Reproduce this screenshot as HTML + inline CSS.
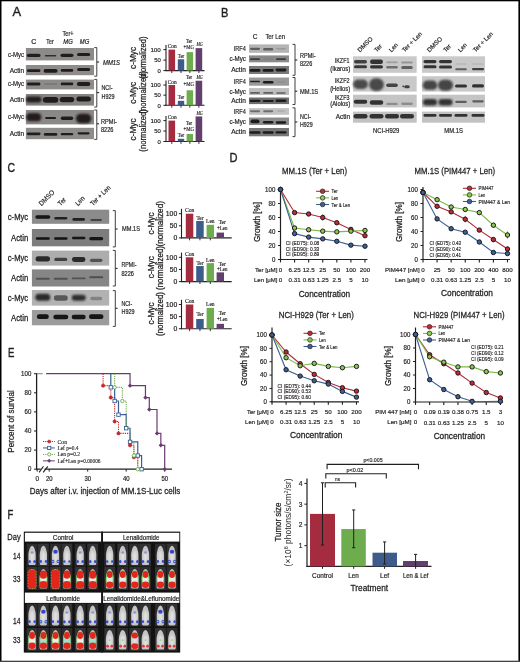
<!DOCTYPE html>
<html><head><meta charset="utf-8"><title>Figure</title>
<style>html,body{margin:0;padding:0;background:#fff;}body{width:520px;height:662px;overflow:hidden;font-family:"Liberation Sans",sans-serif;}svg{display:block;filter:blur(0.35px);}</style>
</head><body>
<svg width="520" height="662" viewBox="0 0 520 662"><defs>
<filter id="b1" x="-50%" y="-100%" width="200%" height="300%"><feGaussianBlur stdDeviation="0.6"/></filter>
<filter id="b2" x="-50%" y="-50%" width="200%" height="200%"><feGaussianBlur stdDeviation="1.0"/></filter>
<filter id="b05" x="-50%" y="-50%" width="200%" height="200%"><feGaussianBlur stdDeviation="0.5"/></filter>
<filter id="b06" x="-50%" y="-50%" width="200%" height="200%"><feGaussianBlur stdDeviation="0.6"/></filter>
<filter id="b08" x="-50%" y="-50%" width="200%" height="200%"><feGaussianBlur stdDeviation="1.0"/></filter>
</defs>
<rect x="0.00" y="0.00" width="520.00" height="1.30" fill="#000"/>
<rect x="0.00" y="0.00" width="1.50" height="662.00" fill="#000"/>
<rect x="518.40" y="0.00" width="1.60" height="662.00" fill="#000"/>
<rect x="0.00" y="660.70" width="520.00" height="1.30" fill="#444"/>
<text x="12.60" y="16.20" font-size="13" text-anchor="start" fill="#231f20" stroke="#231f20" stroke-width="0.390" font-family='"Liberation Sans", sans-serif' textLength="8.60" lengthAdjust="spacingAndGlyphs">A</text>
<text x="221.00" y="16.60" font-size="13" text-anchor="start" fill="#231f20" stroke="#231f20" stroke-width="0.390" font-family='"Liberation Sans", sans-serif' textLength="7.40" lengthAdjust="spacingAndGlyphs">B</text>
<text x="7.40" y="172.20" font-size="13" text-anchor="start" fill="#231f20" stroke="#231f20" stroke-width="0.390" font-family='"Liberation Sans", sans-serif' textLength="7.60" lengthAdjust="spacingAndGlyphs">C</text>
<text x="229.60" y="161.60" font-size="13" text-anchor="start" fill="#231f20" stroke="#231f20" stroke-width="0.390" font-family='"Liberation Sans", sans-serif' textLength="8.00" lengthAdjust="spacingAndGlyphs">D</text>
<text x="8.00" y="356.60" font-size="13" text-anchor="start" fill="#231f20" stroke="#231f20" stroke-width="0.390" font-family='"Liberation Sans", sans-serif' textLength="6.40" lengthAdjust="spacingAndGlyphs">E</text>
<text x="7.60" y="518.80" font-size="13" text-anchor="start" fill="#231f20" stroke="#231f20" stroke-width="0.390" font-family='"Liberation Sans", sans-serif' textLength="5.80" lengthAdjust="spacingAndGlyphs">F</text>
<text x="33.80" y="44.40" font-size="7" text-anchor="middle" fill="#231f20" stroke="#231f20" stroke-width="0.210" font-family='"Liberation Sans", sans-serif'>C</text>
<text x="50.00" y="44.40" font-size="7" text-anchor="middle" fill="#231f20" stroke="#231f20" stroke-width="0.210" font-family='"Liberation Sans", sans-serif' textLength="7.50" lengthAdjust="spacingAndGlyphs">Ter</text>
<text x="68.00" y="35.60" font-size="7" text-anchor="middle" fill="#231f20" stroke="#231f20" stroke-width="0.210" font-family='"Liberation Sans", sans-serif' textLength="11.00" lengthAdjust="spacingAndGlyphs">Ter+</text>
<text x="68.00" y="44.40" font-size="7" text-anchor="middle" fill="#231f20" stroke="#231f20" stroke-width="0.210" font-family='"Liberation Sans", sans-serif' textLength="9.50" lengthAdjust="spacingAndGlyphs" font-style="italic">MG</text>
<text x="84.50" y="44.40" font-size="7" text-anchor="middle" fill="#231f20" stroke="#231f20" stroke-width="0.210" font-family='"Liberation Sans", sans-serif' textLength="9.50" lengthAdjust="spacingAndGlyphs" font-style="italic">MG</text>
<rect x="25.90" y="48.00" width="68.10" height="12.40" fill="#8d8b8a"/>
<rect x="26.90" y="53.70" width="13.60" height="3.40" rx="1.70" fill="#211f1e" opacity="1" filter="url(#b1)"/>
<rect x="44.85" y="54.90" width="11.50" height="1.60" rx="0.80" fill="#211f1e" opacity="0.85" filter="url(#b1)"/>
<rect x="60.50" y="53.70" width="13.00" height="3.20" rx="1.60" fill="#211f1e" opacity="1" filter="url(#b1)"/>
<rect x="77.00" y="53.10" width="13.20" height="3.00" rx="1.50" fill="#211f1e" opacity="1" filter="url(#b1)"/>
<rect x="25.90" y="65.00" width="68.10" height="10.20" fill="#8e8c8b"/>
<rect x="26.95" y="69.30" width="13.50" height="2.80" rx="1.40" fill="#211f1e" opacity="1" filter="url(#b1)"/>
<rect x="43.60" y="69.10" width="14.00" height="3.60" rx="1.80" fill="#211f1e" opacity="1" filter="url(#b1)"/>
<rect x="60.75" y="69.10" width="12.50" height="2.60" rx="1.30" fill="#211f1e" opacity="1" filter="url(#b1)"/>
<rect x="77.10" y="68.00" width="13.00" height="3.00" rx="1.50" fill="#211f1e" opacity="1" filter="url(#b1)"/>
<rect x="25.90" y="79.60" width="68.10" height="9.80" fill="#8d8b8a"/>
<rect x="26.95" y="82.60" width="13.50" height="2.80" rx="1.40" fill="#211f1e" opacity="1" filter="url(#b1)"/>
<rect x="44.10" y="83.10" width="13.00" height="1.80" rx="0.90" fill="#666" opacity="0.45" filter="url(#b1)"/>
<rect x="60.75" y="82.60" width="12.50" height="2.60" rx="1.30" fill="#211f1e" opacity="1" filter="url(#b1)"/>
<rect x="76.85" y="82.00" width="13.50" height="4.00" rx="2.00" fill="#211f1e" opacity="1" filter="url(#b1)"/>
<rect x="25.90" y="94.00" width="68.10" height="11.60" fill="#878584"/>
<rect x="25.95" y="96.50" width="15.50" height="6.00" rx="3.00" fill="#211f1e" opacity="1" filter="url(#b2)"/>
<rect x="42.85" y="96.90" width="15.50" height="5.80" rx="2.90" fill="#211f1e" opacity="1" filter="url(#b1)"/>
<rect x="59.75" y="97.00" width="14.50" height="5.20" rx="2.60" fill="#211f1e" opacity="1" filter="url(#b1)"/>
<rect x="76.35" y="96.50" width="14.50" height="5.00" rx="2.50" fill="#211f1e" opacity="1" filter="url(#b1)"/>
<rect x="25.90" y="110.00" width="68.10" height="14.40" fill="#8b8988"/>
<rect x="26.10" y="113.05" width="15.20" height="8.30" rx="4.15" fill="#211f1e" opacity="1" filter="url(#b2)"/>
<rect x="45.10" y="116.90" width="11.00" height="2.20" rx="1.10" fill="#211f1e" opacity="1" filter="url(#b1)"/>
<rect x="60.75" y="116.50" width="12.50" height="3.40" rx="1.70" fill="#211f1e" opacity="1" filter="url(#b1)"/>
<rect x="75.90" y="113.70" width="15.40" height="9.60" rx="4.80" fill="#211f1e" opacity="1" filter="url(#b2)"/>
<rect x="25.90" y="127.80" width="68.10" height="11.40" fill="#8f8d8c"/>
<rect x="26.80" y="132.40" width="13.80" height="2.80" rx="1.40" fill="#211f1e" opacity="1" filter="url(#b1)"/>
<rect x="43.85" y="133.00" width="13.50" height="2.80" rx="1.40" fill="#211f1e" opacity="1" filter="url(#b1)"/>
<rect x="60.75" y="132.90" width="12.50" height="2.40" rx="1.20" fill="#211f1e" opacity="1" filter="url(#b1)"/>
<rect x="77.60" y="132.20" width="12.00" height="2.20" rx="1.10" fill="#211f1e" opacity="1" filter="url(#b1)"/>
<text x="24.00" y="57.00" font-size="7" text-anchor="end" fill="#231f20" stroke="#231f20" stroke-width="0.210" font-family='"Liberation Sans", sans-serif' textLength="16.00" lengthAdjust="spacingAndGlyphs">c-Myc</text>
<text x="24.00" y="72.60" font-size="7" text-anchor="end" fill="#231f20" stroke="#231f20" stroke-width="0.210" font-family='"Liberation Sans", sans-serif' textLength="14.30" lengthAdjust="spacingAndGlyphs">Actin</text>
<text x="24.00" y="86.40" font-size="7" text-anchor="end" fill="#231f20" stroke="#231f20" stroke-width="0.210" font-family='"Liberation Sans", sans-serif' textLength="16.00" lengthAdjust="spacingAndGlyphs">c-Myc</text>
<text x="24.00" y="102.20" font-size="7" text-anchor="end" fill="#231f20" stroke="#231f20" stroke-width="0.210" font-family='"Liberation Sans", sans-serif' textLength="14.30" lengthAdjust="spacingAndGlyphs">Actin</text>
<text x="24.00" y="119.40" font-size="7" text-anchor="end" fill="#231f20" stroke="#231f20" stroke-width="0.210" font-family='"Liberation Sans", sans-serif' textLength="16.00" lengthAdjust="spacingAndGlyphs">c-Myc</text>
<text x="24.00" y="135.60" font-size="7" text-anchor="end" fill="#231f20" stroke="#231f20" stroke-width="0.210" font-family='"Liberation Sans", sans-serif' textLength="14.30" lengthAdjust="spacingAndGlyphs">Actin</text>
<path d="M94.30,47.60 H96.80 V76.20 H94.30" stroke="#2a2a2a" stroke-width="0.9" fill="none"/>
<line x1="96.80" y1="62.00" x2="99.10" y2="62.00" stroke="#2a2a2a" stroke-width="1.1"/>
<path d="M94.30,79.40 H96.80 V107.00 H94.30" stroke="#2a2a2a" stroke-width="0.9" fill="none"/>
<line x1="96.80" y1="92.60" x2="99.10" y2="92.60" stroke="#2a2a2a" stroke-width="1.1"/>
<path d="M94.30,110.00 H96.80 V139.40 H94.30" stroke="#2a2a2a" stroke-width="0.9" fill="none"/>
<line x1="96.80" y1="123.80" x2="99.10" y2="123.80" stroke="#2a2a2a" stroke-width="1.1"/>
<text x="103.00" y="65.40" font-size="7" text-anchor="start" fill="#231f20" stroke="#231f20" stroke-width="0.210" font-family='"Liberation Sans", sans-serif' textLength="17.00" lengthAdjust="spacingAndGlyphs" font-style="italic">MM1S</text>
<text x="101.50" y="90.20" font-size="7" text-anchor="start" fill="#231f20" stroke="#231f20" stroke-width="0.210" font-family='"Liberation Sans", sans-serif' textLength="11.00" lengthAdjust="spacingAndGlyphs">NCI-</text>
<text x="101.50" y="99.40" font-size="7" text-anchor="start" fill="#231f20" stroke="#231f20" stroke-width="0.210" font-family='"Liberation Sans", sans-serif' textLength="13.00" lengthAdjust="spacingAndGlyphs">H929</text>
<text x="101.00" y="124.20" font-size="7" text-anchor="start" fill="#231f20" stroke="#231f20" stroke-width="0.210" font-family='"Liberation Sans", sans-serif' textLength="16.00" lengthAdjust="spacingAndGlyphs">RPMI-</text>
<text x="101.00" y="132.40" font-size="7" text-anchor="start" fill="#231f20" stroke="#231f20" stroke-width="0.210" font-family='"Liberation Sans", sans-serif' textLength="12.50" lengthAdjust="spacingAndGlyphs">8226</text>
<line x1="166.00" y1="45.00" x2="166.00" y2="71.10" stroke="#231f20" stroke-width="1.1"/>
<line x1="165.50" y1="70.60" x2="204.50" y2="70.60" stroke="#231f20" stroke-width="1.1"/>
<line x1="163.40" y1="70.60" x2="166.00" y2="70.60" stroke="#231f20" stroke-width="1"/>
<text x="160.80" y="72.80" font-size="6.2" text-anchor="end" fill="#231f20" stroke="#231f20" stroke-width="0.186" font-family='"Liberation Sans", sans-serif' textLength="3.30" lengthAdjust="spacingAndGlyphs">0</text>
<line x1="163.40" y1="60.10" x2="166.00" y2="60.10" stroke="#231f20" stroke-width="1"/>
<text x="160.80" y="62.30" font-size="6.2" text-anchor="end" fill="#231f20" stroke="#231f20" stroke-width="0.186" font-family='"Liberation Sans", sans-serif' textLength="6.60" lengthAdjust="spacingAndGlyphs">50</text>
<line x1="163.40" y1="49.60" x2="166.00" y2="49.60" stroke="#231f20" stroke-width="1"/>
<text x="160.80" y="51.80" font-size="6.2" text-anchor="end" fill="#231f20" stroke="#231f20" stroke-width="0.186" font-family='"Liberation Sans", sans-serif' textLength="10.40" lengthAdjust="spacingAndGlyphs">100</text>
<rect x="168.50" y="49.60" width="6.60" height="21.00" fill="#a52b3f"/>
<line x1="171.80" y1="70.60" x2="171.80" y2="73.00" stroke="#231f20" stroke-width="0.9"/>
<rect x="177.80" y="59.26" width="6.40" height="11.34" fill="#3e5c8a"/>
<line x1="181.00" y1="70.60" x2="181.00" y2="73.00" stroke="#231f20" stroke-width="0.9"/>
<rect x="186.60" y="52.12" width="6.50" height="18.48" fill="#6dad4e"/>
<line x1="189.85" y1="70.60" x2="189.85" y2="73.00" stroke="#231f20" stroke-width="0.9"/>
<rect x="195.60" y="48.13" width="6.60" height="22.47" fill="#633f6e"/>
<line x1="198.90" y1="70.60" x2="198.90" y2="73.00" stroke="#231f20" stroke-width="0.9"/>
<text x="172.20" y="48.20" font-size="5.2" text-anchor="middle" fill="#231f20" stroke="#231f20" stroke-width="0.156" font-family='"Liberation Serif", serif' textLength="9.00" lengthAdjust="spacingAndGlyphs">Con</text>
<text x="181.00" y="58.20" font-size="5.2" text-anchor="middle" fill="#231f20" stroke="#231f20" stroke-width="0.156" font-family='"Liberation Serif", serif' textLength="6.40" lengthAdjust="spacingAndGlyphs">Ter</text>
<text x="189.00" y="43.00" font-size="5.2" text-anchor="middle" fill="#231f20" stroke="#231f20" stroke-width="0.156" font-family='"Liberation Serif", serif' textLength="6.20" lengthAdjust="spacingAndGlyphs">Ter</text>
<text x="188.80" y="49.40" font-size="5.2" text-anchor="middle" fill="#231f20" stroke="#231f20" stroke-width="0.156" font-family='"Liberation Serif", serif' textLength="10.50" lengthAdjust="spacingAndGlyphs">+MG</text>
<text x="199.60" y="46.00" font-size="5.2" text-anchor="middle" fill="#231f20" stroke="#231f20" stroke-width="0.156" font-family='"Liberation Serif", serif' textLength="6.40" lengthAdjust="spacingAndGlyphs" font-style="italic">MG</text>
<line x1="166.00" y1="80.60" x2="166.00" y2="105.80" stroke="#231f20" stroke-width="1.1"/>
<line x1="165.50" y1="105.30" x2="204.50" y2="105.30" stroke="#231f20" stroke-width="1.1"/>
<line x1="163.40" y1="105.30" x2="166.00" y2="105.30" stroke="#231f20" stroke-width="1"/>
<text x="160.80" y="107.50" font-size="6.2" text-anchor="end" fill="#231f20" stroke="#231f20" stroke-width="0.186" font-family='"Liberation Sans", sans-serif' textLength="3.30" lengthAdjust="spacingAndGlyphs">0</text>
<line x1="163.40" y1="95.15" x2="166.00" y2="95.15" stroke="#231f20" stroke-width="1"/>
<text x="160.80" y="97.35" font-size="6.2" text-anchor="end" fill="#231f20" stroke="#231f20" stroke-width="0.186" font-family='"Liberation Sans", sans-serif' textLength="6.60" lengthAdjust="spacingAndGlyphs">50</text>
<line x1="163.40" y1="85.00" x2="166.00" y2="85.00" stroke="#231f20" stroke-width="1"/>
<text x="160.80" y="87.20" font-size="6.2" text-anchor="end" fill="#231f20" stroke="#231f20" stroke-width="0.186" font-family='"Liberation Sans", sans-serif' textLength="10.40" lengthAdjust="spacingAndGlyphs">100</text>
<rect x="168.50" y="85.00" width="6.60" height="20.30" fill="#a52b3f"/>
<line x1="171.80" y1="105.30" x2="171.80" y2="107.70" stroke="#231f20" stroke-width="0.9"/>
<rect x="177.80" y="100.83" width="6.40" height="4.47" fill="#3e5c8a"/>
<line x1="181.00" y1="105.30" x2="181.00" y2="107.70" stroke="#231f20" stroke-width="0.9"/>
<rect x="186.60" y="90.28" width="6.50" height="15.02" fill="#6dad4e"/>
<line x1="189.85" y1="105.30" x2="189.85" y2="107.70" stroke="#231f20" stroke-width="0.9"/>
<rect x="195.60" y="80.74" width="6.60" height="24.56" fill="#633f6e"/>
<line x1="198.90" y1="105.30" x2="198.90" y2="107.70" stroke="#231f20" stroke-width="0.9"/>
<text x="172.20" y="83.80" font-size="5.2" text-anchor="middle" fill="#231f20" stroke="#231f20" stroke-width="0.156" font-family='"Liberation Serif", serif' textLength="9.00" lengthAdjust="spacingAndGlyphs">Con</text>
<text x="181.00" y="98.80" font-size="5.2" text-anchor="middle" fill="#231f20" stroke="#231f20" stroke-width="0.156" font-family='"Liberation Serif", serif' textLength="6.40" lengthAdjust="spacingAndGlyphs">Ter</text>
<text x="189.00" y="79.20" font-size="5.2" text-anchor="middle" fill="#231f20" stroke="#231f20" stroke-width="0.156" font-family='"Liberation Serif", serif' textLength="6.20" lengthAdjust="spacingAndGlyphs">Ter</text>
<text x="188.80" y="86.00" font-size="5.2" text-anchor="middle" fill="#231f20" stroke="#231f20" stroke-width="0.156" font-family='"Liberation Serif", serif' textLength="10.50" lengthAdjust="spacingAndGlyphs">+MG</text>
<text x="199.60" y="78.80" font-size="5.2" text-anchor="middle" fill="#231f20" stroke="#231f20" stroke-width="0.156" font-family='"Liberation Serif", serif' textLength="6.40" lengthAdjust="spacingAndGlyphs" font-style="italic">MG</text>
<line x1="166.00" y1="116.00" x2="166.00" y2="142.00" stroke="#231f20" stroke-width="1.1"/>
<line x1="165.50" y1="141.50" x2="204.50" y2="141.50" stroke="#231f20" stroke-width="1.1"/>
<line x1="163.40" y1="141.50" x2="166.00" y2="141.50" stroke="#231f20" stroke-width="1"/>
<text x="160.80" y="143.70" font-size="6.2" text-anchor="end" fill="#231f20" stroke="#231f20" stroke-width="0.186" font-family='"Liberation Sans", sans-serif' textLength="3.30" lengthAdjust="spacingAndGlyphs">0</text>
<line x1="163.40" y1="131.05" x2="166.00" y2="131.05" stroke="#231f20" stroke-width="1"/>
<text x="160.80" y="133.25" font-size="6.2" text-anchor="end" fill="#231f20" stroke="#231f20" stroke-width="0.186" font-family='"Liberation Sans", sans-serif' textLength="6.60" lengthAdjust="spacingAndGlyphs">50</text>
<line x1="163.40" y1="120.60" x2="166.00" y2="120.60" stroke="#231f20" stroke-width="1"/>
<text x="160.80" y="122.80" font-size="6.2" text-anchor="end" fill="#231f20" stroke="#231f20" stroke-width="0.186" font-family='"Liberation Sans", sans-serif' textLength="10.40" lengthAdjust="spacingAndGlyphs">100</text>
<rect x="168.50" y="120.60" width="6.60" height="20.90" fill="#a52b3f"/>
<line x1="171.80" y1="141.50" x2="171.80" y2="143.90" stroke="#231f20" stroke-width="0.9"/>
<rect x="177.80" y="138.78" width="6.40" height="2.72" fill="#3e5c8a"/>
<line x1="181.00" y1="141.50" x2="181.00" y2="143.90" stroke="#231f20" stroke-width="0.9"/>
<rect x="186.60" y="133.98" width="6.50" height="7.52" fill="#6dad4e"/>
<line x1="189.85" y1="141.50" x2="189.85" y2="143.90" stroke="#231f20" stroke-width="0.9"/>
<rect x="195.60" y="116.42" width="6.60" height="25.08" fill="#633f6e"/>
<line x1="198.90" y1="141.50" x2="198.90" y2="143.90" stroke="#231f20" stroke-width="0.9"/>
<text x="172.20" y="119.20" font-size="5.2" text-anchor="middle" fill="#231f20" stroke="#231f20" stroke-width="0.156" font-family='"Liberation Serif", serif' textLength="9.00" lengthAdjust="spacingAndGlyphs">Con</text>
<text x="181.00" y="137.00" font-size="5.2" text-anchor="middle" fill="#231f20" stroke="#231f20" stroke-width="0.156" font-family='"Liberation Serif", serif' textLength="6.40" lengthAdjust="spacingAndGlyphs">Ter</text>
<text x="189.00" y="124.60" font-size="5.2" text-anchor="middle" fill="#231f20" stroke="#231f20" stroke-width="0.156" font-family='"Liberation Serif", serif' textLength="6.20" lengthAdjust="spacingAndGlyphs">Ter</text>
<text x="188.80" y="131.20" font-size="5.2" text-anchor="middle" fill="#231f20" stroke="#231f20" stroke-width="0.156" font-family='"Liberation Serif", serif' textLength="10.50" lengthAdjust="spacingAndGlyphs">+MG</text>
<text x="199.60" y="114.60" font-size="5.2" text-anchor="middle" fill="#231f20" stroke="#231f20" stroke-width="0.156" font-family='"Liberation Serif", serif' textLength="6.40" lengthAdjust="spacingAndGlyphs" font-style="italic">MG</text>
<text x="136.00" y="57.90" font-size="8.3" text-anchor="middle" fill="#231f20" stroke="#231f20" stroke-width="0.249" font-family='"Liberation Sans", sans-serif' textLength="22.00" lengthAdjust="spacingAndGlyphs" transform="rotate(-90 136.00 57.90)">c-Myc</text>
<text x="145.60" y="57.60" font-size="8.3" text-anchor="middle" fill="#231f20" stroke="#231f20" stroke-width="0.249" font-family='"Liberation Sans", sans-serif' textLength="42.50" lengthAdjust="spacingAndGlyphs" transform="rotate(-90 145.60 57.60)">(normalized)</text>
<text x="136.00" y="92.80" font-size="8.3" text-anchor="middle" fill="#231f20" stroke="#231f20" stroke-width="0.249" font-family='"Liberation Sans", sans-serif' textLength="22.00" lengthAdjust="spacingAndGlyphs" transform="rotate(-90 136.00 92.80)">c-Myc</text>
<text x="145.60" y="92.30" font-size="8.3" text-anchor="middle" fill="#231f20" stroke="#231f20" stroke-width="0.249" font-family='"Liberation Sans", sans-serif' textLength="42.50" lengthAdjust="spacingAndGlyphs" transform="rotate(-90 145.60 92.30)">(normalized)</text>
<text x="136.00" y="129.40" font-size="8.3" text-anchor="middle" fill="#231f20" stroke="#231f20" stroke-width="0.249" font-family='"Liberation Sans", sans-serif' textLength="22.00" lengthAdjust="spacingAndGlyphs" transform="rotate(-90 136.00 129.40)">c-Myc</text>
<text x="145.60" y="130.40" font-size="8.3" text-anchor="middle" fill="#231f20" stroke="#231f20" stroke-width="0.249" font-family='"Liberation Sans", sans-serif' textLength="42.50" lengthAdjust="spacingAndGlyphs" transform="rotate(-90 145.60 130.40)">(normalized)</text>
<text x="255.20" y="39.40" font-size="6.6" text-anchor="middle" fill="#231f20" stroke="#231f20" stroke-width="0.198" font-family='"Liberation Sans", sans-serif'>C</text>
<text x="275.20" y="39.40" font-size="6.6" text-anchor="middle" fill="#231f20" stroke="#231f20" stroke-width="0.198" font-family='"Liberation Sans", sans-serif' textLength="19.50" lengthAdjust="spacingAndGlyphs">Ter Len</text>
<rect x="249.00" y="44.40" width="40.00" height="8.40" fill="#b4b4b4"/>
<rect x="250.00" y="47.70" width="10.00" height="2.20" rx="1.10" fill="#555" opacity="0.9" filter="url(#b1)"/>
<rect x="263.20" y="48.00" width="10.00" height="2.40" rx="1.20" fill="#555" opacity="0.9" filter="url(#b1)"/>
<rect x="276.00" y="48.00" width="10.00" height="1.60" rx="0.80" fill="#888" opacity="0.6" filter="url(#b1)"/>
<text x="245.80" y="50.90" font-size="6.6" text-anchor="end" fill="#231f20" stroke="#231f20" stroke-width="0.198" font-family='"Liberation Sans", sans-serif' textLength="12.00" lengthAdjust="spacingAndGlyphs">IRF4</text>
<rect x="249.00" y="55.40" width="40.00" height="6.90" fill="#8a8a8a"/>
<rect x="250.00" y="58.25" width="10.00" height="1.80" rx="0.90" fill="#333" opacity="0.9" filter="url(#b1)"/>
<rect x="263.70" y="58.55" width="9.00" height="1.00" rx="0.50" fill="#666" opacity="0.4" filter="url(#b1)"/>
<rect x="276.00" y="58.25" width="10.00" height="1.80" rx="0.90" fill="#333" opacity="0.9" filter="url(#b1)"/>
<text x="245.80" y="61.15" font-size="6.6" text-anchor="end" fill="#231f20" stroke="#231f20" stroke-width="0.198" font-family='"Liberation Sans", sans-serif' textLength="16.40" lengthAdjust="spacingAndGlyphs">c-Myc</text>
<rect x="249.00" y="66.00" width="40.00" height="8.00" fill="#7a7a7a"/>
<rect x="249.50" y="69.00" width="11.00" height="2.80" rx="1.40" fill="#1c1c1c" opacity="1" filter="url(#b1)"/>
<rect x="262.70" y="69.10" width="11.00" height="2.60" rx="1.30" fill="#1c1c1c" opacity="1" filter="url(#b1)"/>
<rect x="275.50" y="68.60" width="11.00" height="2.80" rx="1.40" fill="#1c1c1c" opacity="1" filter="url(#b1)"/>
<text x="245.80" y="72.30" font-size="6.6" text-anchor="end" fill="#231f20" stroke="#231f20" stroke-width="0.198" font-family='"Liberation Sans", sans-serif' textLength="14.60" lengthAdjust="spacingAndGlyphs">Actin</text>
<rect x="249.00" y="77.50" width="40.00" height="8.20" fill="#999999"/>
<rect x="250.00" y="80.70" width="10.00" height="1.60" rx="0.80" fill="#1c1c1c" opacity="1" filter="url(#b1)"/>
<rect x="262.95" y="81.10" width="10.50" height="2.40" rx="1.20" fill="#1c1c1c" opacity="1" filter="url(#b1)"/>
<rect x="276.50" y="81.40" width="9.00" height="1.20" rx="0.60" fill="#777" opacity="0.5" filter="url(#b1)"/>
<text x="245.80" y="83.90" font-size="6.6" text-anchor="end" fill="#231f20" stroke="#231f20" stroke-width="0.198" font-family='"Liberation Sans", sans-serif' textLength="12.00" lengthAdjust="spacingAndGlyphs">IRF4</text>
<rect x="249.00" y="88.10" width="40.00" height="6.90" fill="#bdbdbd"/>
<rect x="250.00" y="92.05" width="10.00" height="1.80" rx="0.90" fill="#555" opacity="0.9" filter="url(#b1)"/>
<rect x="263.20" y="92.05" width="10.00" height="1.80" rx="0.90" fill="#555" opacity="0.9" filter="url(#b1)"/>
<rect x="276.25" y="92.15" width="9.50" height="1.60" rx="0.80" fill="#555" opacity="0.9" filter="url(#b1)"/>
<text x="245.80" y="93.85" font-size="6.6" text-anchor="end" fill="#231f20" stroke="#231f20" stroke-width="0.198" font-family='"Liberation Sans", sans-serif' textLength="16.40" lengthAdjust="spacingAndGlyphs">c-Myc</text>
<rect x="249.00" y="97.50" width="40.00" height="6.60" fill="#6e6e6e"/>
<rect x="249.50" y="99.70" width="11.00" height="2.20" rx="1.10" fill="#1c1c1c" opacity="1" filter="url(#b1)"/>
<rect x="262.70" y="99.90" width="11.00" height="2.20" rx="1.10" fill="#1c1c1c" opacity="1" filter="url(#b1)"/>
<rect x="275.50" y="99.60" width="11.00" height="2.40" rx="1.20" fill="#1c1c1c" opacity="1" filter="url(#b1)"/>
<text x="245.80" y="103.10" font-size="6.6" text-anchor="end" fill="#231f20" stroke="#231f20" stroke-width="0.198" font-family='"Liberation Sans", sans-serif' textLength="14.60" lengthAdjust="spacingAndGlyphs">Actin</text>
<rect x="249.00" y="108.10" width="40.00" height="6.70" fill="#c2c2c2"/>
<rect x="250.00" y="110.25" width="10.00" height="2.00" rx="1.00" fill="#666" opacity="0.9" filter="url(#b1)"/>
<rect x="263.20" y="110.25" width="10.00" height="2.00" rx="1.00" fill="#666" opacity="0.9" filter="url(#b1)"/>
<rect x="277.00" y="110.35" width="8.00" height="1.40" rx="0.70" fill="#999" opacity="0.6" filter="url(#b1)"/>
<text x="245.80" y="113.75" font-size="6.6" text-anchor="end" fill="#231f20" stroke="#231f20" stroke-width="0.198" font-family='"Liberation Sans", sans-serif' textLength="12.00" lengthAdjust="spacingAndGlyphs">IRF4</text>
<rect x="249.00" y="117.50" width="40.00" height="7.50" fill="#8c8c8c"/>
<rect x="250.50" y="119.55" width="9.00" height="3.80" rx="1.90" fill="#1c1c1c" opacity="1" filter="url(#b1)"/>
<rect x="262.95" y="120.95" width="10.50" height="2.60" rx="1.30" fill="#1c1c1c" opacity="1" filter="url(#b1)"/>
<rect x="275.75" y="121.15" width="10.50" height="2.60" rx="1.30" fill="#1c1c1c" opacity="1" filter="url(#b1)"/>
<text x="245.80" y="123.55" font-size="6.6" text-anchor="end" fill="#231f20" stroke="#231f20" stroke-width="0.198" font-family='"Liberation Sans", sans-serif' textLength="16.40" lengthAdjust="spacingAndGlyphs">c-Myc</text>
<rect x="249.00" y="128.00" width="40.00" height="8.30" fill="#777777"/>
<rect x="249.50" y="131.35" width="11.00" height="2.40" rx="1.20" fill="#1c1c1c" opacity="1" filter="url(#b1)"/>
<rect x="262.70" y="131.35" width="11.00" height="2.40" rx="1.20" fill="#1c1c1c" opacity="1" filter="url(#b1)"/>
<rect x="275.50" y="131.15" width="11.00" height="2.40" rx="1.20" fill="#1c1c1c" opacity="1" filter="url(#b1)"/>
<text x="245.80" y="134.45" font-size="6.6" text-anchor="end" fill="#231f20" stroke="#231f20" stroke-width="0.198" font-family='"Liberation Sans", sans-serif' textLength="14.60" lengthAdjust="spacingAndGlyphs">Actin</text>
<path d="M292.50,44.40 H295.00 V75.30 H292.50" stroke="#2a2a2a" stroke-width="0.9" fill="none"/>
<line x1="295.00" y1="60.00" x2="297.30" y2="60.00" stroke="#2a2a2a" stroke-width="1.1"/>
<path d="M292.50,77.50 H295.00 V104.50 H292.50" stroke="#2a2a2a" stroke-width="0.9" fill="none"/>
<line x1="295.00" y1="91.20" x2="297.30" y2="91.20" stroke="#2a2a2a" stroke-width="1.1"/>
<path d="M292.50,107.80 H295.00 V136.60 H292.50" stroke="#2a2a2a" stroke-width="0.9" fill="none"/>
<line x1="295.00" y1="122.00" x2="297.30" y2="122.00" stroke="#2a2a2a" stroke-width="1.1"/>
<text x="300.00" y="57.60" font-size="6.6" text-anchor="start" fill="#231f20" stroke="#231f20" stroke-width="0.198" font-family='"Liberation Sans", sans-serif' textLength="15.60" lengthAdjust="spacingAndGlyphs">RPMI-</text>
<text x="300.00" y="65.80" font-size="6.6" text-anchor="start" fill="#231f20" stroke="#231f20" stroke-width="0.198" font-family='"Liberation Sans", sans-serif' textLength="12.20" lengthAdjust="spacingAndGlyphs">8226</text>
<text x="300.00" y="93.80" font-size="6.6" text-anchor="start" fill="#231f20" stroke="#231f20" stroke-width="0.198" font-family='"Liberation Sans", sans-serif' textLength="18.20" lengthAdjust="spacingAndGlyphs">MM.1S</text>
<text x="300.00" y="118.60" font-size="6.6" text-anchor="start" fill="#231f20" stroke="#231f20" stroke-width="0.198" font-family='"Liberation Sans", sans-serif' textLength="11.00" lengthAdjust="spacingAndGlyphs">NCI-</text>
<text x="300.00" y="127.00" font-size="6.6" text-anchor="start" fill="#231f20" stroke="#231f20" stroke-width="0.198" font-family='"Liberation Sans", sans-serif' textLength="12.60" lengthAdjust="spacingAndGlyphs">H929</text>
<rect x="353.00" y="56.30" width="63.70" height="16.50" fill="#c9c9c9"/>
<rect x="353.00" y="76.20" width="63.70" height="15.40" fill="#c9c9c9"/>
<rect x="353.00" y="94.70" width="63.70" height="12.70" fill="#c4c4c4"/>
<rect x="353.00" y="111.60" width="63.70" height="11.10" fill="#c2c2c2"/>
<rect x="354.00" y="60.00" width="13.00" height="3.40" rx="1.70" fill="#404040" opacity="1" filter="url(#b1)"/>
<rect x="354.00" y="65.30" width="13.00" height="3.00" rx="1.50" fill="#383838" opacity="1" filter="url(#b1)"/>
<rect x="370.00" y="59.40" width="13.00" height="4.60" rx="2.30" fill="#333" opacity="1" filter="url(#b1)"/>
<rect x="370.00" y="65.20" width="13.00" height="3.20" rx="1.60" fill="#333" opacity="1" filter="url(#b1)"/>
<rect x="386.25" y="61.20" width="11.50" height="2.00" rx="1.00" fill="#999" opacity="0.8" filter="url(#b1)"/>
<rect x="386.25" y="65.95" width="11.50" height="2.50" rx="1.25" fill="#666" opacity="0.9" filter="url(#b1)"/>
<rect x="401.25" y="61.60" width="11.50" height="2.00" rx="1.00" fill="#888" opacity="0.8" filter="url(#b1)"/>
<rect x="401.25" y="66.10" width="11.50" height="3.00" rx="1.50" fill="#555" opacity="0.9" filter="url(#b1)"/>
<rect x="353.10" y="79.60" width="14.80" height="9.40" rx="4.70" fill="#4a4a4a" opacity="1" filter="url(#b2)"/>
<rect x="369.10" y="78.30" width="14.80" height="12.60" rx="6.30" fill="#4a4a4a" opacity="1" filter="url(#b2)"/>
<rect x="386.25" y="83.60" width="11.50" height="3.40" rx="1.70" fill="#444" opacity="1" filter="url(#b1)"/>
<rect x="404.25" y="85.20" width="5.50" height="3.00" rx="1.50" fill="#333" opacity="0.9" filter="url(#b1)"/>
<rect x="402.20" y="85.40" width="2.00" height="1.80" rx="0.90" fill="#333" opacity="0.9" filter="url(#b1)"/>
<rect x="353.75" y="99.80" width="13.50" height="4.00" rx="2.00" fill="#333" opacity="1" filter="url(#b1)"/>
<rect x="369.75" y="100.35" width="13.50" height="4.50" rx="2.25" fill="#333" opacity="1" filter="url(#b1)"/>
<rect x="386.25" y="102.70" width="11.50" height="2.40" rx="1.20" fill="#888" opacity="0.9" filter="url(#b1)"/>
<rect x="401.25" y="102.50" width="11.50" height="2.40" rx="1.20" fill="#888" opacity="0.9" filter="url(#b1)"/>
<rect x="353.50" y="114.00" width="14.00" height="4.40" rx="2.20" fill="#333333" opacity="1" filter="url(#b1)"/>
<rect x="369.50" y="114.00" width="14.00" height="4.40" rx="2.20" fill="#333333" opacity="1" filter="url(#b1)"/>
<rect x="385.00" y="114.00" width="14.00" height="4.40" rx="2.20" fill="#333333" opacity="1" filter="url(#b1)"/>
<rect x="400.00" y="114.00" width="14.00" height="4.40" rx="2.20" fill="#333333" opacity="1" filter="url(#b1)"/>
<text x="360.10" y="52.40" font-size="6.2" text-anchor="start" fill="#231f20" stroke="#231f20" stroke-width="0.186" font-family='"Liberation Sans", sans-serif' textLength="18.50" lengthAdjust="spacingAndGlyphs" transform="rotate(-45 360.10 52.40)">DMSO</text>
<text x="376.70" y="52.40" font-size="6.2" text-anchor="start" fill="#231f20" stroke="#231f20" stroke-width="0.186" font-family='"Liberation Sans", sans-serif' textLength="8.20" lengthAdjust="spacingAndGlyphs" transform="rotate(-45 376.70 52.40)">Ter</text>
<text x="391.40" y="52.40" font-size="6.2" text-anchor="start" fill="#231f20" stroke="#231f20" stroke-width="0.186" font-family='"Liberation Sans", sans-serif' textLength="10.00" lengthAdjust="spacingAndGlyphs" transform="rotate(-45 391.40 52.40)">Len</text>
<text x="404.40" y="52.40" font-size="6.2" text-anchor="start" fill="#231f20" stroke="#231f20" stroke-width="0.186" font-family='"Liberation Sans", sans-serif' textLength="25.50" lengthAdjust="spacingAndGlyphs" transform="rotate(-45 404.40 52.40)">Ter + Len</text>
<rect x="422.00" y="56.30" width="63.00" height="16.50" fill="#c9c9c9"/>
<rect x="422.00" y="76.20" width="63.00" height="15.40" fill="#c9c9c9"/>
<rect x="422.00" y="94.70" width="63.00" height="12.70" fill="#c4c4c4"/>
<rect x="422.00" y="111.60" width="63.00" height="11.10" fill="#c2c2c2"/>
<rect x="423.50" y="60.00" width="13.00" height="3.20" rx="1.60" fill="#333333" opacity="1" filter="url(#b1)"/>
<rect x="423.50" y="65.30" width="13.00" height="3.00" rx="1.50" fill="#333333" opacity="1" filter="url(#b1)"/>
<rect x="439.00" y="60.00" width="13.00" height="3.20" rx="1.60" fill="#333333" opacity="1" filter="url(#b1)"/>
<rect x="439.00" y="65.40" width="13.00" height="3.20" rx="1.60" fill="#333333" opacity="1" filter="url(#b1)"/>
<rect x="455.25" y="63.50" width="11.50" height="1.00" rx="0.50" fill="#888" opacity="0.4" filter="url(#b1)"/>
<rect x="455.25" y="68.20" width="11.50" height="2.00" rx="1.00" fill="#444" opacity="0.8" filter="url(#b1)"/>
<rect x="472.25" y="63.50" width="11.50" height="1.00" rx="0.50" fill="#888" opacity="0.4" filter="url(#b1)"/>
<rect x="472.00" y="68.10" width="12.00" height="2.20" rx="1.10" fill="#333" opacity="0.9" filter="url(#b1)"/>
<rect x="422.75" y="80.60" width="14.50" height="9.20" rx="4.60" fill="#444" opacity="1" filter="url(#b2)"/>
<rect x="438.00" y="79.70" width="15.00" height="11.00" rx="5.50" fill="#444" opacity="1" filter="url(#b2)"/>
<rect x="455.00" y="84.50" width="12.00" height="3.00" rx="1.50" fill="#333" opacity="1" filter="url(#b1)"/>
<rect x="472.00" y="84.30" width="12.00" height="3.20" rx="1.60" fill="#333" opacity="1" filter="url(#b1)"/>
<rect x="423.00" y="99.00" width="14.00" height="6.40" rx="3.20" fill="#333333" opacity="1" filter="url(#b2)"/>
<rect x="438.50" y="98.90" width="14.00" height="6.60" rx="3.30" fill="#333333" opacity="1" filter="url(#b2)"/>
<rect x="455.25" y="100.80" width="11.50" height="2.20" rx="1.10" fill="#444" opacity="0.8" filter="url(#b1)"/>
<rect x="472.25" y="100.20" width="11.50" height="2.20" rx="1.10" fill="#444" opacity="0.8" filter="url(#b1)"/>
<rect x="423.50" y="114.10" width="13.00" height="2.60" rx="1.30" fill="#333333" opacity="1" filter="url(#b1)"/>
<rect x="439.00" y="114.10" width="13.00" height="2.60" rx="1.30" fill="#333333" opacity="1" filter="url(#b1)"/>
<rect x="454.50" y="114.10" width="13.00" height="2.60" rx="1.30" fill="#333333" opacity="1" filter="url(#b1)"/>
<rect x="471.50" y="114.10" width="13.00" height="2.60" rx="1.30" fill="#333333" opacity="1" filter="url(#b1)"/>
<text x="429.60" y="52.40" font-size="6.2" text-anchor="start" fill="#231f20" stroke="#231f20" stroke-width="0.186" font-family='"Liberation Sans", sans-serif' textLength="18.50" lengthAdjust="spacingAndGlyphs" transform="rotate(-45 429.60 52.40)">DMSO</text>
<text x="445.70" y="52.40" font-size="6.2" text-anchor="start" fill="#231f20" stroke="#231f20" stroke-width="0.186" font-family='"Liberation Sans", sans-serif' textLength="8.20" lengthAdjust="spacingAndGlyphs" transform="rotate(-45 445.70 52.40)">Ter</text>
<text x="460.40" y="52.40" font-size="6.2" text-anchor="start" fill="#231f20" stroke="#231f20" stroke-width="0.186" font-family='"Liberation Sans", sans-serif' textLength="10.00" lengthAdjust="spacingAndGlyphs" transform="rotate(-45 460.40 52.40)">Len</text>
<text x="475.40" y="52.40" font-size="6.2" text-anchor="start" fill="#231f20" stroke="#231f20" stroke-width="0.186" font-family='"Liberation Sans", sans-serif' textLength="25.50" lengthAdjust="spacingAndGlyphs" transform="rotate(-45 475.40 52.40)">Ter + Len</text>
<text x="349.40" y="63.20" font-size="6.6" text-anchor="end" fill="#231f20" stroke="#231f20" stroke-width="0.198" font-family='"Liberation Sans", sans-serif' textLength="14.60" lengthAdjust="spacingAndGlyphs">IKZF1</text>
<text x="350.20" y="70.60" font-size="6.6" text-anchor="end" fill="#231f20" stroke="#231f20" stroke-width="0.198" font-family='"Liberation Sans", sans-serif' textLength="20.00" lengthAdjust="spacingAndGlyphs">(Ikaros)</text>
<text x="349.40" y="83.20" font-size="6.6" text-anchor="end" fill="#231f20" stroke="#231f20" stroke-width="0.198" font-family='"Liberation Sans", sans-serif' textLength="14.60" lengthAdjust="spacingAndGlyphs">IKZF2</text>
<text x="350.20" y="90.60" font-size="6.6" text-anchor="end" fill="#231f20" stroke="#231f20" stroke-width="0.198" font-family='"Liberation Sans", sans-serif' textLength="20.00" lengthAdjust="spacingAndGlyphs">(Helios)</text>
<text x="349.40" y="99.60" font-size="6.6" text-anchor="end" fill="#231f20" stroke="#231f20" stroke-width="0.198" font-family='"Liberation Sans", sans-serif' textLength="14.60" lengthAdjust="spacingAndGlyphs">IKZF3</text>
<text x="350.20" y="106.40" font-size="6.6" text-anchor="end" fill="#231f20" stroke="#231f20" stroke-width="0.198" font-family='"Liberation Sans", sans-serif' textLength="20.00" lengthAdjust="spacingAndGlyphs">(Aiolos)</text>
<text x="350.00" y="119.20" font-size="6.6" text-anchor="end" fill="#231f20" stroke="#231f20" stroke-width="0.198" font-family='"Liberation Sans", sans-serif' textLength="14.30" lengthAdjust="spacingAndGlyphs">Actin</text>
<text x="386.20" y="132.60" font-size="6.6" text-anchor="middle" fill="#231f20" stroke="#231f20" stroke-width="0.198" font-family='"Liberation Sans", sans-serif' textLength="26.40" lengthAdjust="spacingAndGlyphs">NCI-H929</text>
<text x="453.60" y="132.60" font-size="6.6" text-anchor="middle" fill="#231f20" stroke="#231f20" stroke-width="0.198" font-family='"Liberation Sans", sans-serif' textLength="18.60" lengthAdjust="spacingAndGlyphs">MM.1S</text>
<text x="41.60" y="206.20" font-size="6.8" text-anchor="start" fill="#231f20" stroke="#231f20" stroke-width="0.204" font-family='"Liberation Sans", sans-serif' textLength="19.00" lengthAdjust="spacingAndGlyphs" transform="rotate(-45 41.60 206.20)">DMSO</text>
<text x="60.50" y="206.20" font-size="6.8" text-anchor="start" fill="#231f20" stroke="#231f20" stroke-width="0.204" font-family='"Liberation Sans", sans-serif' textLength="8.50" lengthAdjust="spacingAndGlyphs" transform="rotate(-45 60.50 206.20)">Ter</text>
<text x="77.90" y="206.20" font-size="6.8" text-anchor="start" fill="#231f20" stroke="#231f20" stroke-width="0.204" font-family='"Liberation Sans", sans-serif' textLength="10.50" lengthAdjust="spacingAndGlyphs" transform="rotate(-45 77.90 206.20)">Len</text>
<text x="93.00" y="206.20" font-size="6.8" text-anchor="start" fill="#231f20" stroke="#231f20" stroke-width="0.204" font-family='"Liberation Sans", sans-serif' textLength="25.50" lengthAdjust="spacingAndGlyphs" transform="rotate(-45 93.00 206.20)">Ter + Len</text>
<rect x="31.90" y="209.70" width="77.30" height="14.10" fill="#8b8b8b"/>
<rect x="35.30" y="215.30" width="15.00" height="3.40" rx="1.70" fill="#161616" opacity="1" filter="url(#b1)"/>
<rect x="54.30" y="217.00" width="13.00" height="2.60" rx="1.30" fill="#161616" opacity="0.9" filter="url(#b1)"/>
<rect x="72.45" y="218.10" width="12.50" height="2.60" rx="1.30" fill="#161616" opacity="0.9" filter="url(#b1)"/>
<rect x="90.45" y="218.90" width="11.50" height="2.00" rx="1.00" fill="#333" opacity="0.8" filter="url(#b1)"/>
<text x="28.20" y="219.75" font-size="8.6" text-anchor="end" fill="#231f20" stroke="#231f20" stroke-width="0.258" font-family='"Liberation Sans", sans-serif' textLength="20.40" lengthAdjust="spacingAndGlyphs">c-Myc</text>
<rect x="31.90" y="229.00" width="77.30" height="17.30" fill="#7d7d7d"/>
<rect x="35.80" y="237.25" width="14.00" height="2.40" rx="1.20" fill="#161616" opacity="1" filter="url(#b1)"/>
<rect x="54.05" y="237.25" width="13.50" height="2.40" rx="1.20" fill="#161616" opacity="1" filter="url(#b1)"/>
<rect x="71.95" y="236.65" width="13.50" height="2.60" rx="1.30" fill="#161616" opacity="1" filter="url(#b1)"/>
<rect x="89.20" y="236.95" width="14.00" height="3.40" rx="1.70" fill="#161616" opacity="1" filter="url(#b1)"/>
<text x="28.20" y="240.65" font-size="8.6" text-anchor="end" fill="#231f20" stroke="#231f20" stroke-width="0.258" font-family='"Liberation Sans", sans-serif' textLength="17.20" lengthAdjust="spacingAndGlyphs">Actin</text>
<rect x="31.90" y="250.60" width="77.30" height="15.00" fill="#adadad"/>
<rect x="35.55" y="256.20" width="14.50" height="5.20" rx="2.60" fill="#2c2c2c" opacity="1" filter="url(#b1)"/>
<rect x="54.30" y="257.80" width="13.00" height="3.20" rx="1.60" fill="#3a3a3a" opacity="0.95" filter="url(#b1)"/>
<rect x="71.95" y="257.10" width="13.50" height="4.80" rx="2.40" fill="#2c2c2c" opacity="1" filter="url(#b1)"/>
<rect x="89.95" y="258.70" width="12.50" height="3.20" rx="1.60" fill="#4a4a4a" opacity="0.9" filter="url(#b1)"/>
<text x="28.20" y="261.10" font-size="8.6" text-anchor="end" fill="#231f20" stroke="#231f20" stroke-width="0.258" font-family='"Liberation Sans", sans-serif' textLength="20.40" lengthAdjust="spacingAndGlyphs">c-Myc</text>
<rect x="31.90" y="269.40" width="77.30" height="17.10" fill="#868686"/>
<rect x="35.80" y="277.85" width="14.00" height="1.80" rx="0.90" fill="#4a4a4a" opacity="0.85" filter="url(#b1)"/>
<rect x="53.80" y="277.85" width="14.00" height="1.80" rx="0.90" fill="#4a4a4a" opacity="0.85" filter="url(#b1)"/>
<rect x="71.70" y="277.55" width="14.00" height="1.80" rx="0.90" fill="#4a4a4a" opacity="0.85" filter="url(#b1)"/>
<rect x="89.20" y="276.35" width="14.00" height="2.00" rx="1.00" fill="#444" opacity="0.85" filter="url(#b1)"/>
<text x="28.20" y="280.95" font-size="8.6" text-anchor="end" fill="#231f20" stroke="#231f20" stroke-width="0.258" font-family='"Liberation Sans", sans-serif' textLength="17.20" lengthAdjust="spacingAndGlyphs">Actin</text>
<rect x="31.90" y="290.00" width="77.30" height="15.60" fill="#b2b2b2"/>
<rect x="35.30" y="293.70" width="15.00" height="7.00" rx="3.50" fill="#2c2c2c" opacity="1" filter="url(#b2)"/>
<rect x="53.80" y="295.30" width="14.00" height="5.40" rx="2.70" fill="#505050" opacity="0.9" filter="url(#b1)"/>
<rect x="71.70" y="294.80" width="14.00" height="6.00" rx="3.00" fill="#2e2e2e" opacity="1" filter="url(#b2)"/>
<rect x="90.20" y="296.75" width="12.00" height="3.50" rx="1.75" fill="#777" opacity="0.8" filter="url(#b1)"/>
<text x="28.20" y="300.80" font-size="8.6" text-anchor="end" fill="#231f20" stroke="#231f20" stroke-width="0.258" font-family='"Liberation Sans", sans-serif' textLength="20.40" lengthAdjust="spacingAndGlyphs">c-Myc</text>
<rect x="31.90" y="310.00" width="77.30" height="15.30" fill="#9c9c9c"/>
<rect x="36.80" y="314.35" width="12.00" height="4.60" rx="2.30" fill="#161616" opacity="1" filter="url(#b1)"/>
<rect x="53.30" y="314.75" width="15.00" height="4.60" rx="2.30" fill="#161616" opacity="1" filter="url(#b1)"/>
<rect x="71.70" y="314.85" width="14.00" height="4.40" rx="2.20" fill="#161616" opacity="1" filter="url(#b1)"/>
<rect x="88.95" y="314.35" width="14.50" height="4.60" rx="2.30" fill="#161616" opacity="1" filter="url(#b1)"/>
<text x="28.20" y="320.65" font-size="8.6" text-anchor="end" fill="#231f20" stroke="#231f20" stroke-width="0.258" font-family='"Liberation Sans", sans-serif' textLength="17.20" lengthAdjust="spacingAndGlyphs">Actin</text>
<path d="M112.80,210.60 H115.30 V246.90 H112.80" stroke="#2a2a2a" stroke-width="0.9" fill="none"/>
<line x1="115.30" y1="229.00" x2="117.60" y2="229.00" stroke="#2a2a2a" stroke-width="1.1"/>
<path d="M112.80,250.40 H115.30 V286.00 H112.80" stroke="#2a2a2a" stroke-width="0.9" fill="none"/>
<line x1="115.30" y1="268.40" x2="117.60" y2="268.40" stroke="#2a2a2a" stroke-width="1.1"/>
<path d="M112.80,290.60 H115.30 V326.40 H112.80" stroke="#2a2a2a" stroke-width="0.9" fill="none"/>
<line x1="115.30" y1="308.30" x2="117.60" y2="308.30" stroke="#2a2a2a" stroke-width="1.1"/>
<text x="122.00" y="230.60" font-size="7.0" text-anchor="start" fill="#231f20" stroke="#231f20" stroke-width="0.210" font-family='"Liberation Sans", sans-serif' textLength="18.00" lengthAdjust="spacingAndGlyphs">MM.1S</text>
<text x="121.50" y="267.40" font-size="7.0" text-anchor="start" fill="#231f20" stroke="#231f20" stroke-width="0.210" font-family='"Liberation Sans", sans-serif' textLength="15.00" lengthAdjust="spacingAndGlyphs">RPMI-</text>
<text x="121.50" y="275.60" font-size="7.0" text-anchor="start" fill="#231f20" stroke="#231f20" stroke-width="0.210" font-family='"Liberation Sans", sans-serif' textLength="12.40" lengthAdjust="spacingAndGlyphs">8226</text>
<text x="121.50" y="306.00" font-size="7.0" text-anchor="start" fill="#231f20" stroke="#231f20" stroke-width="0.210" font-family='"Liberation Sans", sans-serif' textLength="10.60" lengthAdjust="spacingAndGlyphs">NCI-</text>
<text x="121.50" y="314.00" font-size="7.0" text-anchor="start" fill="#231f20" stroke="#231f20" stroke-width="0.210" font-family='"Liberation Sans", sans-serif' textLength="13.00" lengthAdjust="spacingAndGlyphs">H929</text>
<line x1="181.50" y1="208.80" x2="181.50" y2="238.40" stroke="#231f20" stroke-width="1.1"/>
<line x1="181.00" y1="237.90" x2="231.70" y2="237.90" stroke="#231f20" stroke-width="1.1"/>
<line x1="178.90" y1="237.90" x2="181.50" y2="237.90" stroke="#231f20" stroke-width="1"/>
<text x="177.20" y="240.30" font-size="6.8" text-anchor="end" fill="#231f20" stroke="#231f20" stroke-width="0.204" font-family='"Liberation Sans", sans-serif' textLength="3.80" lengthAdjust="spacingAndGlyphs">0</text>
<line x1="178.90" y1="225.80" x2="181.50" y2="225.80" stroke="#231f20" stroke-width="1"/>
<text x="177.20" y="228.20" font-size="6.8" text-anchor="end" fill="#231f20" stroke="#231f20" stroke-width="0.204" font-family='"Liberation Sans", sans-serif' textLength="7.40" lengthAdjust="spacingAndGlyphs">50</text>
<line x1="178.90" y1="213.70" x2="181.50" y2="213.70" stroke="#231f20" stroke-width="1"/>
<text x="177.20" y="216.10" font-size="6.8" text-anchor="end" fill="#231f20" stroke="#231f20" stroke-width="0.204" font-family='"Liberation Sans", sans-serif' textLength="11.40" lengthAdjust="spacingAndGlyphs">100</text>
<rect x="185.80" y="213.70" width="7.50" height="24.20" fill="#a52b3f"/>
<line x1="189.55" y1="237.90" x2="189.55" y2="240.30" stroke="#231f20" stroke-width="0.9"/>
<rect x="196.20" y="220.96" width="7.50" height="16.94" fill="#3e5c8a"/>
<line x1="199.95" y1="237.90" x2="199.95" y2="240.30" stroke="#231f20" stroke-width="0.9"/>
<rect x="206.60" y="224.83" width="7.40" height="13.07" fill="#6dad4e"/>
<line x1="210.30" y1="237.90" x2="210.30" y2="240.30" stroke="#231f20" stroke-width="0.9"/>
<rect x="216.60" y="232.58" width="7.40" height="5.32" fill="#633f6e"/>
<text x="189.60" y="212.20" font-size="6.0" text-anchor="middle" fill="#231f20" stroke="#231f20" stroke-width="0.180" font-family='"Liberation Serif", serif' textLength="9.40" lengthAdjust="spacingAndGlyphs">Con</text>
<text x="200.00" y="219.60" font-size="6.0" text-anchor="middle" fill="#231f20" stroke="#231f20" stroke-width="0.180" font-family='"Liberation Serif", serif' textLength="7.00" lengthAdjust="spacingAndGlyphs">Ter</text>
<text x="210.30" y="222.60" font-size="6.0" text-anchor="middle" fill="#231f20" stroke="#231f20" stroke-width="0.180" font-family='"Liberation Serif", serif' textLength="8.40" lengthAdjust="spacingAndGlyphs">Len</text>
<text x="222.20" y="224.20" font-size="6.0" text-anchor="middle" fill="#231f20" stroke="#231f20" stroke-width="0.180" font-family='"Liberation Serif", serif' textLength="7.00" lengthAdjust="spacingAndGlyphs">Ter</text>
<text x="222.20" y="230.20" font-size="6.0" text-anchor="middle" fill="#231f20" stroke="#231f20" stroke-width="0.180" font-family='"Liberation Serif", serif' textLength="10.20" lengthAdjust="spacingAndGlyphs">+Len</text>
<line x1="181.50" y1="252.60" x2="181.50" y2="282.10" stroke="#231f20" stroke-width="1.1"/>
<line x1="181.00" y1="281.60" x2="231.70" y2="281.60" stroke="#231f20" stroke-width="1.1"/>
<line x1="178.90" y1="281.60" x2="181.50" y2="281.60" stroke="#231f20" stroke-width="1"/>
<text x="177.20" y="284.00" font-size="6.8" text-anchor="end" fill="#231f20" stroke="#231f20" stroke-width="0.204" font-family='"Liberation Sans", sans-serif' textLength="3.80" lengthAdjust="spacingAndGlyphs">0</text>
<line x1="178.90" y1="269.45" x2="181.50" y2="269.45" stroke="#231f20" stroke-width="1"/>
<text x="177.20" y="271.85" font-size="6.8" text-anchor="end" fill="#231f20" stroke="#231f20" stroke-width="0.204" font-family='"Liberation Sans", sans-serif' textLength="7.40" lengthAdjust="spacingAndGlyphs">50</text>
<line x1="178.90" y1="257.30" x2="181.50" y2="257.30" stroke="#231f20" stroke-width="1"/>
<text x="177.20" y="259.70" font-size="6.8" text-anchor="end" fill="#231f20" stroke="#231f20" stroke-width="0.204" font-family='"Liberation Sans", sans-serif' textLength="11.40" lengthAdjust="spacingAndGlyphs">100</text>
<rect x="185.80" y="257.30" width="7.50" height="24.30" fill="#a52b3f"/>
<line x1="189.55" y1="281.60" x2="189.55" y2="284.00" stroke="#231f20" stroke-width="0.9"/>
<rect x="196.20" y="266.05" width="7.50" height="15.55" fill="#3e5c8a"/>
<line x1="199.95" y1="281.60" x2="199.95" y2="284.00" stroke="#231f20" stroke-width="0.9"/>
<rect x="206.60" y="263.13" width="7.40" height="18.47" fill="#6dad4e"/>
<line x1="210.30" y1="281.60" x2="210.30" y2="284.00" stroke="#231f20" stroke-width="0.9"/>
<rect x="216.60" y="272.37" width="7.40" height="9.23" fill="#633f6e"/>
<text x="189.60" y="255.80" font-size="6.0" text-anchor="middle" fill="#231f20" stroke="#231f20" stroke-width="0.180" font-family='"Liberation Serif", serif' textLength="9.40" lengthAdjust="spacingAndGlyphs">Con</text>
<text x="200.00" y="264.80" font-size="6.0" text-anchor="middle" fill="#231f20" stroke="#231f20" stroke-width="0.180" font-family='"Liberation Serif", serif' textLength="7.00" lengthAdjust="spacingAndGlyphs">Ter</text>
<text x="210.30" y="261.80" font-size="6.0" text-anchor="middle" fill="#231f20" stroke="#231f20" stroke-width="0.180" font-family='"Liberation Serif", serif' textLength="8.40" lengthAdjust="spacingAndGlyphs">Len</text>
<text x="222.20" y="265.60" font-size="6.0" text-anchor="middle" fill="#231f20" stroke="#231f20" stroke-width="0.180" font-family='"Liberation Serif", serif' textLength="7.00" lengthAdjust="spacingAndGlyphs">Ter</text>
<text x="222.20" y="271.40" font-size="6.0" text-anchor="middle" fill="#231f20" stroke="#231f20" stroke-width="0.180" font-family='"Liberation Serif", serif' textLength="10.20" lengthAdjust="spacingAndGlyphs">+Len</text>
<line x1="181.50" y1="299.80" x2="181.50" y2="329.20" stroke="#231f20" stroke-width="1.1"/>
<line x1="181.00" y1="328.70" x2="231.70" y2="328.70" stroke="#231f20" stroke-width="1.1"/>
<line x1="178.90" y1="328.70" x2="181.50" y2="328.70" stroke="#231f20" stroke-width="1"/>
<text x="177.20" y="331.10" font-size="6.8" text-anchor="end" fill="#231f20" stroke="#231f20" stroke-width="0.204" font-family='"Liberation Sans", sans-serif' textLength="3.80" lengthAdjust="spacingAndGlyphs">0</text>
<line x1="178.90" y1="316.60" x2="181.50" y2="316.60" stroke="#231f20" stroke-width="1"/>
<text x="177.20" y="319.00" font-size="6.8" text-anchor="end" fill="#231f20" stroke="#231f20" stroke-width="0.204" font-family='"Liberation Sans", sans-serif' textLength="7.40" lengthAdjust="spacingAndGlyphs">50</text>
<line x1="178.90" y1="304.50" x2="181.50" y2="304.50" stroke="#231f20" stroke-width="1"/>
<text x="177.20" y="306.90" font-size="6.8" text-anchor="end" fill="#231f20" stroke="#231f20" stroke-width="0.204" font-family='"Liberation Sans", sans-serif' textLength="11.40" lengthAdjust="spacingAndGlyphs">100</text>
<rect x="185.80" y="304.50" width="7.50" height="24.20" fill="#a52b3f"/>
<line x1="189.55" y1="328.70" x2="189.55" y2="331.10" stroke="#231f20" stroke-width="0.9"/>
<rect x="196.20" y="319.02" width="7.50" height="9.68" fill="#3e5c8a"/>
<line x1="199.95" y1="328.70" x2="199.95" y2="331.10" stroke="#231f20" stroke-width="0.9"/>
<rect x="206.60" y="307.89" width="7.40" height="20.81" fill="#6dad4e"/>
<line x1="210.30" y1="328.70" x2="210.30" y2="331.10" stroke="#231f20" stroke-width="0.9"/>
<rect x="216.60" y="323.86" width="7.40" height="4.84" fill="#633f6e"/>
<text x="189.60" y="302.60" font-size="6.0" text-anchor="middle" fill="#231f20" stroke="#231f20" stroke-width="0.180" font-family='"Liberation Serif", serif' textLength="9.40" lengthAdjust="spacingAndGlyphs">Con</text>
<text x="200.00" y="316.20" font-size="6.0" text-anchor="middle" fill="#231f20" stroke="#231f20" stroke-width="0.180" font-family='"Liberation Serif", serif' textLength="7.00" lengthAdjust="spacingAndGlyphs">Ter</text>
<text x="210.30" y="306.40" font-size="6.0" text-anchor="middle" fill="#231f20" stroke="#231f20" stroke-width="0.180" font-family='"Liberation Serif", serif' textLength="8.40" lengthAdjust="spacingAndGlyphs">Len</text>
<text x="222.20" y="314.80" font-size="6.0" text-anchor="middle" fill="#231f20" stroke="#231f20" stroke-width="0.180" font-family='"Liberation Serif", serif' textLength="7.00" lengthAdjust="spacingAndGlyphs">Ter</text>
<text x="222.20" y="320.80" font-size="6.0" text-anchor="middle" fill="#231f20" stroke="#231f20" stroke-width="0.180" font-family='"Liberation Serif", serif' textLength="10.20" lengthAdjust="spacingAndGlyphs">+Len</text>
<text x="153.80" y="223.40" font-size="9.4" text-anchor="middle" fill="#231f20" stroke="#231f20" stroke-width="0.282" font-family='"Liberation Sans", sans-serif' textLength="22.00" lengthAdjust="spacingAndGlyphs" transform="rotate(-90 153.80 223.40)">c-Myc</text>
<text x="163.20" y="223.80" font-size="9.4" text-anchor="middle" fill="#231f20" stroke="#231f20" stroke-width="0.282" font-family='"Liberation Sans", sans-serif' textLength="45.50" lengthAdjust="spacingAndGlyphs" transform="rotate(-90 163.20 223.80)">(normalized)</text>
<text x="153.80" y="267.20" font-size="9.4" text-anchor="middle" fill="#231f20" stroke="#231f20" stroke-width="0.282" font-family='"Liberation Sans", sans-serif' textLength="22.00" lengthAdjust="spacingAndGlyphs" transform="rotate(-90 153.80 267.20)">c-Myc</text>
<text x="163.20" y="268.00" font-size="9.4" text-anchor="middle" fill="#231f20" stroke="#231f20" stroke-width="0.282" font-family='"Liberation Sans", sans-serif' textLength="44.00" lengthAdjust="spacingAndGlyphs" transform="rotate(-90 163.20 268.00)">(normalized)</text>
<text x="153.80" y="313.40" font-size="9.4" text-anchor="middle" fill="#231f20" stroke="#231f20" stroke-width="0.282" font-family='"Liberation Sans", sans-serif' textLength="22.00" lengthAdjust="spacingAndGlyphs" transform="rotate(-90 153.80 313.40)">c-Myc</text>
<text x="163.20" y="314.00" font-size="9.4" text-anchor="middle" fill="#231f20" stroke="#231f20" stroke-width="0.282" font-family='"Liberation Sans", sans-serif' textLength="44.00" lengthAdjust="spacingAndGlyphs" transform="rotate(-90 163.20 314.00)">(normalized)</text>
<line x1="280.50" y1="187.00" x2="280.50" y2="260.10" stroke="#231f20" stroke-width="1.2"/>
<line x1="279.90" y1="259.50" x2="367.48" y2="259.50" stroke="#231f20" stroke-width="1.2"/>
<line x1="278.00" y1="259.50" x2="280.50" y2="259.50" stroke="#231f20" stroke-width="1"/>
<text x="275.30" y="261.70" font-size="6.4" text-anchor="end" fill="#231f20" stroke="#231f20" stroke-width="0.192" font-family='"Liberation Sans", sans-serif' textLength="3.40" lengthAdjust="spacingAndGlyphs">0</text>
<line x1="278.00" y1="245.50" x2="280.50" y2="245.50" stroke="#231f20" stroke-width="1"/>
<text x="275.30" y="247.70" font-size="6.4" text-anchor="end" fill="#231f20" stroke="#231f20" stroke-width="0.192" font-family='"Liberation Sans", sans-serif' textLength="6.80" lengthAdjust="spacingAndGlyphs">20</text>
<line x1="278.00" y1="231.50" x2="280.50" y2="231.50" stroke="#231f20" stroke-width="1"/>
<text x="275.30" y="233.70" font-size="6.4" text-anchor="end" fill="#231f20" stroke="#231f20" stroke-width="0.192" font-family='"Liberation Sans", sans-serif' textLength="6.80" lengthAdjust="spacingAndGlyphs">40</text>
<line x1="278.00" y1="217.50" x2="280.50" y2="217.50" stroke="#231f20" stroke-width="1"/>
<text x="275.30" y="219.70" font-size="6.4" text-anchor="end" fill="#231f20" stroke="#231f20" stroke-width="0.192" font-family='"Liberation Sans", sans-serif' textLength="6.80" lengthAdjust="spacingAndGlyphs">60</text>
<line x1="278.00" y1="203.50" x2="280.50" y2="203.50" stroke="#231f20" stroke-width="1"/>
<text x="275.30" y="205.70" font-size="6.4" text-anchor="end" fill="#231f20" stroke="#231f20" stroke-width="0.192" font-family='"Liberation Sans", sans-serif' textLength="6.80" lengthAdjust="spacingAndGlyphs">80</text>
<line x1="278.00" y1="189.50" x2="280.50" y2="189.50" stroke="#231f20" stroke-width="1"/>
<text x="275.30" y="191.70" font-size="6.4" text-anchor="end" fill="#231f20" stroke="#231f20" stroke-width="0.192" font-family='"Liberation Sans", sans-serif' textLength="10.20" lengthAdjust="spacingAndGlyphs">100</text>
<line x1="280.50" y1="259.50" x2="280.50" y2="262.40" stroke="#231f20" stroke-width="1.1"/>
<line x1="294.58" y1="259.50" x2="294.58" y2="262.40" stroke="#231f20" stroke-width="1.1"/>
<line x1="308.66" y1="259.50" x2="308.66" y2="262.40" stroke="#231f20" stroke-width="1.1"/>
<line x1="322.74" y1="259.50" x2="322.74" y2="262.40" stroke="#231f20" stroke-width="1.1"/>
<line x1="336.82" y1="259.50" x2="336.82" y2="262.40" stroke="#231f20" stroke-width="1.1"/>
<line x1="350.90" y1="259.50" x2="350.90" y2="262.40" stroke="#231f20" stroke-width="1.1"/>
<line x1="364.98" y1="259.50" x2="364.98" y2="262.40" stroke="#231f20" stroke-width="1.1"/>
<text x="314.50" y="173.80" font-size="9.2" text-anchor="middle" fill="#231f20" stroke="#231f20" stroke-width="0.276" font-family='"Liberation Sans", sans-serif' textLength="65.00" lengthAdjust="spacingAndGlyphs">MM.1S (Ter + Len)</text>
<polyline points="280.50,189.50 294.58,212.60 308.66,214.00 322.74,217.50 336.82,222.75 350.90,229.40 364.98,235.70" fill="none" stroke="#b22a3c" stroke-width="1.1"/>
<polyline points="280.50,189.50 294.58,228.00 308.66,229.75 322.74,231.15 336.82,231.85 350.90,231.15 364.98,230.45" fill="none" stroke="#7cba4c" stroke-width="1.1"/>
<polyline points="280.50,189.50 294.58,233.60 308.66,237.10 322.74,238.85 336.82,241.30 350.90,245.15 364.98,246.20" fill="none" stroke="#3c5f92" stroke-width="1.1"/>
<circle cx="280.50" cy="189.50" r="2.2" fill="#c42a36" stroke="#151515" stroke-width="0.95"/>
<circle cx="294.58" cy="212.60" r="2.2" fill="#c42a36" stroke="#151515" stroke-width="0.95"/>
<circle cx="308.66" cy="214.00" r="2.2" fill="#c42a36" stroke="#151515" stroke-width="0.95"/>
<line x1="322.74" y1="214.50" x2="322.74" y2="220.50" stroke="#231f20" stroke-width="0.8"/>
<circle cx="322.74" cy="217.50" r="2.2" fill="#c42a36" stroke="#151515" stroke-width="0.95"/>
<circle cx="336.82" cy="222.75" r="2.2" fill="#c42a36" stroke="#151515" stroke-width="0.95"/>
<line x1="350.90" y1="227.40" x2="350.90" y2="231.40" stroke="#231f20" stroke-width="0.8"/>
<circle cx="350.90" cy="229.40" r="2.2" fill="#c42a36" stroke="#151515" stroke-width="0.95"/>
<circle cx="364.98" cy="235.70" r="2.2" fill="#c42a36" stroke="#151515" stroke-width="0.95"/>
<circle cx="280.50" cy="189.50" r="2.2" fill="#8cc84e" stroke="#151515" stroke-width="0.95"/>
<circle cx="294.58" cy="228.00" r="2.2" fill="#8cc84e" stroke="#151515" stroke-width="0.95"/>
<circle cx="308.66" cy="229.75" r="2.2" fill="#8cc84e" stroke="#151515" stroke-width="0.95"/>
<circle cx="322.74" cy="231.15" r="2.2" fill="#8cc84e" stroke="#151515" stroke-width="0.95"/>
<circle cx="336.82" cy="231.85" r="2.2" fill="#8cc84e" stroke="#151515" stroke-width="0.95"/>
<circle cx="350.90" cy="231.15" r="2.2" fill="#8cc84e" stroke="#151515" stroke-width="0.95"/>
<circle cx="364.98" cy="230.45" r="2.2" fill="#8cc84e" stroke="#151515" stroke-width="0.95"/>
<circle cx="280.50" cy="189.50" r="2.2" fill="#3f6096" stroke="#151515" stroke-width="0.95"/>
<circle cx="294.58" cy="233.60" r="2.2" fill="#3f6096" stroke="#151515" stroke-width="0.95"/>
<circle cx="308.66" cy="237.10" r="2.2" fill="#3f6096" stroke="#151515" stroke-width="0.95"/>
<circle cx="322.74" cy="238.85" r="2.2" fill="#3f6096" stroke="#151515" stroke-width="0.95"/>
<circle cx="336.82" cy="241.30" r="2.2" fill="#3f6096" stroke="#151515" stroke-width="0.95"/>
<circle cx="350.90" cy="245.15" r="2.2" fill="#3f6096" stroke="#151515" stroke-width="0.95"/>
<circle cx="364.98" cy="246.20" r="2.2" fill="#3f6096" stroke="#151515" stroke-width="0.95"/>
<text x="277.50" y="271.50" font-size="6.2" text-anchor="end" fill="#231f20" stroke="#231f20" stroke-width="0.186" font-family='"Liberation Sans", sans-serif' textLength="22.50" lengthAdjust="spacingAndGlyphs">Ter [μM]</text>
<text x="280.50" y="271.50" font-size="6.2" text-anchor="middle" fill="#231f20" stroke="#231f20" stroke-width="0.186" font-family='"Liberation Sans", sans-serif'>0</text>
<text x="294.58" y="271.50" font-size="6.2" text-anchor="middle" fill="#231f20" stroke="#231f20" stroke-width="0.186" font-family='"Liberation Sans", sans-serif'>6.25</text>
<text x="308.66" y="271.50" font-size="6.2" text-anchor="middle" fill="#231f20" stroke="#231f20" stroke-width="0.186" font-family='"Liberation Sans", sans-serif'>12.5</text>
<text x="322.74" y="271.50" font-size="6.2" text-anchor="middle" fill="#231f20" stroke="#231f20" stroke-width="0.186" font-family='"Liberation Sans", sans-serif'>25</text>
<text x="336.82" y="271.50" font-size="6.2" text-anchor="middle" fill="#231f20" stroke="#231f20" stroke-width="0.186" font-family='"Liberation Sans", sans-serif'>50</text>
<text x="350.90" y="271.50" font-size="6.2" text-anchor="middle" fill="#231f20" stroke="#231f20" stroke-width="0.186" font-family='"Liberation Sans", sans-serif'>100</text>
<text x="364.98" y="271.50" font-size="6.2" text-anchor="middle" fill="#231f20" stroke="#231f20" stroke-width="0.186" font-family='"Liberation Sans", sans-serif'>200</text>
<text x="277.50" y="282.20" font-size="6.2" text-anchor="end" fill="#231f20" stroke="#231f20" stroke-width="0.186" font-family='"Liberation Sans", sans-serif' textLength="23.50" lengthAdjust="spacingAndGlyphs">Len [μM]</text>
<text x="280.50" y="282.20" font-size="6.2" text-anchor="middle" fill="#231f20" stroke="#231f20" stroke-width="0.186" font-family='"Liberation Sans", sans-serif'>0</text>
<text x="294.58" y="282.20" font-size="6.2" text-anchor="middle" fill="#231f20" stroke="#231f20" stroke-width="0.186" font-family='"Liberation Sans", sans-serif'>0.31</text>
<text x="308.66" y="282.20" font-size="6.2" text-anchor="middle" fill="#231f20" stroke="#231f20" stroke-width="0.186" font-family='"Liberation Sans", sans-serif'>0.63</text>
<text x="322.74" y="282.20" font-size="6.2" text-anchor="middle" fill="#231f20" stroke="#231f20" stroke-width="0.186" font-family='"Liberation Sans", sans-serif'>1.25</text>
<text x="336.82" y="282.20" font-size="6.2" text-anchor="middle" fill="#231f20" stroke="#231f20" stroke-width="0.186" font-family='"Liberation Sans", sans-serif'>2.5</text>
<text x="350.90" y="282.20" font-size="6.2" text-anchor="middle" fill="#231f20" stroke="#231f20" stroke-width="0.186" font-family='"Liberation Sans", sans-serif'>5</text>
<text x="364.98" y="282.20" font-size="6.2" text-anchor="middle" fill="#231f20" stroke="#231f20" stroke-width="0.186" font-family='"Liberation Sans", sans-serif'>10</text>
<text x="324.40" y="297.20" font-size="9.4" text-anchor="middle" fill="#231f20" stroke="#231f20" stroke-width="0.282" font-family='"Liberation Sans", sans-serif' textLength="51.50" lengthAdjust="spacingAndGlyphs">Concentration</text>
<line x1="316.10" y1="191.30" x2="329.10" y2="191.30" stroke="#b22a3c" stroke-width="1.1"/>
<circle cx="322.60" cy="191.30" r="2.3" fill="#c42a36" stroke="#222" stroke-width="0.7"/>
<text x="331.60" y="193.30" font-size="5.6" text-anchor="start" fill="#231f20" stroke="#231f20" stroke-width="0.168" font-family='"Liberation Sans", sans-serif' textLength="6.00" lengthAdjust="spacingAndGlyphs">Ter</text>
<line x1="316.10" y1="197.90" x2="329.10" y2="197.90" stroke="#7cba4c" stroke-width="1.1"/>
<circle cx="322.60" cy="197.90" r="2.3" fill="#8cc84e" stroke="#222" stroke-width="0.7"/>
<text x="331.60" y="199.90" font-size="5.6" text-anchor="start" fill="#231f20" stroke="#231f20" stroke-width="0.168" font-family='"Liberation Sans", sans-serif' textLength="6.60" lengthAdjust="spacingAndGlyphs">Len</text>
<line x1="316.10" y1="204.50" x2="329.10" y2="204.50" stroke="#3c5f92" stroke-width="1.1"/>
<circle cx="322.60" cy="204.50" r="2.3" fill="#3f6096" stroke="#222" stroke-width="0.7"/>
<text x="331.60" y="206.50" font-size="5.6" text-anchor="start" fill="#231f20" stroke="#231f20" stroke-width="0.168" font-family='"Liberation Sans", sans-serif' textLength="18.50" lengthAdjust="spacingAndGlyphs">Ter &amp; Len</text>
<text x="285.80" y="245.00" font-size="5.6" text-anchor="start" fill="#231f20" stroke="#231f20" stroke-width="0.168" font-family='"Liberation Sans", sans-serif' textLength="33.50" lengthAdjust="spacingAndGlyphs">CI (ED75): 0.08</text>
<text x="285.80" y="250.70" font-size="5.6" text-anchor="start" fill="#231f20" stroke="#231f20" stroke-width="0.168" font-family='"Liberation Sans", sans-serif' textLength="33.50" lengthAdjust="spacingAndGlyphs">CI (ED90): 0.33</text>
<text x="285.80" y="256.40" font-size="5.6" text-anchor="start" fill="#231f20" stroke="#231f20" stroke-width="0.168" font-family='"Liberation Sans", sans-serif' textLength="33.50" lengthAdjust="spacingAndGlyphs">CI (ED95): 0.89</text>
<text x="259.80" y="222.00" font-size="9.2" text-anchor="middle" fill="#231f20" stroke="#231f20" stroke-width="0.276" font-family='"Liberation Sans", sans-serif' textLength="40.00" lengthAdjust="spacingAndGlyphs" transform="rotate(-90 259.80 222.00)">Growth [%]</text>
<line x1="423.00" y1="187.00" x2="423.00" y2="260.10" stroke="#231f20" stroke-width="1.2"/>
<line x1="422.40" y1="259.50" x2="509.98" y2="259.50" stroke="#231f20" stroke-width="1.2"/>
<line x1="420.50" y1="259.50" x2="423.00" y2="259.50" stroke="#231f20" stroke-width="1"/>
<text x="417.80" y="261.70" font-size="6.4" text-anchor="end" fill="#231f20" stroke="#231f20" stroke-width="0.192" font-family='"Liberation Sans", sans-serif' textLength="3.40" lengthAdjust="spacingAndGlyphs">0</text>
<line x1="420.50" y1="245.50" x2="423.00" y2="245.50" stroke="#231f20" stroke-width="1"/>
<text x="417.80" y="247.70" font-size="6.4" text-anchor="end" fill="#231f20" stroke="#231f20" stroke-width="0.192" font-family='"Liberation Sans", sans-serif' textLength="6.80" lengthAdjust="spacingAndGlyphs">20</text>
<line x1="420.50" y1="231.50" x2="423.00" y2="231.50" stroke="#231f20" stroke-width="1"/>
<text x="417.80" y="233.70" font-size="6.4" text-anchor="end" fill="#231f20" stroke="#231f20" stroke-width="0.192" font-family='"Liberation Sans", sans-serif' textLength="6.80" lengthAdjust="spacingAndGlyphs">40</text>
<line x1="420.50" y1="217.50" x2="423.00" y2="217.50" stroke="#231f20" stroke-width="1"/>
<text x="417.80" y="219.70" font-size="6.4" text-anchor="end" fill="#231f20" stroke="#231f20" stroke-width="0.192" font-family='"Liberation Sans", sans-serif' textLength="6.80" lengthAdjust="spacingAndGlyphs">60</text>
<line x1="420.50" y1="203.50" x2="423.00" y2="203.50" stroke="#231f20" stroke-width="1"/>
<text x="417.80" y="205.70" font-size="6.4" text-anchor="end" fill="#231f20" stroke="#231f20" stroke-width="0.192" font-family='"Liberation Sans", sans-serif' textLength="6.80" lengthAdjust="spacingAndGlyphs">80</text>
<line x1="420.50" y1="189.50" x2="423.00" y2="189.50" stroke="#231f20" stroke-width="1"/>
<text x="417.80" y="191.70" font-size="6.4" text-anchor="end" fill="#231f20" stroke="#231f20" stroke-width="0.192" font-family='"Liberation Sans", sans-serif' textLength="10.20" lengthAdjust="spacingAndGlyphs">100</text>
<line x1="423.00" y1="259.50" x2="423.00" y2="262.40" stroke="#231f20" stroke-width="1.1"/>
<line x1="437.08" y1="259.50" x2="437.08" y2="262.40" stroke="#231f20" stroke-width="1.1"/>
<line x1="451.16" y1="259.50" x2="451.16" y2="262.40" stroke="#231f20" stroke-width="1.1"/>
<line x1="465.24" y1="259.50" x2="465.24" y2="262.40" stroke="#231f20" stroke-width="1.1"/>
<line x1="479.32" y1="259.50" x2="479.32" y2="262.40" stroke="#231f20" stroke-width="1.1"/>
<line x1="493.40" y1="259.50" x2="493.40" y2="262.40" stroke="#231f20" stroke-width="1.1"/>
<line x1="507.48" y1="259.50" x2="507.48" y2="262.40" stroke="#231f20" stroke-width="1.1"/>
<text x="454.80" y="173.80" font-size="9.2" text-anchor="middle" fill="#231f20" stroke="#231f20" stroke-width="0.276" font-family='"Liberation Sans", sans-serif' textLength="80.50" lengthAdjust="spacingAndGlyphs">MM.1S (PIM447 + Len)</text>
<polyline points="423.00,192.51 437.08,206.30 451.16,211.90 465.24,219.25 479.32,230.10 493.40,239.55 507.48,249.00" fill="none" stroke="#b22a3c" stroke-width="1.1"/>
<polyline points="423.00,192.51 437.08,199.65 451.16,207.00 465.24,209.45 479.32,212.60 493.40,225.20 507.48,235.00" fill="none" stroke="#7cba4c" stroke-width="1.1"/>
<polyline points="423.00,192.51 437.08,218.90 451.16,228.70 465.24,232.20 479.32,242.00 493.40,252.50 507.48,253.55" fill="none" stroke="#3c5f92" stroke-width="1.1"/>
<circle cx="423.00" cy="192.51" r="2.2" fill="#c42a36" stroke="#151515" stroke-width="0.95"/>
<circle cx="437.08" cy="206.30" r="2.2" fill="#c42a36" stroke="#151515" stroke-width="0.95"/>
<circle cx="451.16" cy="211.90" r="2.2" fill="#c42a36" stroke="#151515" stroke-width="0.95"/>
<line x1="465.24" y1="216.25" x2="465.24" y2="222.25" stroke="#231f20" stroke-width="0.8"/>
<circle cx="465.24" cy="219.25" r="2.2" fill="#c42a36" stroke="#151515" stroke-width="0.95"/>
<circle cx="479.32" cy="230.10" r="2.2" fill="#c42a36" stroke="#151515" stroke-width="0.95"/>
<line x1="493.40" y1="236.95" x2="493.40" y2="242.15" stroke="#231f20" stroke-width="0.8"/>
<circle cx="493.40" cy="239.55" r="2.2" fill="#c42a36" stroke="#151515" stroke-width="0.95"/>
<line x1="507.48" y1="246.40" x2="507.48" y2="251.60" stroke="#231f20" stroke-width="0.8"/>
<circle cx="507.48" cy="249.00" r="2.2" fill="#c42a36" stroke="#151515" stroke-width="0.95"/>
<circle cx="423.00" cy="192.51" r="2.2" fill="#8cc84e" stroke="#151515" stroke-width="0.95"/>
<circle cx="437.08" cy="199.65" r="2.2" fill="#8cc84e" stroke="#151515" stroke-width="0.95"/>
<circle cx="451.16" cy="207.00" r="2.2" fill="#8cc84e" stroke="#151515" stroke-width="0.95"/>
<circle cx="465.24" cy="209.45" r="2.2" fill="#8cc84e" stroke="#151515" stroke-width="0.95"/>
<line x1="479.32" y1="210.20" x2="479.32" y2="215.00" stroke="#231f20" stroke-width="0.8"/>
<circle cx="479.32" cy="212.60" r="2.2" fill="#8cc84e" stroke="#151515" stroke-width="0.95"/>
<line x1="493.40" y1="222.80" x2="493.40" y2="227.60" stroke="#231f20" stroke-width="0.8"/>
<circle cx="493.40" cy="225.20" r="2.2" fill="#8cc84e" stroke="#151515" stroke-width="0.95"/>
<line x1="507.48" y1="231.60" x2="507.48" y2="238.40" stroke="#231f20" stroke-width="0.8"/>
<circle cx="507.48" cy="235.00" r="2.2" fill="#8cc84e" stroke="#151515" stroke-width="0.95"/>
<circle cx="423.00" cy="192.51" r="2.2" fill="#3f6096" stroke="#151515" stroke-width="0.95"/>
<circle cx="437.08" cy="218.90" r="2.2" fill="#3f6096" stroke="#151515" stroke-width="0.95"/>
<circle cx="451.16" cy="228.70" r="2.2" fill="#3f6096" stroke="#151515" stroke-width="0.95"/>
<circle cx="465.24" cy="232.20" r="2.2" fill="#3f6096" stroke="#151515" stroke-width="0.95"/>
<circle cx="479.32" cy="242.00" r="2.2" fill="#3f6096" stroke="#151515" stroke-width="0.95"/>
<circle cx="493.40" cy="252.50" r="2.2" fill="#3f6096" stroke="#151515" stroke-width="0.95"/>
<circle cx="507.48" cy="253.55" r="2.2" fill="#3f6096" stroke="#151515" stroke-width="0.95"/>
<text x="419.60" y="271.50" font-size="6.2" text-anchor="end" fill="#231f20" stroke="#231f20" stroke-width="0.186" font-family='"Liberation Sans", sans-serif' textLength="34.60" lengthAdjust="spacingAndGlyphs">PIM447 [nM]</text>
<text x="423.00" y="271.50" font-size="6.2" text-anchor="middle" fill="#231f20" stroke="#231f20" stroke-width="0.186" font-family='"Liberation Sans", sans-serif'>0</text>
<text x="437.08" y="271.50" font-size="6.2" text-anchor="middle" fill="#231f20" stroke="#231f20" stroke-width="0.186" font-family='"Liberation Sans", sans-serif'>25</text>
<text x="451.16" y="271.50" font-size="6.2" text-anchor="middle" fill="#231f20" stroke="#231f20" stroke-width="0.186" font-family='"Liberation Sans", sans-serif'>50</text>
<text x="465.24" y="271.50" font-size="6.2" text-anchor="middle" fill="#231f20" stroke="#231f20" stroke-width="0.186" font-family='"Liberation Sans", sans-serif'>100</text>
<text x="479.32" y="271.50" font-size="6.2" text-anchor="middle" fill="#231f20" stroke="#231f20" stroke-width="0.186" font-family='"Liberation Sans", sans-serif'>200</text>
<text x="493.40" y="271.50" font-size="6.2" text-anchor="middle" fill="#231f20" stroke="#231f20" stroke-width="0.186" font-family='"Liberation Sans", sans-serif'>400</text>
<text x="507.48" y="271.50" font-size="6.2" text-anchor="middle" fill="#231f20" stroke="#231f20" stroke-width="0.186" font-family='"Liberation Sans", sans-serif'>800</text>
<text x="419.60" y="281.80" font-size="6.2" text-anchor="end" fill="#231f20" stroke="#231f20" stroke-width="0.186" font-family='"Liberation Sans", sans-serif' textLength="24.60" lengthAdjust="spacingAndGlyphs">Len [μM]</text>
<text x="423.00" y="281.80" font-size="6.2" text-anchor="middle" fill="#231f20" stroke="#231f20" stroke-width="0.186" font-family='"Liberation Sans", sans-serif'>0</text>
<text x="437.08" y="281.80" font-size="6.2" text-anchor="middle" fill="#231f20" stroke="#231f20" stroke-width="0.186" font-family='"Liberation Sans", sans-serif'>0.31</text>
<text x="451.16" y="281.80" font-size="6.2" text-anchor="middle" fill="#231f20" stroke="#231f20" stroke-width="0.186" font-family='"Liberation Sans", sans-serif'>0.63</text>
<text x="465.24" y="281.80" font-size="6.2" text-anchor="middle" fill="#231f20" stroke="#231f20" stroke-width="0.186" font-family='"Liberation Sans", sans-serif'>1.25</text>
<text x="479.32" y="281.80" font-size="6.2" text-anchor="middle" fill="#231f20" stroke="#231f20" stroke-width="0.186" font-family='"Liberation Sans", sans-serif'>2.5</text>
<text x="493.40" y="281.80" font-size="6.2" text-anchor="middle" fill="#231f20" stroke="#231f20" stroke-width="0.186" font-family='"Liberation Sans", sans-serif'>5</text>
<text x="507.48" y="281.80" font-size="6.2" text-anchor="middle" fill="#231f20" stroke="#231f20" stroke-width="0.186" font-family='"Liberation Sans", sans-serif'>10</text>
<text x="467.00" y="295.60" font-size="9.4" text-anchor="middle" fill="#231f20" stroke="#231f20" stroke-width="0.282" font-family='"Liberation Sans", sans-serif' textLength="52.00" lengthAdjust="spacingAndGlyphs">Concentration</text>
<line x1="463.00" y1="188.30" x2="476.00" y2="188.30" stroke="#b22a3c" stroke-width="1.1"/>
<circle cx="469.50" cy="188.30" r="2.3" fill="#c42a36" stroke="#222" stroke-width="0.7"/>
<text x="478.50" y="190.30" font-size="5.6" text-anchor="start" fill="#231f20" stroke="#231f20" stroke-width="0.168" font-family='"Liberation Sans", sans-serif' textLength="15.00" lengthAdjust="spacingAndGlyphs">PIM447</text>
<line x1="463.00" y1="194.90" x2="476.00" y2="194.90" stroke="#7cba4c" stroke-width="1.1"/>
<circle cx="469.50" cy="194.90" r="2.3" fill="#8cc84e" stroke="#222" stroke-width="0.7"/>
<text x="478.50" y="196.90" font-size="5.6" text-anchor="start" fill="#231f20" stroke="#231f20" stroke-width="0.168" font-family='"Liberation Sans", sans-serif' textLength="6.60" lengthAdjust="spacingAndGlyphs">Len</text>
<line x1="463.00" y1="201.50" x2="476.00" y2="201.50" stroke="#3c5f92" stroke-width="1.1"/>
<circle cx="469.50" cy="201.50" r="2.3" fill="#3f6096" stroke="#222" stroke-width="0.7"/>
<text x="478.50" y="203.50" font-size="5.6" text-anchor="start" fill="#231f20" stroke="#231f20" stroke-width="0.168" font-family='"Liberation Sans", sans-serif' textLength="31.50" lengthAdjust="spacingAndGlyphs">PIM447 &amp; Len</text>
<text x="429.60" y="245.00" font-size="5.6" text-anchor="start" fill="#231f20" stroke="#231f20" stroke-width="0.168" font-family='"Liberation Sans", sans-serif' textLength="31.50" lengthAdjust="spacingAndGlyphs">CI (ED75): 0.43</text>
<text x="429.60" y="251.00" font-size="5.6" text-anchor="start" fill="#231f20" stroke="#231f20" stroke-width="0.168" font-family='"Liberation Sans", sans-serif' textLength="31.50" lengthAdjust="spacingAndGlyphs">CI (ED90): 0.42</text>
<text x="429.60" y="257.00" font-size="5.6" text-anchor="start" fill="#231f20" stroke="#231f20" stroke-width="0.168" font-family='"Liberation Sans", sans-serif' textLength="31.50" lengthAdjust="spacingAndGlyphs">CI (ED95): 0.41</text>
<text x="402.00" y="222.00" font-size="9.2" text-anchor="middle" fill="#231f20" stroke="#231f20" stroke-width="0.276" font-family='"Liberation Sans", sans-serif' textLength="40.00" lengthAdjust="spacingAndGlyphs" transform="rotate(-90 402.00 222.00)">Growth [%]</text>
<line x1="272.00" y1="327.50" x2="272.00" y2="402.40" stroke="#231f20" stroke-width="1.2"/>
<line x1="271.40" y1="401.80" x2="358.98" y2="401.80" stroke="#231f20" stroke-width="1.2"/>
<line x1="269.50" y1="401.80" x2="272.00" y2="401.80" stroke="#231f20" stroke-width="1"/>
<text x="266.80" y="404.00" font-size="6.4" text-anchor="end" fill="#231f20" stroke="#231f20" stroke-width="0.192" font-family='"Liberation Sans", sans-serif' textLength="3.40" lengthAdjust="spacingAndGlyphs">0</text>
<line x1="269.50" y1="388.44" x2="272.00" y2="388.44" stroke="#231f20" stroke-width="1"/>
<text x="266.80" y="390.64" font-size="6.4" text-anchor="end" fill="#231f20" stroke="#231f20" stroke-width="0.192" font-family='"Liberation Sans", sans-serif' textLength="6.80" lengthAdjust="spacingAndGlyphs">20</text>
<line x1="269.50" y1="375.08" x2="272.00" y2="375.08" stroke="#231f20" stroke-width="1"/>
<text x="266.80" y="377.28" font-size="6.4" text-anchor="end" fill="#231f20" stroke="#231f20" stroke-width="0.192" font-family='"Liberation Sans", sans-serif' textLength="6.80" lengthAdjust="spacingAndGlyphs">40</text>
<line x1="269.50" y1="361.72" x2="272.00" y2="361.72" stroke="#231f20" stroke-width="1"/>
<text x="266.80" y="363.92" font-size="6.4" text-anchor="end" fill="#231f20" stroke="#231f20" stroke-width="0.192" font-family='"Liberation Sans", sans-serif' textLength="6.80" lengthAdjust="spacingAndGlyphs">60</text>
<line x1="269.50" y1="348.36" x2="272.00" y2="348.36" stroke="#231f20" stroke-width="1"/>
<text x="266.80" y="350.56" font-size="6.4" text-anchor="end" fill="#231f20" stroke="#231f20" stroke-width="0.192" font-family='"Liberation Sans", sans-serif' textLength="6.80" lengthAdjust="spacingAndGlyphs">80</text>
<line x1="269.50" y1="335.00" x2="272.00" y2="335.00" stroke="#231f20" stroke-width="1"/>
<text x="266.80" y="337.20" font-size="6.4" text-anchor="end" fill="#231f20" stroke="#231f20" stroke-width="0.192" font-family='"Liberation Sans", sans-serif' textLength="10.20" lengthAdjust="spacingAndGlyphs">100</text>
<line x1="272.00" y1="401.80" x2="272.00" y2="404.70" stroke="#231f20" stroke-width="1.1"/>
<line x1="286.08" y1="401.80" x2="286.08" y2="404.70" stroke="#231f20" stroke-width="1.1"/>
<line x1="300.16" y1="401.80" x2="300.16" y2="404.70" stroke="#231f20" stroke-width="1.1"/>
<line x1="314.24" y1="401.80" x2="314.24" y2="404.70" stroke="#231f20" stroke-width="1.1"/>
<line x1="328.32" y1="401.80" x2="328.32" y2="404.70" stroke="#231f20" stroke-width="1.1"/>
<line x1="342.40" y1="401.80" x2="342.40" y2="404.70" stroke="#231f20" stroke-width="1.1"/>
<line x1="356.48" y1="401.80" x2="356.48" y2="404.70" stroke="#231f20" stroke-width="1.1"/>
<text x="316.30" y="318.00" font-size="9.2" text-anchor="middle" fill="#231f20" stroke="#231f20" stroke-width="0.276" font-family='"Liberation Sans", sans-serif' textLength="75.00" lengthAdjust="spacingAndGlyphs">NCI-H929 (Ter + Len)</text>
<polyline points="272.00,335.00 286.08,352.03 300.16,363.72 314.24,374.41 328.32,382.43 342.40,387.77 356.48,391.11" fill="none" stroke="#b22a3c" stroke-width="1.1"/>
<polyline points="272.00,335.00 286.08,357.71 300.16,365.73 314.24,363.39 328.32,366.40 342.40,367.73 356.48,366.40" fill="none" stroke="#7cba4c" stroke-width="1.1"/>
<polyline points="272.00,335.00 286.08,369.74 300.16,376.08 314.24,380.76 328.32,384.10 342.40,391.38 356.48,397.12" fill="none" stroke="#3c5f92" stroke-width="1.1"/>
<circle cx="272.00" cy="335.00" r="2.2" fill="#c42a36" stroke="#151515" stroke-width="0.95"/>
<circle cx="286.08" cy="352.03" r="2.2" fill="#c42a36" stroke="#151515" stroke-width="0.95"/>
<circle cx="300.16" cy="363.72" r="2.2" fill="#c42a36" stroke="#151515" stroke-width="0.95"/>
<circle cx="314.24" cy="374.41" r="2.2" fill="#c42a36" stroke="#151515" stroke-width="0.95"/>
<circle cx="328.32" cy="382.43" r="2.2" fill="#c42a36" stroke="#151515" stroke-width="0.95"/>
<circle cx="342.40" cy="387.77" r="2.2" fill="#c42a36" stroke="#151515" stroke-width="0.95"/>
<circle cx="356.48" cy="391.11" r="2.2" fill="#c42a36" stroke="#151515" stroke-width="0.95"/>
<circle cx="272.00" cy="335.00" r="2.2" fill="#8cc84e" stroke="#151515" stroke-width="0.95"/>
<circle cx="286.08" cy="357.71" r="2.2" fill="#8cc84e" stroke="#151515" stroke-width="0.95"/>
<circle cx="300.16" cy="365.73" r="2.2" fill="#8cc84e" stroke="#151515" stroke-width="0.95"/>
<circle cx="314.24" cy="363.39" r="2.2" fill="#8cc84e" stroke="#151515" stroke-width="0.95"/>
<circle cx="328.32" cy="366.40" r="2.2" fill="#8cc84e" stroke="#151515" stroke-width="0.95"/>
<circle cx="342.40" cy="367.73" r="2.2" fill="#8cc84e" stroke="#151515" stroke-width="0.95"/>
<circle cx="356.48" cy="366.40" r="2.2" fill="#8cc84e" stroke="#151515" stroke-width="0.95"/>
<circle cx="272.00" cy="335.00" r="2.2" fill="#3f6096" stroke="#151515" stroke-width="0.95"/>
<circle cx="286.08" cy="369.74" r="2.2" fill="#3f6096" stroke="#151515" stroke-width="0.95"/>
<circle cx="300.16" cy="376.08" r="2.2" fill="#3f6096" stroke="#151515" stroke-width="0.95"/>
<circle cx="314.24" cy="380.76" r="2.2" fill="#3f6096" stroke="#151515" stroke-width="0.95"/>
<circle cx="328.32" cy="384.10" r="2.2" fill="#3f6096" stroke="#151515" stroke-width="0.95"/>
<circle cx="342.40" cy="391.38" r="2.2" fill="#3f6096" stroke="#151515" stroke-width="0.95"/>
<circle cx="356.48" cy="397.12" r="2.2" fill="#3f6096" stroke="#151515" stroke-width="0.95"/>
<text x="268.60" y="413.60" font-size="6.2" text-anchor="end" fill="#231f20" stroke="#231f20" stroke-width="0.186" font-family='"Liberation Sans", sans-serif' textLength="21.50" lengthAdjust="spacingAndGlyphs">Ter [μM]</text>
<text x="272.00" y="413.60" font-size="6.2" text-anchor="middle" fill="#231f20" stroke="#231f20" stroke-width="0.186" font-family='"Liberation Sans", sans-serif'>0</text>
<text x="286.08" y="413.60" font-size="6.2" text-anchor="middle" fill="#231f20" stroke="#231f20" stroke-width="0.186" font-family='"Liberation Sans", sans-serif'>6.25</text>
<text x="300.16" y="413.60" font-size="6.2" text-anchor="middle" fill="#231f20" stroke="#231f20" stroke-width="0.186" font-family='"Liberation Sans", sans-serif'>12.5</text>
<text x="314.24" y="413.60" font-size="6.2" text-anchor="middle" fill="#231f20" stroke="#231f20" stroke-width="0.186" font-family='"Liberation Sans", sans-serif'>25</text>
<text x="328.32" y="413.60" font-size="6.2" text-anchor="middle" fill="#231f20" stroke="#231f20" stroke-width="0.186" font-family='"Liberation Sans", sans-serif'>50</text>
<text x="342.40" y="413.60" font-size="6.2" text-anchor="middle" fill="#231f20" stroke="#231f20" stroke-width="0.186" font-family='"Liberation Sans", sans-serif'>100</text>
<text x="356.48" y="413.60" font-size="6.2" text-anchor="middle" fill="#231f20" stroke="#231f20" stroke-width="0.186" font-family='"Liberation Sans", sans-serif'>200</text>
<text x="268.60" y="424.20" font-size="6.2" text-anchor="end" fill="#231f20" stroke="#231f20" stroke-width="0.186" font-family='"Liberation Sans", sans-serif' textLength="23.50" lengthAdjust="spacingAndGlyphs">Len [μM]</text>
<text x="272.00" y="424.20" font-size="6.2" text-anchor="middle" fill="#231f20" stroke="#231f20" stroke-width="0.186" font-family='"Liberation Sans", sans-serif'>0</text>
<text x="286.08" y="424.20" font-size="6.2" text-anchor="middle" fill="#231f20" stroke="#231f20" stroke-width="0.186" font-family='"Liberation Sans", sans-serif'>0.31</text>
<text x="300.16" y="424.20" font-size="6.2" text-anchor="middle" fill="#231f20" stroke="#231f20" stroke-width="0.186" font-family='"Liberation Sans", sans-serif'>0.63</text>
<text x="314.24" y="424.20" font-size="6.2" text-anchor="middle" fill="#231f20" stroke="#231f20" stroke-width="0.186" font-family='"Liberation Sans", sans-serif'>1.25</text>
<text x="328.32" y="424.20" font-size="6.2" text-anchor="middle" fill="#231f20" stroke="#231f20" stroke-width="0.186" font-family='"Liberation Sans", sans-serif'>2.5</text>
<text x="342.40" y="424.20" font-size="6.2" text-anchor="middle" fill="#231f20" stroke="#231f20" stroke-width="0.186" font-family='"Liberation Sans", sans-serif'>5</text>
<text x="356.48" y="424.20" font-size="6.2" text-anchor="middle" fill="#231f20" stroke="#231f20" stroke-width="0.186" font-family='"Liberation Sans", sans-serif'>10</text>
<text x="316.20" y="438.40" font-size="9.4" text-anchor="middle" fill="#231f20" stroke="#231f20" stroke-width="0.282" font-family='"Liberation Sans", sans-serif' textLength="52.50" lengthAdjust="spacingAndGlyphs">Concentration</text>
<line x1="303.50" y1="333.30" x2="316.50" y2="333.30" stroke="#b22a3c" stroke-width="1.1"/>
<circle cx="310.00" cy="333.30" r="2.3" fill="#c42a36" stroke="#222" stroke-width="0.7"/>
<text x="319.00" y="335.30" font-size="5.6" text-anchor="start" fill="#231f20" stroke="#231f20" stroke-width="0.168" font-family='"Liberation Sans", sans-serif' textLength="6.00" lengthAdjust="spacingAndGlyphs">Ter</text>
<line x1="303.50" y1="339.90" x2="316.50" y2="339.90" stroke="#7cba4c" stroke-width="1.1"/>
<circle cx="310.00" cy="339.90" r="2.3" fill="#8cc84e" stroke="#222" stroke-width="0.7"/>
<text x="319.00" y="341.90" font-size="5.6" text-anchor="start" fill="#231f20" stroke="#231f20" stroke-width="0.168" font-family='"Liberation Sans", sans-serif' textLength="6.60" lengthAdjust="spacingAndGlyphs">Len</text>
<line x1="303.50" y1="346.50" x2="316.50" y2="346.50" stroke="#3c5f92" stroke-width="1.1"/>
<circle cx="310.00" cy="346.50" r="2.3" fill="#3f6096" stroke="#222" stroke-width="0.7"/>
<text x="319.00" y="348.50" font-size="5.6" text-anchor="start" fill="#231f20" stroke="#231f20" stroke-width="0.168" font-family='"Liberation Sans", sans-serif' textLength="18.50" lengthAdjust="spacingAndGlyphs">Ter &amp; Len</text>
<text x="277.60" y="387.60" font-size="5.6" text-anchor="start" fill="#231f20" stroke="#231f20" stroke-width="0.168" font-family='"Liberation Sans", sans-serif' textLength="33.20" lengthAdjust="spacingAndGlyphs">CI (ED75): 0.44</text>
<text x="277.60" y="393.40" font-size="5.6" text-anchor="start" fill="#231f20" stroke="#231f20" stroke-width="0.168" font-family='"Liberation Sans", sans-serif' textLength="33.20" lengthAdjust="spacingAndGlyphs">CI (ED90): 0.53</text>
<text x="277.60" y="399.20" font-size="5.6" text-anchor="start" fill="#231f20" stroke="#231f20" stroke-width="0.168" font-family='"Liberation Sans", sans-serif' textLength="33.20" lengthAdjust="spacingAndGlyphs">CI (ED95): 0.60</text>
<text x="247.40" y="366.00" font-size="9.2" text-anchor="middle" fill="#231f20" stroke="#231f20" stroke-width="0.276" font-family='"Liberation Sans", sans-serif' textLength="40.00" lengthAdjust="spacingAndGlyphs" transform="rotate(-90 247.40 366.00)">Growth [%]</text>
<line x1="415.50" y1="327.50" x2="415.50" y2="402.60" stroke="#231f20" stroke-width="1.2"/>
<line x1="414.90" y1="402.00" x2="502.90" y2="402.00" stroke="#231f20" stroke-width="1.2"/>
<line x1="413.00" y1="402.00" x2="415.50" y2="402.00" stroke="#231f20" stroke-width="1"/>
<text x="410.30" y="404.20" font-size="6.4" text-anchor="end" fill="#231f20" stroke="#231f20" stroke-width="0.192" font-family='"Liberation Sans", sans-serif' textLength="3.40" lengthAdjust="spacingAndGlyphs">0</text>
<line x1="413.00" y1="388.50" x2="415.50" y2="388.50" stroke="#231f20" stroke-width="1"/>
<text x="410.30" y="390.70" font-size="6.4" text-anchor="end" fill="#231f20" stroke="#231f20" stroke-width="0.192" font-family='"Liberation Sans", sans-serif' textLength="6.80" lengthAdjust="spacingAndGlyphs">20</text>
<line x1="413.00" y1="375.00" x2="415.50" y2="375.00" stroke="#231f20" stroke-width="1"/>
<text x="410.30" y="377.20" font-size="6.4" text-anchor="end" fill="#231f20" stroke="#231f20" stroke-width="0.192" font-family='"Liberation Sans", sans-serif' textLength="6.80" lengthAdjust="spacingAndGlyphs">40</text>
<line x1="413.00" y1="361.50" x2="415.50" y2="361.50" stroke="#231f20" stroke-width="1"/>
<text x="410.30" y="363.70" font-size="6.4" text-anchor="end" fill="#231f20" stroke="#231f20" stroke-width="0.192" font-family='"Liberation Sans", sans-serif' textLength="6.80" lengthAdjust="spacingAndGlyphs">60</text>
<line x1="413.00" y1="348.00" x2="415.50" y2="348.00" stroke="#231f20" stroke-width="1"/>
<text x="410.30" y="350.20" font-size="6.4" text-anchor="end" fill="#231f20" stroke="#231f20" stroke-width="0.192" font-family='"Liberation Sans", sans-serif' textLength="6.80" lengthAdjust="spacingAndGlyphs">80</text>
<line x1="413.00" y1="334.50" x2="415.50" y2="334.50" stroke="#231f20" stroke-width="1"/>
<text x="410.30" y="336.70" font-size="6.4" text-anchor="end" fill="#231f20" stroke="#231f20" stroke-width="0.192" font-family='"Liberation Sans", sans-serif' textLength="10.20" lengthAdjust="spacingAndGlyphs">100</text>
<line x1="415.50" y1="402.00" x2="415.50" y2="404.90" stroke="#231f20" stroke-width="1.1"/>
<line x1="429.65" y1="402.00" x2="429.65" y2="404.90" stroke="#231f20" stroke-width="1.1"/>
<line x1="443.80" y1="402.00" x2="443.80" y2="404.90" stroke="#231f20" stroke-width="1.1"/>
<line x1="457.95" y1="402.00" x2="457.95" y2="404.90" stroke="#231f20" stroke-width="1.1"/>
<line x1="472.10" y1="402.00" x2="472.10" y2="404.90" stroke="#231f20" stroke-width="1.1"/>
<line x1="486.25" y1="402.00" x2="486.25" y2="404.90" stroke="#231f20" stroke-width="1.1"/>
<line x1="500.40" y1="402.00" x2="500.40" y2="404.90" stroke="#231f20" stroke-width="1.1"/>
<text x="459.00" y="318.00" font-size="9.2" text-anchor="middle" fill="#231f20" stroke="#231f20" stroke-width="0.276" font-family='"Liberation Sans", sans-serif' textLength="91.00" lengthAdjust="spacingAndGlyphs">NCI-H929 (PIM447 + Len)</text>
<polyline points="415.50,334.50 429.65,354.75 443.80,363.73 457.95,372.98 472.10,383.10 486.25,392.55 500.40,397.95" fill="none" stroke="#b22a3c" stroke-width="1.1"/>
<polyline points="415.50,334.50 429.65,356.77 443.80,362.18 457.95,366.90 472.10,366.90 486.25,371.62 500.40,372.98" fill="none" stroke="#7cba4c" stroke-width="1.1"/>
<polyline points="415.50,334.50 429.65,379.73 443.80,389.51 457.95,396.74 472.10,401.32 486.25,401.46 500.40,401.32" fill="none" stroke="#3c5f92" stroke-width="1.1"/>
<circle cx="415.50" cy="334.50" r="2.2" fill="#c42a36" stroke="#151515" stroke-width="0.95"/>
<circle cx="429.65" cy="354.75" r="2.2" fill="#c42a36" stroke="#151515" stroke-width="0.95"/>
<circle cx="443.80" cy="363.73" r="2.2" fill="#c42a36" stroke="#151515" stroke-width="0.95"/>
<circle cx="457.95" cy="372.98" r="2.2" fill="#c42a36" stroke="#151515" stroke-width="0.95"/>
<circle cx="472.10" cy="383.10" r="2.2" fill="#c42a36" stroke="#151515" stroke-width="0.95"/>
<circle cx="486.25" cy="392.55" r="2.2" fill="#c42a36" stroke="#151515" stroke-width="0.95"/>
<circle cx="500.40" cy="397.95" r="2.2" fill="#c42a36" stroke="#151515" stroke-width="0.95"/>
<circle cx="415.50" cy="334.50" r="2.2" fill="#8cc84e" stroke="#151515" stroke-width="0.95"/>
<circle cx="429.65" cy="356.77" r="2.2" fill="#8cc84e" stroke="#151515" stroke-width="0.95"/>
<line x1="443.80" y1="359.98" x2="443.80" y2="364.38" stroke="#231f20" stroke-width="0.8"/>
<circle cx="443.80" cy="362.18" r="2.2" fill="#8cc84e" stroke="#151515" stroke-width="0.95"/>
<circle cx="457.95" cy="366.90" r="2.2" fill="#8cc84e" stroke="#151515" stroke-width="0.95"/>
<circle cx="472.10" cy="366.90" r="2.2" fill="#8cc84e" stroke="#151515" stroke-width="0.95"/>
<circle cx="486.25" cy="371.62" r="2.2" fill="#8cc84e" stroke="#151515" stroke-width="0.95"/>
<line x1="500.40" y1="370.78" x2="500.40" y2="375.18" stroke="#231f20" stroke-width="0.8"/>
<circle cx="500.40" cy="372.98" r="2.2" fill="#8cc84e" stroke="#151515" stroke-width="0.95"/>
<circle cx="415.50" cy="334.50" r="2.2" fill="#3f6096" stroke="#151515" stroke-width="0.95"/>
<circle cx="429.65" cy="379.73" r="2.2" fill="#3f6096" stroke="#151515" stroke-width="0.95"/>
<circle cx="443.80" cy="389.51" r="2.2" fill="#3f6096" stroke="#151515" stroke-width="0.95"/>
<circle cx="457.95" cy="396.74" r="2.2" fill="#3f6096" stroke="#151515" stroke-width="0.95"/>
<circle cx="472.10" cy="401.32" r="2.2" fill="#3f6096" stroke="#151515" stroke-width="0.95"/>
<circle cx="500.40" cy="401.32" r="2.2" fill="#3f6096" stroke="#151515" stroke-width="0.95"/>
<text x="411.40" y="414.20" font-size="6.2" text-anchor="end" fill="#231f20" stroke="#231f20" stroke-width="0.186" font-family='"Liberation Sans", sans-serif' textLength="36.20" lengthAdjust="spacingAndGlyphs">PIM 447 [nM]</text>
<text x="415.50" y="414.20" font-size="6.2" text-anchor="middle" fill="#231f20" stroke="#231f20" stroke-width="0.186" font-family='"Liberation Sans", sans-serif'>0</text>
<text x="429.65" y="414.20" font-size="6.2" text-anchor="middle" fill="#231f20" stroke="#231f20" stroke-width="0.186" font-family='"Liberation Sans", sans-serif'>0.09</text>
<text x="443.80" y="414.20" font-size="6.2" text-anchor="middle" fill="#231f20" stroke="#231f20" stroke-width="0.186" font-family='"Liberation Sans", sans-serif'>0.19</text>
<text x="457.95" y="414.20" font-size="6.2" text-anchor="middle" fill="#231f20" stroke="#231f20" stroke-width="0.186" font-family='"Liberation Sans", sans-serif'>0.38</text>
<text x="472.10" y="414.20" font-size="6.2" text-anchor="middle" fill="#231f20" stroke="#231f20" stroke-width="0.186" font-family='"Liberation Sans", sans-serif'>0.75</text>
<text x="486.25" y="414.20" font-size="6.2" text-anchor="middle" fill="#231f20" stroke="#231f20" stroke-width="0.186" font-family='"Liberation Sans", sans-serif'>1.5</text>
<text x="500.40" y="414.20" font-size="6.2" text-anchor="middle" fill="#231f20" stroke="#231f20" stroke-width="0.186" font-family='"Liberation Sans", sans-serif'>3</text>
<text x="411.40" y="423.60" font-size="6.2" text-anchor="end" fill="#231f20" stroke="#231f20" stroke-width="0.186" font-family='"Liberation Sans", sans-serif' textLength="24.20" lengthAdjust="spacingAndGlyphs">Len [μM]</text>
<text x="415.50" y="423.60" font-size="6.2" text-anchor="middle" fill="#231f20" stroke="#231f20" stroke-width="0.186" font-family='"Liberation Sans", sans-serif'>0</text>
<text x="429.65" y="425.40" font-size="6.2" text-anchor="middle" fill="#231f20" stroke="#231f20" stroke-width="0.186" font-family='"Liberation Sans", sans-serif'>0.31</text>
<text x="443.80" y="425.40" font-size="6.2" text-anchor="middle" fill="#231f20" stroke="#231f20" stroke-width="0.186" font-family='"Liberation Sans", sans-serif'>0.63</text>
<text x="457.95" y="425.40" font-size="6.2" text-anchor="middle" fill="#231f20" stroke="#231f20" stroke-width="0.186" font-family='"Liberation Sans", sans-serif'>1.25</text>
<text x="472.10" y="425.40" font-size="6.2" text-anchor="middle" fill="#231f20" stroke="#231f20" stroke-width="0.186" font-family='"Liberation Sans", sans-serif'>2.5</text>
<text x="486.25" y="425.40" font-size="6.2" text-anchor="middle" fill="#231f20" stroke="#231f20" stroke-width="0.186" font-family='"Liberation Sans", sans-serif'>5</text>
<text x="500.40" y="425.40" font-size="6.2" text-anchor="middle" fill="#231f20" stroke="#231f20" stroke-width="0.186" font-family='"Liberation Sans", sans-serif'>10</text>
<text x="459.40" y="439.40" font-size="9.4" text-anchor="middle" fill="#231f20" stroke="#231f20" stroke-width="0.282" font-family='"Liberation Sans", sans-serif' textLength="51.50" lengthAdjust="spacingAndGlyphs">Concentration</text>
<line x1="423.00" y1="326.80" x2="436.00" y2="326.80" stroke="#b22a3c" stroke-width="1.1"/>
<circle cx="429.50" cy="326.80" r="2.3" fill="#c42a36" stroke="#222" stroke-width="0.7"/>
<text x="438.50" y="328.80" font-size="5.6" text-anchor="start" fill="#231f20" stroke="#231f20" stroke-width="0.168" font-family='"Liberation Sans", sans-serif' textLength="15.00" lengthAdjust="spacingAndGlyphs">PIM447</text>
<line x1="423.00" y1="333.40" x2="436.00" y2="333.40" stroke="#7cba4c" stroke-width="1.1"/>
<circle cx="429.50" cy="333.40" r="2.3" fill="#8cc84e" stroke="#222" stroke-width="0.7"/>
<text x="438.50" y="335.40" font-size="5.6" text-anchor="start" fill="#231f20" stroke="#231f20" stroke-width="0.168" font-family='"Liberation Sans", sans-serif' textLength="6.60" lengthAdjust="spacingAndGlyphs">Len</text>
<line x1="423.00" y1="340.00" x2="436.00" y2="340.00" stroke="#3c5f92" stroke-width="1.1"/>
<circle cx="429.50" cy="340.00" r="2.3" fill="#3f6096" stroke="#222" stroke-width="0.7"/>
<text x="438.50" y="342.00" font-size="5.6" text-anchor="start" fill="#231f20" stroke="#231f20" stroke-width="0.168" font-family='"Liberation Sans", sans-serif' textLength="31.50" lengthAdjust="spacingAndGlyphs">PIM447 &amp; Len</text>
<text x="471.00" y="349.20" font-size="5.6" text-anchor="start" fill="#231f20" stroke="#231f20" stroke-width="0.168" font-family='"Liberation Sans", sans-serif' textLength="32.50" lengthAdjust="spacingAndGlyphs">CI (ED75): 0.21</text>
<text x="471.00" y="355.20" font-size="5.6" text-anchor="start" fill="#231f20" stroke="#231f20" stroke-width="0.168" font-family='"Liberation Sans", sans-serif' textLength="32.50" lengthAdjust="spacingAndGlyphs">CI (ED90): 0.12</text>
<text x="471.00" y="361.20" font-size="5.6" text-anchor="start" fill="#231f20" stroke="#231f20" stroke-width="0.168" font-family='"Liberation Sans", sans-serif' textLength="32.50" lengthAdjust="spacingAndGlyphs">CI (ED95): 0.09</text>
<text x="391.00" y="366.00" font-size="9.2" text-anchor="middle" fill="#231f20" stroke="#231f20" stroke-width="0.276" font-family='"Liberation Sans", sans-serif' textLength="40.00" lengthAdjust="spacingAndGlyphs" transform="rotate(-90 391.00 366.00)">Growth [%]</text>
<line x1="36.60" y1="373.20" x2="36.60" y2="469.80" stroke="#231f20" stroke-width="1.3"/>
<line x1="36.00" y1="469.20" x2="172.00" y2="469.20" stroke="#231f20" stroke-width="1.3"/>
<line x1="34.00" y1="469.20" x2="36.60" y2="469.20" stroke="#231f20" stroke-width="1"/>
<text x="31.30" y="471.40" font-size="6.4" text-anchor="end" fill="#231f20" stroke="#231f20" stroke-width="0.192" font-family='"Liberation Sans", sans-serif' textLength="3.40" lengthAdjust="spacingAndGlyphs">0</text>
<line x1="34.00" y1="450.10" x2="36.60" y2="450.10" stroke="#231f20" stroke-width="1"/>
<text x="31.30" y="452.30" font-size="6.4" text-anchor="end" fill="#231f20" stroke="#231f20" stroke-width="0.192" font-family='"Liberation Sans", sans-serif' textLength="6.80" lengthAdjust="spacingAndGlyphs">20</text>
<line x1="34.00" y1="431.00" x2="36.60" y2="431.00" stroke="#231f20" stroke-width="1"/>
<text x="31.30" y="433.20" font-size="6.4" text-anchor="end" fill="#231f20" stroke="#231f20" stroke-width="0.192" font-family='"Liberation Sans", sans-serif' textLength="6.80" lengthAdjust="spacingAndGlyphs">40</text>
<line x1="34.00" y1="411.90" x2="36.60" y2="411.90" stroke="#231f20" stroke-width="1"/>
<text x="31.30" y="414.10" font-size="6.4" text-anchor="end" fill="#231f20" stroke="#231f20" stroke-width="0.192" font-family='"Liberation Sans", sans-serif' textLength="6.80" lengthAdjust="spacingAndGlyphs">60</text>
<line x1="34.00" y1="392.80" x2="36.60" y2="392.80" stroke="#231f20" stroke-width="1"/>
<text x="31.30" y="395.00" font-size="6.4" text-anchor="end" fill="#231f20" stroke="#231f20" stroke-width="0.192" font-family='"Liberation Sans", sans-serif' textLength="6.80" lengthAdjust="spacingAndGlyphs">80</text>
<line x1="34.00" y1="373.70" x2="36.60" y2="373.70" stroke="#231f20" stroke-width="1"/>
<text x="31.30" y="375.90" font-size="6.4" text-anchor="end" fill="#231f20" stroke="#231f20" stroke-width="0.192" font-family='"Liberation Sans", sans-serif' textLength="10.20" lengthAdjust="spacingAndGlyphs">100</text>
<line x1="49.20" y1="469.20" x2="49.20" y2="471.60" stroke="#231f20" stroke-width="1"/>
<line x1="87.70" y1="469.20" x2="87.70" y2="471.60" stroke="#231f20" stroke-width="1"/>
<line x1="126.20" y1="469.20" x2="126.20" y2="471.60" stroke="#231f20" stroke-width="1"/>
<line x1="164.70" y1="469.20" x2="164.70" y2="471.60" stroke="#231f20" stroke-width="1"/>
<line x1="37.20" y1="469.20" x2="37.20" y2="471.60" stroke="#231f20" stroke-width="1"/>
<rect x="40.60" y="468.20" width="4.00" height="2.00" fill="#fff"/>
<line x1="39.10" y1="472.40" x2="43.50" y2="466.30" stroke="#231f20" stroke-width="1.1"/>
<line x1="43.20" y1="472.40" x2="47.80" y2="466.30" stroke="#231f20" stroke-width="1.1"/>
<text x="37.20" y="481.00" font-size="6.4" text-anchor="middle" fill="#231f20" stroke="#231f20" stroke-width="0.192" font-family='"Liberation Sans", sans-serif'>0</text>
<text x="49.20" y="481.00" font-size="6.4" text-anchor="middle" fill="#231f20" stroke="#231f20" stroke-width="0.192" font-family='"Liberation Sans", sans-serif' textLength="6.60" lengthAdjust="spacingAndGlyphs">20</text>
<text x="87.70" y="481.00" font-size="6.4" text-anchor="middle" fill="#231f20" stroke="#231f20" stroke-width="0.192" font-family='"Liberation Sans", sans-serif' textLength="6.60" lengthAdjust="spacingAndGlyphs">30</text>
<text x="126.20" y="481.00" font-size="6.4" text-anchor="middle" fill="#231f20" stroke="#231f20" stroke-width="0.192" font-family='"Liberation Sans", sans-serif' textLength="6.60" lengthAdjust="spacingAndGlyphs">40</text>
<text x="164.70" y="481.00" font-size="6.4" text-anchor="middle" fill="#231f20" stroke="#231f20" stroke-width="0.192" font-family='"Liberation Sans", sans-serif' textLength="6.60" lengthAdjust="spacingAndGlyphs">50</text>
<text x="105.00" y="494.20" font-size="9.0" text-anchor="middle" fill="#231f20" stroke="#231f20" stroke-width="0.270" font-family='"Liberation Sans", sans-serif' textLength="150.50" lengthAdjust="spacingAndGlyphs">Days after i.v. injection of MM.1S-Luc cells</text>
<text x="14.40" y="421.40" font-size="8.8" text-anchor="middle" fill="#231f20" stroke="#231f20" stroke-width="0.264" font-family='"Liberation Sans", sans-serif' textLength="62.50" lengthAdjust="spacingAndGlyphs" transform="rotate(-90 14.40 421.40)">Percent of survial</text>
<line x1="37.00" y1="373.70" x2="42.70" y2="373.70" stroke="#a07aa8" stroke-width="1.1"/>
<path d="M46.12,373.70 H130.05 V373.70 H130.05 V385.64 H145.45 V385.64 H145.45 V397.57 H149.30 V397.57 H149.30 V409.51 H157.00 V409.51 H157.00 V433.39 H160.85 V433.39 H160.85 V445.32 H164.70 V445.32 H164.70 V469.20" stroke="#6b3a72" stroke-width="1.2" fill="none"/>
<path d="M103.10,373.70 H103.10 V385.64 H110.80 V385.64 H110.80 V397.57 H114.65 V397.57 H114.65 V421.45 H118.50 V421.45 H118.50 V433.39 H130.05 V433.39 H130.05 V445.32 H133.90 V445.32 H133.90 V457.26 H137.75 V457.26 H137.75 V469.20" stroke="#c1272d" stroke-width="1.1" fill="none" stroke-dasharray="1.2,1.0"/>
<path d="M110.80,373.70 H110.80 V387.36 H114.65 V387.36 H114.65 V401.01 H118.50 V401.01 H118.50 V414.67 H126.20 V414.67 H126.20 V428.23 H130.05 V428.23 H130.05 V441.89 H137.75 V441.89 H137.75 V455.54 H141.60 V455.54 H141.60 V469.20" stroke="#3a5f95" stroke-width="1.2" fill="none"/>
<path d="M114.65,373.70 H114.65 V387.36 H122.35 V387.36 H122.35 V401.01 H126.20 V401.01 H126.20 V428.23 H130.05 V428.23 H130.05 V441.89 H133.90 V441.89 H133.90 V455.54 H137.75 V455.54 H137.75 V469.20" stroke="#6ab04c" stroke-width="1.1" fill="none" stroke-dasharray="1.2,1.0"/>
<rect x="38.15" y="372.70" width="0.10" height="0.10" fill="#fff"/>
<circle cx="103.10" cy="385.64" r="1.7" fill="#c1272d" stroke="#c1272d" stroke-width="0.5"/>
<circle cx="110.80" cy="397.57" r="1.7" fill="#c1272d" stroke="#c1272d" stroke-width="0.5"/>
<circle cx="114.65" cy="421.45" r="1.7" fill="#c1272d" stroke="#c1272d" stroke-width="0.5"/>
<circle cx="118.50" cy="433.39" r="1.7" fill="#c1272d" stroke="#c1272d" stroke-width="0.5"/>
<circle cx="130.05" cy="445.32" r="1.7" fill="#c1272d" stroke="#c1272d" stroke-width="0.5"/>
<circle cx="133.90" cy="457.26" r="1.7" fill="#c1272d" stroke="#c1272d" stroke-width="0.5"/>
<rect x="109.10" y="385.66" width="3.4" height="3.4" fill="#fff" stroke="#3a5f95" stroke-width="0.9"/>
<rect x="112.95" y="399.31" width="3.4" height="3.4" fill="#fff" stroke="#3a5f95" stroke-width="0.9"/>
<rect x="116.80" y="412.97" width="3.4" height="3.4" fill="#fff" stroke="#3a5f95" stroke-width="0.9"/>
<rect x="124.50" y="426.53" width="3.4" height="3.4" fill="#fff" stroke="#3a5f95" stroke-width="0.9"/>
<rect x="128.35" y="440.19" width="3.4" height="3.4" fill="#fff" stroke="#3a5f95" stroke-width="0.9"/>
<rect x="136.05" y="453.84" width="3.4" height="3.4" fill="#fff" stroke="#3a5f95" stroke-width="0.9"/>
<rect x="139.90" y="467.50" width="3.4" height="3.4" fill="#fff" stroke="#3a5f95" stroke-width="0.9"/>
<circle cx="114.65" cy="387.36" r="1.7" fill="#fff" stroke="#6ab04c" stroke-width="0.9"/>
<circle cx="122.35" cy="401.01" r="1.7" fill="#fff" stroke="#6ab04c" stroke-width="0.9"/>
<circle cx="133.90" cy="455.54" r="1.7" fill="#fff" stroke="#6ab04c" stroke-width="0.9"/>
<circle cx="137.75" cy="469.20" r="1.7" fill="#fff" stroke="#6ab04c" stroke-width="0.9"/>
<path d="M130.05,383.44 L132.25,385.64 L130.05,387.84 L127.85,385.64 Z" fill="#6b3a72"/>
<path d="M145.45,395.38 L147.65,397.57 L145.45,399.77 L143.25,397.57 Z" fill="#6b3a72"/>
<path d="M149.30,407.31 L151.50,409.51 L149.30,411.71 L147.10,409.51 Z" fill="#6b3a72"/>
<path d="M157.00,431.19 L159.20,433.39 L157.00,435.59 L154.80,433.39 Z" fill="#6b3a72"/>
<path d="M160.85,443.12 L163.05,445.32 L160.85,447.52 L158.65,445.32 Z" fill="#6b3a72"/>
<path d="M164.70,467.00 L166.90,469.20 L164.70,471.40 L162.50,469.20 Z" fill="#6b3a72"/>
<line x1="43.00" y1="441.50" x2="54.80" y2="441.50" stroke="#c1272d" stroke-width="1.0" stroke-dasharray="1.2,1.0"/>
<circle cx="49.20" cy="441.50" r="1.6" fill="#c1272d" stroke="#c1272d" stroke-width="0.5"/>
<text x="57.50" y="443.50" font-size="6.0" text-anchor="start" fill="#333" stroke="#333" stroke-width="0.180" font-family='"Liberation Serif", serif' textLength="9.50" lengthAdjust="spacingAndGlyphs">Con</text>
<line x1="43.00" y1="447.95" x2="54.80" y2="447.95" stroke="#3a5f95" stroke-width="1.0"/>
<rect x="47.60" y="446.35" width="3.2" height="3.2" fill="#fff" stroke="#3a5f95" stroke-width="0.9"/>
<text x="57.50" y="449.95" font-size="6.0" text-anchor="start" fill="#333" stroke="#333" stroke-width="0.180" font-family='"Liberation Serif", serif' textLength="21.00" lengthAdjust="spacingAndGlyphs">Lef p=0.4</text>
<line x1="43.00" y1="454.40" x2="54.80" y2="454.40" stroke="#6ab04c" stroke-width="1.0" stroke-dasharray="1.2,1.0"/>
<circle cx="49.20" cy="454.40" r="1.6" fill="#fff" stroke="#6ab04c" stroke-width="0.9"/>
<text x="57.50" y="456.40" font-size="6.0" text-anchor="start" fill="#333" stroke="#333" stroke-width="0.180" font-family='"Liberation Serif", serif' textLength="22.50" lengthAdjust="spacingAndGlyphs">Len p=0.2</text>
<line x1="43.00" y1="460.85" x2="54.80" y2="460.85" stroke="#6b3a72" stroke-width="1.0"/>
<path d="M49.20,458.85 L51.20,460.85 L49.20,462.85 L47.20,460.85 Z" fill="#6b3a72"/>
<text x="57.50" y="462.85" font-size="6.0" text-anchor="start" fill="#333" stroke="#333" stroke-width="0.180" font-family='"Liberation Serif", serif' textLength="43.00" lengthAdjust="spacingAndGlyphs">Lef+Len p=0.00006</text>
<text x="7.30" y="540.20" font-size="8.6" text-anchor="start" fill="#231f20" stroke="#231f20" stroke-width="0.258" font-family='"Liberation Sans", sans-serif' textLength="13.40" lengthAdjust="spacingAndGlyphs">Day</text>
<text x="20.40" y="558.60" font-size="8.6" text-anchor="end" fill="#231f20" stroke="#231f20" stroke-width="0.258" font-family='"Liberation Sans", sans-serif' textLength="7.40" lengthAdjust="spacingAndGlyphs">14</text>
<text x="20.40" y="582.00" font-size="8.6" text-anchor="end" fill="#231f20" stroke="#231f20" stroke-width="0.258" font-family='"Liberation Sans", sans-serif' textLength="7.40" lengthAdjust="spacingAndGlyphs">33</text>
<text x="20.40" y="624.40" font-size="8.6" text-anchor="end" fill="#231f20" stroke="#231f20" stroke-width="0.258" font-family='"Liberation Sans", sans-serif' textLength="7.40" lengthAdjust="spacingAndGlyphs">14</text>
<text x="20.40" y="642.80" font-size="8.6" text-anchor="end" fill="#231f20" stroke="#231f20" stroke-width="0.258" font-family='"Liberation Sans", sans-serif' textLength="7.40" lengthAdjust="spacingAndGlyphs">33</text>
<rect x="23.80" y="531.60" width="156.40" height="121.00" fill="#121212"/>
<rect x="24.90" y="532.80" width="76.40" height="8.80" fill="#fff"/>
<rect x="103.00" y="532.80" width="76.30" height="8.80" fill="#fff"/>
<rect x="24.90" y="592.60" width="76.40" height="10.30" fill="#fff"/>
<rect x="103.00" y="592.60" width="76.30" height="10.30" fill="#fff"/>
<text x="63.10" y="539.80" font-size="6.8" text-anchor="middle" fill="#231f20" stroke="#231f20" stroke-width="0.204" font-family='"Liberation Sans", sans-serif' textLength="20.50" lengthAdjust="spacingAndGlyphs">Control</text>
<text x="141.20" y="539.80" font-size="6.8" text-anchor="middle" fill="#231f20" stroke="#231f20" stroke-width="0.204" font-family='"Liberation Sans", sans-serif' textLength="36.50" lengthAdjust="spacingAndGlyphs">Lenalidomide</text>
<text x="63.10" y="600.60" font-size="6.8" text-anchor="middle" fill="#231f20" stroke="#231f20" stroke-width="0.204" font-family='"Liberation Sans", sans-serif' textLength="33.50" lengthAdjust="spacingAndGlyphs">Leflunomide</text>
<text x="141.20" y="600.60" font-size="6.8" text-anchor="middle" fill="#231f20" stroke="#231f20" stroke-width="0.204" font-family='"Liberation Sans", sans-serif' textLength="76.00" lengthAdjust="spacingAndGlyphs">Lenalidomide&amp;Leflunomide</text>
<rect x="26.70" y="543.60" width="10.80" height="22.80" fill="#2c2c2c"/>
<rect x="26.70" y="567.00" width="10.80" height="22.80" fill="#323232"/>
<rect x="38.00" y="543.60" width="10.80" height="22.80" fill="#323232"/>
<rect x="38.00" y="567.00" width="10.80" height="22.80" fill="#2c2c2c"/>
<rect x="50.10" y="543.60" width="10.80" height="22.80" fill="#2c2c2c"/>
<rect x="50.10" y="567.00" width="10.80" height="22.80" fill="#323232"/>
<rect x="61.50" y="543.60" width="10.80" height="22.80" fill="#323232"/>
<rect x="61.50" y="567.00" width="10.80" height="22.80" fill="#2c2c2c"/>
<rect x="74.80" y="543.60" width="10.80" height="22.80" fill="#2c2c2c"/>
<rect x="74.80" y="567.00" width="10.80" height="22.80" fill="#323232"/>
<rect x="87.30" y="543.60" width="10.80" height="22.80" fill="#323232"/>
<rect x="87.30" y="567.00" width="10.80" height="22.80" fill="#2c2c2c"/>
<rect x="104.30" y="543.60" width="10.80" height="22.80" fill="#2c2c2c"/>
<rect x="104.30" y="567.00" width="10.80" height="22.80" fill="#323232"/>
<rect x="117.30" y="543.60" width="10.80" height="22.80" fill="#323232"/>
<rect x="117.30" y="567.00" width="10.80" height="22.80" fill="#2c2c2c"/>
<rect x="129.40" y="543.60" width="10.80" height="22.80" fill="#2c2c2c"/>
<rect x="129.40" y="567.00" width="10.80" height="22.80" fill="#323232"/>
<rect x="140.10" y="543.60" width="10.80" height="22.80" fill="#323232"/>
<rect x="140.10" y="567.00" width="10.80" height="22.80" fill="#2c2c2c"/>
<rect x="155.00" y="543.60" width="10.80" height="22.80" fill="#2c2c2c"/>
<rect x="155.00" y="567.00" width="10.80" height="22.80" fill="#323232"/>
<rect x="166.60" y="543.60" width="10.80" height="22.80" fill="#323232"/>
<rect x="166.60" y="567.00" width="10.80" height="22.80" fill="#2c2c2c"/>
<rect x="26.70" y="603.60" width="10.80" height="22.80" fill="#2c2c2c"/>
<rect x="26.70" y="628.00" width="10.80" height="22.80" fill="#323232"/>
<rect x="38.00" y="603.60" width="10.80" height="22.80" fill="#323232"/>
<rect x="38.00" y="628.00" width="10.80" height="22.80" fill="#2c2c2c"/>
<rect x="50.10" y="603.60" width="10.80" height="22.80" fill="#2c2c2c"/>
<rect x="50.10" y="628.00" width="10.80" height="22.80" fill="#323232"/>
<rect x="61.50" y="603.60" width="10.80" height="22.80" fill="#323232"/>
<rect x="61.50" y="628.00" width="10.80" height="22.80" fill="#2c2c2c"/>
<rect x="74.80" y="603.60" width="10.80" height="22.80" fill="#2c2c2c"/>
<rect x="74.80" y="628.00" width="10.80" height="22.80" fill="#323232"/>
<rect x="87.30" y="603.60" width="10.80" height="22.80" fill="#323232"/>
<rect x="87.30" y="628.00" width="10.80" height="22.80" fill="#2c2c2c"/>
<rect x="104.30" y="603.60" width="10.80" height="22.80" fill="#2c2c2c"/>
<rect x="104.30" y="628.00" width="10.80" height="22.80" fill="#323232"/>
<rect x="117.30" y="603.60" width="10.80" height="22.80" fill="#323232"/>
<rect x="117.30" y="628.00" width="10.80" height="22.80" fill="#2c2c2c"/>
<rect x="129.40" y="603.60" width="10.80" height="22.80" fill="#2c2c2c"/>
<rect x="129.40" y="628.00" width="10.80" height="22.80" fill="#323232"/>
<rect x="140.10" y="603.60" width="10.80" height="22.80" fill="#323232"/>
<rect x="140.10" y="628.00" width="10.80" height="22.80" fill="#2c2c2c"/>
<rect x="155.00" y="603.60" width="10.80" height="22.80" fill="#2c2c2c"/>
<rect x="155.00" y="628.00" width="10.80" height="22.80" fill="#323232"/>
<rect x="166.60" y="603.60" width="10.80" height="22.80" fill="#323232"/>
<rect x="166.60" y="628.00" width="10.80" height="22.80" fill="#2c2c2c"/>
<path d="M32.10,545.80 C33.54,545.80 34.62,548.19 35.12,550.78 C35.70,552.17 35.84,554.76 35.70,557.74 L35.70,562.72 C35.70,564.71 34.98,565.10 34.26,565.10 L29.94,565.10 C29.22,565.10 28.50,564.71 28.50,562.72 L28.50,557.74 C28.36,554.76 28.50,552.17 29.08,550.78 C29.58,548.19 30.66,545.80 32.10,545.80 Z" fill="#c4c4c4" filter="url(#b06)"/>
<ellipse cx="32.10" cy="556.75" rx="2.02" ry="5.97" fill="#e2e2e2" filter="url(#b08)"/>
<g filter="url(#b05)">
<ellipse cx="29.51" cy="561.52" rx="1.40" ry="1.55" fill="#3444c8" opacity="0.95"/>
<ellipse cx="34.69" cy="561.52" rx="1.40" ry="1.55" fill="#3444c8" opacity="0.95"/>
<ellipse cx="32.10" cy="552.57" rx="1.50" ry="1.30" fill="#4a58c8" opacity="0.5"/>
</g>
<path d="M32.10,569.00 C33.62,569.00 34.76,571.42 35.29,574.05 C35.90,575.46 36.05,578.09 35.90,581.12 L35.90,586.17 C35.90,588.19 35.14,588.59 34.38,588.59 L29.82,588.59 C29.06,588.59 28.30,588.19 28.30,586.17 L28.30,581.12 C28.15,578.09 28.30,575.46 28.91,574.05 C29.44,571.42 30.58,569.00 32.10,569.00 Z" fill="#c4c4c4" filter="url(#b06)"/>
<ellipse cx="32.10" cy="580.11" rx="2.13" ry="6.06" fill="#e2e2e2" filter="url(#b08)"/>
<g filter="url(#b05)">
<rect x="27.84" y="569.60" width="8.51" height="19.19" rx="3" fill="#e3281f" stroke="#63d04f" stroke-width="0.7" stroke-dasharray="1.2,1.6"/>
</g>
<path d="M43.40,545.80 C44.84,545.80 45.92,548.19 46.42,550.78 C47.00,552.17 47.14,554.76 47.00,557.74 L47.00,562.72 C47.00,564.71 46.28,565.10 45.56,565.10 L41.24,565.10 C40.52,565.10 39.80,564.71 39.80,562.72 L39.80,557.74 C39.66,554.76 39.80,552.17 40.38,550.78 C40.88,548.19 41.96,545.80 43.40,545.80 Z" fill="#c4c4c4" filter="url(#b06)"/>
<ellipse cx="43.40" cy="556.75" rx="2.02" ry="5.97" fill="#e2e2e2" filter="url(#b08)"/>
<g filter="url(#b05)">
<ellipse cx="40.81" cy="561.52" rx="1.26" ry="1.40" fill="#3444c8" opacity="0.95"/>
<ellipse cx="45.99" cy="561.52" rx="1.26" ry="1.40" fill="#3444c8" opacity="0.95"/>
</g>
<path d="M43.40,569.00 C44.92,569.00 46.06,571.42 46.59,574.05 C47.20,575.46 47.35,578.09 47.20,581.12 L47.20,586.17 C47.20,588.19 46.44,588.59 45.68,588.59 L41.12,588.59 C40.36,588.59 39.60,588.19 39.60,586.17 L39.60,581.12 C39.45,578.09 39.60,575.46 40.21,574.05 C40.74,571.42 41.88,569.00 43.40,569.00 Z" fill="#c4c4c4" filter="url(#b06)"/>
<ellipse cx="43.40" cy="580.11" rx="2.13" ry="6.06" fill="#e2e2e2" filter="url(#b08)"/>
<g filter="url(#b05)">
<ellipse cx="43.40" cy="579.50" rx="3.95" ry="9.09" fill="#63d04f" opacity="0.75"/>
<ellipse cx="43.40" cy="579.50" rx="3.19" ry="2.83" fill="#e6eee0" opacity="1.0"/>
<ellipse cx="43.40" cy="574.66" rx="3.50" ry="4.04" fill="#e3281f" opacity="1.0"/>
<ellipse cx="43.40" cy="584.76" rx="4.18" ry="3.84" fill="#e3281f" opacity="1.0"/>
</g>
<path d="M55.50,545.80 C56.94,545.80 58.02,548.19 58.52,550.78 C59.10,552.17 59.24,554.76 59.10,557.74 L59.10,562.72 C59.10,564.71 58.38,565.10 57.66,565.10 L53.34,565.10 C52.62,565.10 51.90,564.71 51.90,562.72 L51.90,557.74 C51.76,554.76 51.90,552.17 52.48,550.78 C52.98,548.19 54.06,545.80 55.50,545.80 Z" fill="#c4c4c4" filter="url(#b06)"/>
<ellipse cx="55.50" cy="556.75" rx="2.02" ry="5.97" fill="#e2e2e2" filter="url(#b08)"/>
<g filter="url(#b05)">
<ellipse cx="52.91" cy="561.52" rx="1.53" ry="1.70" fill="#3444c8" opacity="0.95"/>
<ellipse cx="58.09" cy="561.52" rx="1.53" ry="1.70" fill="#3444c8" opacity="0.95"/>
<ellipse cx="52.91" cy="561.52" rx="0.80" ry="0.80" fill="#7fe0c8" opacity="1.0"/>
<ellipse cx="58.09" cy="561.52" rx="0.80" ry="0.80" fill="#7fe0c8" opacity="1.0"/>
<ellipse cx="55.50" cy="551.77" rx="2.20" ry="2.00" fill="#3444c8" opacity="1.0"/>
</g>
<path d="M55.50,569.00 C57.02,569.00 58.16,571.42 58.69,574.05 C59.30,575.46 59.45,578.09 59.30,581.12 L59.30,586.17 C59.30,588.19 58.54,588.59 57.78,588.59 L53.22,588.59 C52.46,588.59 51.70,588.19 51.70,586.17 L51.70,581.12 C51.55,578.09 51.70,575.46 52.31,574.05 C52.84,571.42 53.98,569.00 55.50,569.00 Z" fill="#c4c4c4" filter="url(#b06)"/>
<ellipse cx="55.50" cy="580.11" rx="2.13" ry="6.06" fill="#e2e2e2" filter="url(#b08)"/>
<g filter="url(#b05)">
<rect x="51.24" y="569.60" width="8.51" height="19.19" rx="3" fill="#e3281f" stroke="#63d04f" stroke-width="0.7" stroke-dasharray="1.2,1.6"/>
</g>
<path d="M66.90,545.80 C68.34,545.80 69.42,548.19 69.92,550.78 C70.50,552.17 70.64,554.76 70.50,557.74 L70.50,562.72 C70.50,564.71 69.78,565.10 69.06,565.10 L64.74,565.10 C64.02,565.10 63.30,564.71 63.30,562.72 L63.30,557.74 C63.16,554.76 63.30,552.17 63.88,550.78 C64.38,548.19 65.46,545.80 66.90,545.80 Z" fill="#c4c4c4" filter="url(#b06)"/>
<ellipse cx="66.90" cy="556.75" rx="2.02" ry="5.97" fill="#e2e2e2" filter="url(#b08)"/>
<g filter="url(#b05)">
<ellipse cx="64.31" cy="561.52" rx="1.22" ry="1.35" fill="#3444c8" opacity="0.95"/>
<ellipse cx="69.49" cy="561.52" rx="1.22" ry="1.35" fill="#3444c8" opacity="0.95"/>
</g>
<path d="M66.90,569.00 C68.42,569.00 69.56,571.42 70.09,574.05 C70.70,575.46 70.85,578.09 70.70,581.12 L70.70,586.17 C70.70,588.19 69.94,588.59 69.18,588.59 L64.62,588.59 C63.86,588.59 63.10,588.19 63.10,586.17 L63.10,581.12 C62.95,578.09 63.10,575.46 63.71,574.05 C64.24,571.42 65.38,569.00 66.90,569.00 Z" fill="#c4c4c4" filter="url(#b06)"/>
<ellipse cx="66.90" cy="580.11" rx="2.13" ry="6.06" fill="#e2e2e2" filter="url(#b08)"/>
<g filter="url(#b05)">
<ellipse cx="66.90" cy="579.50" rx="3.95" ry="9.09" fill="#63d04f" opacity="0.75"/>
<ellipse cx="66.90" cy="579.50" rx="3.19" ry="2.83" fill="#e6eee0" opacity="1.0"/>
<ellipse cx="66.90" cy="574.66" rx="3.50" ry="4.04" fill="#e3281f" opacity="1.0"/>
<ellipse cx="66.90" cy="584.76" rx="4.18" ry="3.84" fill="#e3281f" opacity="1.0"/>
</g>
<path d="M80.20,545.80 C81.64,545.80 82.72,548.19 83.22,550.78 C83.80,552.17 83.94,554.76 83.80,557.74 L83.80,562.72 C83.80,564.71 83.08,565.10 82.36,565.10 L78.04,565.10 C77.32,565.10 76.60,564.71 76.60,562.72 L76.60,557.74 C76.46,554.76 76.60,552.17 77.18,550.78 C77.68,548.19 78.76,545.80 80.20,545.80 Z" fill="#c4c4c4" filter="url(#b06)"/>
<ellipse cx="80.20" cy="556.75" rx="2.02" ry="5.97" fill="#e2e2e2" filter="url(#b08)"/>
<g filter="url(#b05)">
<ellipse cx="77.61" cy="561.52" rx="1.40" ry="1.55" fill="#3444c8" opacity="0.95"/>
<ellipse cx="82.79" cy="561.52" rx="1.40" ry="1.55" fill="#3444c8" opacity="0.95"/>
<ellipse cx="80.20" cy="552.57" rx="1.50" ry="1.30" fill="#4a58c8" opacity="0.5"/>
</g>
<path d="M80.20,569.00 C81.72,569.00 82.86,571.42 83.39,574.05 C84.00,575.46 84.15,578.09 84.00,581.12 L84.00,586.17 C84.00,588.19 83.24,588.59 82.48,588.59 L77.92,588.59 C77.16,588.59 76.40,588.19 76.40,586.17 L76.40,581.12 C76.25,578.09 76.40,575.46 77.01,574.05 C77.54,571.42 78.68,569.00 80.20,569.00 Z" fill="#c4c4c4" filter="url(#b06)"/>
<ellipse cx="80.20" cy="580.11" rx="2.13" ry="6.06" fill="#e2e2e2" filter="url(#b08)"/>
<g filter="url(#b05)">
<ellipse cx="80.20" cy="579.50" rx="3.95" ry="9.09" fill="#63d04f" opacity="0.75"/>
<ellipse cx="80.20" cy="579.50" rx="3.19" ry="2.83" fill="#e6eee0" opacity="1.0"/>
<ellipse cx="80.20" cy="574.66" rx="3.50" ry="4.04" fill="#e3281f" opacity="1.0"/>
<ellipse cx="80.20" cy="584.76" rx="4.18" ry="3.84" fill="#e3281f" opacity="1.0"/>
</g>
<path d="M92.70,545.80 C94.14,545.80 95.22,548.19 95.72,550.78 C96.30,552.17 96.44,554.76 96.30,557.74 L96.30,562.72 C96.30,564.71 95.58,565.10 94.86,565.10 L90.54,565.10 C89.82,565.10 89.10,564.71 89.10,562.72 L89.10,557.74 C88.96,554.76 89.10,552.17 89.68,550.78 C90.18,548.19 91.26,545.80 92.70,545.80 Z" fill="#c4c4c4" filter="url(#b06)"/>
<ellipse cx="92.70" cy="556.75" rx="2.02" ry="5.97" fill="#e2e2e2" filter="url(#b08)"/>
<g filter="url(#b05)">
<ellipse cx="90.11" cy="561.52" rx="1.35" ry="1.50" fill="#3444c8" opacity="0.95"/>
<ellipse cx="95.29" cy="561.52" rx="1.35" ry="1.50" fill="#3444c8" opacity="0.95"/>
</g>
<path d="M92.70,569.00 C94.22,569.00 95.36,571.42 95.89,574.05 C96.50,575.46 96.65,578.09 96.50,581.12 L96.50,586.17 C96.50,588.19 95.74,588.59 94.98,588.59 L90.42,588.59 C89.66,588.59 88.90,588.19 88.90,586.17 L88.90,581.12 C88.75,578.09 88.90,575.46 89.51,574.05 C90.04,571.42 91.18,569.00 92.70,569.00 Z" fill="#c4c4c4" filter="url(#b06)"/>
<ellipse cx="92.70" cy="580.11" rx="2.13" ry="6.06" fill="#e2e2e2" filter="url(#b08)"/>
<g filter="url(#b05)">
<ellipse cx="92.70" cy="579.50" rx="3.95" ry="9.09" fill="#63d04f" opacity="0.75"/>
<ellipse cx="92.70" cy="579.50" rx="3.19" ry="2.83" fill="#e6eee0" opacity="1.0"/>
<ellipse cx="92.70" cy="574.66" rx="3.50" ry="4.04" fill="#e3281f" opacity="1.0"/>
<ellipse cx="92.70" cy="584.76" rx="4.18" ry="3.84" fill="#e3281f" opacity="1.0"/>
</g>
<path d="M109.70,545.80 C111.14,545.80 112.22,548.19 112.72,550.78 C113.30,552.17 113.44,554.76 113.30,557.74 L113.30,562.72 C113.30,564.71 112.58,565.10 111.86,565.10 L107.54,565.10 C106.82,565.10 106.10,564.71 106.10,562.72 L106.10,557.74 C105.96,554.76 106.10,552.17 106.68,550.78 C107.18,548.19 108.26,545.80 109.70,545.80 Z" fill="#c4c4c4" filter="url(#b06)"/>
<ellipse cx="109.70" cy="556.75" rx="2.02" ry="5.97" fill="#e2e2e2" filter="url(#b08)"/>
<g filter="url(#b05)">
<ellipse cx="107.11" cy="561.52" rx="1.22" ry="1.35" fill="#3444c8" opacity="0.95"/>
<ellipse cx="112.29" cy="561.52" rx="1.22" ry="1.35" fill="#3444c8" opacity="0.95"/>
</g>
<path d="M109.70,569.00 C111.22,569.00 112.36,571.42 112.89,574.05 C113.50,575.46 113.65,578.09 113.50,581.12 L113.50,586.17 C113.50,588.19 112.74,588.59 111.98,588.59 L107.42,588.59 C106.66,588.59 105.90,588.19 105.90,586.17 L105.90,581.12 C105.75,578.09 105.90,575.46 106.51,574.05 C107.04,571.42 108.18,569.00 109.70,569.00 Z" fill="#c4c4c4" filter="url(#b06)"/>
<ellipse cx="109.70" cy="580.11" rx="2.13" ry="6.06" fill="#e2e2e2" filter="url(#b08)"/>
<g filter="url(#b05)">
<ellipse cx="109.70" cy="579.10" rx="3.80" ry="8.89" fill="#63d04f" opacity="0.75"/>
<ellipse cx="109.70" cy="579.50" rx="3.04" ry="4.04" fill="#e4ece0" opacity="1.0"/>
<ellipse cx="109.70" cy="574.45" rx="2.89" ry="3.43" fill="#e3281f" opacity="1.0"/>
<ellipse cx="109.70" cy="584.76" rx="3.65" ry="3.23" fill="#e3281f" opacity="1.0"/>
</g>
<path d="M122.70,545.80 C124.14,545.80 125.22,548.19 125.72,550.78 C126.30,552.17 126.44,554.76 126.30,557.74 L126.30,562.72 C126.30,564.71 125.58,565.10 124.86,565.10 L120.54,565.10 C119.82,565.10 119.10,564.71 119.10,562.72 L119.10,557.74 C118.96,554.76 119.10,552.17 119.68,550.78 C120.18,548.19 121.26,545.80 122.70,545.80 Z" fill="#c4c4c4" filter="url(#b06)"/>
<ellipse cx="122.70" cy="556.75" rx="2.02" ry="5.97" fill="#e2e2e2" filter="url(#b08)"/>
<g filter="url(#b05)">
<ellipse cx="120.11" cy="561.52" rx="1.40" ry="1.55" fill="#3444c8" opacity="0.95"/>
<ellipse cx="125.29" cy="561.52" rx="1.40" ry="1.55" fill="#3444c8" opacity="0.95"/>
<ellipse cx="122.70" cy="552.57" rx="1.50" ry="1.30" fill="#4a58c8" opacity="0.5"/>
</g>
<path d="M122.70,569.00 C124.22,569.00 125.36,571.42 125.89,574.05 C126.50,575.46 126.65,578.09 126.50,581.12 L126.50,586.17 C126.50,588.19 125.74,588.59 124.98,588.59 L120.42,588.59 C119.66,588.59 118.90,588.19 118.90,586.17 L118.90,581.12 C118.75,578.09 118.90,575.46 119.51,574.05 C120.04,571.42 121.18,569.00 122.70,569.00 Z" fill="#c4c4c4" filter="url(#b06)"/>
<ellipse cx="122.70" cy="580.11" rx="2.13" ry="6.06" fill="#e2e2e2" filter="url(#b08)"/>
<g filter="url(#b05)">
<ellipse cx="122.70" cy="579.10" rx="3.80" ry="8.89" fill="#63d04f" opacity="0.75"/>
<ellipse cx="122.70" cy="579.50" rx="3.04" ry="4.04" fill="#e4ece0" opacity="1.0"/>
<ellipse cx="122.70" cy="574.45" rx="2.89" ry="3.43" fill="#e3281f" opacity="1.0"/>
<ellipse cx="122.70" cy="584.76" rx="3.65" ry="3.23" fill="#e3281f" opacity="1.0"/>
</g>
<path d="M134.80,545.80 C136.24,545.80 137.32,548.19 137.82,550.78 C138.40,552.17 138.54,554.76 138.40,557.74 L138.40,562.72 C138.40,564.71 137.68,565.10 136.96,565.10 L132.64,565.10 C131.92,565.10 131.20,564.71 131.20,562.72 L131.20,557.74 C131.06,554.76 131.20,552.17 131.78,550.78 C132.28,548.19 133.36,545.80 134.80,545.80 Z" fill="#c4c4c4" filter="url(#b06)"/>
<ellipse cx="134.80" cy="556.75" rx="2.02" ry="5.97" fill="#e2e2e2" filter="url(#b08)"/>
<g filter="url(#b05)">
<ellipse cx="132.21" cy="561.52" rx="1.35" ry="1.50" fill="#3444c8" opacity="0.95"/>
<ellipse cx="137.39" cy="561.52" rx="1.35" ry="1.50" fill="#3444c8" opacity="0.95"/>
</g>
<path d="M134.80,569.00 C136.32,569.00 137.46,571.42 137.99,574.05 C138.60,575.46 138.75,578.09 138.60,581.12 L138.60,586.17 C138.60,588.19 137.84,588.59 137.08,588.59 L132.52,588.59 C131.76,588.59 131.00,588.19 131.00,586.17 L131.00,581.12 C130.85,578.09 131.00,575.46 131.61,574.05 C132.14,571.42 133.28,569.00 134.80,569.00 Z" fill="#c4c4c4" filter="url(#b06)"/>
<ellipse cx="134.80" cy="580.11" rx="2.13" ry="6.06" fill="#e2e2e2" filter="url(#b08)"/>
<g filter="url(#b05)">
<ellipse cx="134.80" cy="579.10" rx="3.80" ry="8.89" fill="#63d04f" opacity="0.75"/>
<ellipse cx="134.80" cy="579.50" rx="3.04" ry="4.04" fill="#e4ece0" opacity="1.0"/>
<ellipse cx="134.80" cy="574.45" rx="2.89" ry="3.43" fill="#e3281f" opacity="1.0"/>
<ellipse cx="134.80" cy="584.76" rx="3.65" ry="3.23" fill="#e3281f" opacity="1.0"/>
</g>
<path d="M145.50,545.80 C146.94,545.80 148.02,548.19 148.52,550.78 C149.10,552.17 149.24,554.76 149.10,557.74 L149.10,562.72 C149.10,564.71 148.38,565.10 147.66,565.10 L143.34,565.10 C142.62,565.10 141.90,564.71 141.90,562.72 L141.90,557.74 C141.76,554.76 141.90,552.17 142.48,550.78 C142.98,548.19 144.06,545.80 145.50,545.80 Z" fill="#c4c4c4" filter="url(#b06)"/>
<ellipse cx="145.50" cy="556.75" rx="2.02" ry="5.97" fill="#e2e2e2" filter="url(#b08)"/>
<g filter="url(#b05)">
<ellipse cx="142.91" cy="561.52" rx="1.40" ry="1.55" fill="#3444c8" opacity="0.95"/>
<ellipse cx="148.09" cy="561.52" rx="1.40" ry="1.55" fill="#3444c8" opacity="0.95"/>
<ellipse cx="145.50" cy="552.57" rx="1.50" ry="1.30" fill="#4a58c8" opacity="0.5"/>
</g>
<path d="M145.50,569.00 C147.02,569.00 148.16,571.42 148.69,574.05 C149.30,575.46 149.45,578.09 149.30,581.12 L149.30,586.17 C149.30,588.19 148.54,588.59 147.78,588.59 L143.22,588.59 C142.46,588.59 141.70,588.19 141.70,586.17 L141.70,581.12 C141.55,578.09 141.70,575.46 142.31,574.05 C142.84,571.42 143.98,569.00 145.50,569.00 Z" fill="#c4c4c4" filter="url(#b06)"/>
<ellipse cx="145.50" cy="580.11" rx="2.13" ry="6.06" fill="#e2e2e2" filter="url(#b08)"/>
<g filter="url(#b05)">
<ellipse cx="145.50" cy="579.10" rx="3.80" ry="8.89" fill="#63d04f" opacity="0.75"/>
<ellipse cx="145.50" cy="579.50" rx="3.04" ry="4.04" fill="#e4ece0" opacity="1.0"/>
<ellipse cx="145.50" cy="574.45" rx="2.89" ry="3.43" fill="#e3281f" opacity="1.0"/>
<ellipse cx="145.50" cy="584.76" rx="3.65" ry="3.23" fill="#e3281f" opacity="1.0"/>
</g>
<path d="M160.40,545.80 C161.84,545.80 162.92,548.19 163.42,550.78 C164.00,552.17 164.14,554.76 164.00,557.74 L164.00,562.72 C164.00,564.71 163.28,565.10 162.56,565.10 L158.24,565.10 C157.52,565.10 156.80,564.71 156.80,562.72 L156.80,557.74 C156.66,554.76 156.80,552.17 157.38,550.78 C157.88,548.19 158.96,545.80 160.40,545.80 Z" fill="#c4c4c4" filter="url(#b06)"/>
<ellipse cx="160.40" cy="556.75" rx="2.02" ry="5.97" fill="#e2e2e2" filter="url(#b08)"/>
<g filter="url(#b05)">
<ellipse cx="157.81" cy="561.52" rx="1.26" ry="1.40" fill="#3444c8" opacity="0.95"/>
<ellipse cx="162.99" cy="561.52" rx="1.26" ry="1.40" fill="#3444c8" opacity="0.95"/>
</g>
<path d="M160.40,569.00 C161.92,569.00 163.06,571.42 163.59,574.05 C164.20,575.46 164.35,578.09 164.20,581.12 L164.20,586.17 C164.20,588.19 163.44,588.59 162.68,588.59 L158.12,588.59 C157.36,588.59 156.60,588.19 156.60,586.17 L156.60,581.12 C156.45,578.09 156.60,575.46 157.21,574.05 C157.74,571.42 158.88,569.00 160.40,569.00 Z" fill="#c4c4c4" filter="url(#b06)"/>
<ellipse cx="160.40" cy="580.11" rx="2.13" ry="6.06" fill="#e2e2e2" filter="url(#b08)"/>
<g filter="url(#b05)">
<ellipse cx="160.40" cy="579.10" rx="3.80" ry="8.89" fill="#63d04f" opacity="0.75"/>
<ellipse cx="160.40" cy="579.50" rx="3.04" ry="4.04" fill="#e4ece0" opacity="1.0"/>
<ellipse cx="160.40" cy="574.45" rx="2.89" ry="3.43" fill="#e3281f" opacity="1.0"/>
<ellipse cx="160.40" cy="584.76" rx="3.65" ry="3.23" fill="#e3281f" opacity="1.0"/>
</g>
<path d="M172.00,545.80 C173.44,545.80 174.52,548.19 175.02,550.78 C175.60,552.17 175.74,554.76 175.60,557.74 L175.60,562.72 C175.60,564.71 174.88,565.10 174.16,565.10 L169.84,565.10 C169.12,565.10 168.40,564.71 168.40,562.72 L168.40,557.74 C168.26,554.76 168.40,552.17 168.98,550.78 C169.48,548.19 170.56,545.80 172.00,545.80 Z" fill="#c4c4c4" filter="url(#b06)"/>
<ellipse cx="172.00" cy="556.75" rx="2.02" ry="5.97" fill="#e2e2e2" filter="url(#b08)"/>
<g filter="url(#b05)">
<ellipse cx="169.41" cy="561.52" rx="1.53" ry="1.70" fill="#3444c8" opacity="0.95"/>
<ellipse cx="174.59" cy="561.52" rx="1.53" ry="1.70" fill="#3444c8" opacity="0.95"/>
<ellipse cx="169.41" cy="561.52" rx="0.80" ry="0.80" fill="#7fe0c8" opacity="1.0"/>
<ellipse cx="174.59" cy="561.52" rx="0.80" ry="0.80" fill="#7fe0c8" opacity="1.0"/>
<ellipse cx="172.00" cy="551.77" rx="2.20" ry="2.00" fill="#3444c8" opacity="1.0"/>
</g>
<path d="M172.00,569.00 C173.52,569.00 174.66,571.42 175.19,574.05 C175.80,575.46 175.95,578.09 175.80,581.12 L175.80,586.17 C175.80,588.19 175.04,588.59 174.28,588.59 L169.72,588.59 C168.96,588.59 168.20,588.19 168.20,586.17 L168.20,581.12 C168.05,578.09 168.20,575.46 168.81,574.05 C169.34,571.42 170.48,569.00 172.00,569.00 Z" fill="#c4c4c4" filter="url(#b06)"/>
<ellipse cx="172.00" cy="580.11" rx="2.13" ry="6.06" fill="#e2e2e2" filter="url(#b08)"/>
<g filter="url(#b05)">
<ellipse cx="172.00" cy="579.10" rx="3.80" ry="8.89" fill="#63d04f" opacity="0.75"/>
<ellipse cx="172.00" cy="579.50" rx="3.04" ry="4.04" fill="#e4ece0" opacity="1.0"/>
<ellipse cx="172.00" cy="574.45" rx="2.89" ry="3.43" fill="#e3281f" opacity="1.0"/>
<ellipse cx="172.00" cy="584.76" rx="3.65" ry="3.23" fill="#e3281f" opacity="1.0"/>
</g>
<path d="M32.10,605.60 C33.54,605.60 34.62,608.05 35.12,610.70 C35.70,612.13 35.84,614.78 35.70,617.84 L35.70,622.94 C35.70,624.98 34.98,625.39 34.26,625.39 L29.94,625.39 C29.22,625.39 28.50,624.98 28.50,622.94 L28.50,617.84 C28.36,614.78 28.50,612.13 29.08,610.70 C29.58,608.05 30.66,605.60 32.10,605.60 Z" fill="#c4c4c4" filter="url(#b06)"/>
<ellipse cx="32.10" cy="616.82" rx="2.02" ry="6.12" fill="#e2e2e2" filter="url(#b08)"/>
<g filter="url(#b05)">
<ellipse cx="29.51" cy="621.72" rx="1.26" ry="1.40" fill="#3444c8" opacity="0.95"/>
<ellipse cx="34.69" cy="621.72" rx="1.26" ry="1.40" fill="#3444c8" opacity="0.95"/>
</g>
<path d="M32.10,630.00 C33.62,630.00 34.76,632.42 35.29,635.05 C35.90,636.46 36.05,639.09 35.90,642.12 L35.90,647.17 C35.90,649.19 35.14,649.59 34.38,649.59 L29.82,649.59 C29.06,649.59 28.30,649.19 28.30,647.17 L28.30,642.12 C28.15,639.09 28.30,636.46 28.91,635.05 C29.44,632.42 30.58,630.00 32.10,630.00 Z" fill="#c4c4c4" filter="url(#b06)"/>
<ellipse cx="32.10" cy="641.11" rx="2.13" ry="6.06" fill="#e2e2e2" filter="url(#b08)"/>
<g filter="url(#b05)">
<ellipse cx="32.10" cy="640.10" rx="3.80" ry="8.89" fill="#63d04f" opacity="0.75"/>
<ellipse cx="32.10" cy="640.50" rx="3.04" ry="4.04" fill="#e8f0e4" opacity="1.0"/>
<ellipse cx="32.10" cy="635.45" rx="2.89" ry="3.43" fill="#e3281f" opacity="1.0"/>
<ellipse cx="32.10" cy="645.76" rx="3.65" ry="3.23" fill="#e3281f" opacity="1.0"/>
</g>
<path d="M43.40,605.60 C44.84,605.60 45.92,608.05 46.42,610.70 C47.00,612.13 47.14,614.78 47.00,617.84 L47.00,622.94 C47.00,624.98 46.28,625.39 45.56,625.39 L41.24,625.39 C40.52,625.39 39.80,624.98 39.80,622.94 L39.80,617.84 C39.66,614.78 39.80,612.13 40.38,610.70 C40.88,608.05 41.96,605.60 43.40,605.60 Z" fill="#c4c4c4" filter="url(#b06)"/>
<ellipse cx="43.40" cy="616.82" rx="2.02" ry="6.12" fill="#e2e2e2" filter="url(#b08)"/>
<g filter="url(#b05)">
<ellipse cx="40.81" cy="621.72" rx="1.53" ry="1.70" fill="#3444c8" opacity="0.95"/>
<ellipse cx="45.99" cy="621.72" rx="1.53" ry="1.70" fill="#3444c8" opacity="0.95"/>
<ellipse cx="40.81" cy="621.72" rx="0.80" ry="0.80" fill="#7fe0c8" opacity="1.0"/>
<ellipse cx="45.99" cy="621.72" rx="0.80" ry="0.80" fill="#7fe0c8" opacity="1.0"/>
<ellipse cx="43.40" cy="611.72" rx="2.20" ry="2.00" fill="#3444c8" opacity="1.0"/>
</g>
<path d="M43.40,630.00 C44.92,630.00 46.06,632.42 46.59,635.05 C47.20,636.46 47.35,639.09 47.20,642.12 L47.20,647.17 C47.20,649.19 46.44,649.59 45.68,649.59 L41.12,649.59 C40.36,649.59 39.60,649.19 39.60,647.17 L39.60,642.12 C39.45,639.09 39.60,636.46 40.21,635.05 C40.74,632.42 41.88,630.00 43.40,630.00 Z" fill="#c4c4c4" filter="url(#b06)"/>
<ellipse cx="43.40" cy="641.11" rx="2.13" ry="6.06" fill="#e2e2e2" filter="url(#b08)"/>
<g filter="url(#b05)">
<ellipse cx="43.40" cy="640.10" rx="3.80" ry="8.89" fill="#63d04f" opacity="0.75"/>
<ellipse cx="43.40" cy="640.50" rx="3.04" ry="4.04" fill="#9ee0d0" opacity="1.0"/>
<ellipse cx="43.40" cy="635.45" rx="2.89" ry="3.43" fill="#e3281f" opacity="1.0"/>
<ellipse cx="43.40" cy="645.76" rx="3.65" ry="3.23" fill="#e3281f" opacity="1.0"/>
</g>
<path d="M55.50,605.60 C56.94,605.60 58.02,608.05 58.52,610.70 C59.10,612.13 59.24,614.78 59.10,617.84 L59.10,622.94 C59.10,624.98 58.38,625.39 57.66,625.39 L53.34,625.39 C52.62,625.39 51.90,624.98 51.90,622.94 L51.90,617.84 C51.76,614.78 51.90,612.13 52.48,610.70 C52.98,608.05 54.06,605.60 55.50,605.60 Z" fill="#c4c4c4" filter="url(#b06)"/>
<ellipse cx="55.50" cy="616.82" rx="2.02" ry="6.12" fill="#e2e2e2" filter="url(#b08)"/>
<g filter="url(#b05)">
<ellipse cx="52.91" cy="621.72" rx="1.22" ry="1.35" fill="#3444c8" opacity="0.95"/>
<ellipse cx="58.09" cy="621.72" rx="1.22" ry="1.35" fill="#3444c8" opacity="0.95"/>
</g>
<path d="M55.50,630.00 C57.02,630.00 58.16,632.42 58.69,635.05 C59.30,636.46 59.45,639.09 59.30,642.12 L59.30,647.17 C59.30,649.19 58.54,649.59 57.78,649.59 L53.22,649.59 C52.46,649.59 51.70,649.19 51.70,647.17 L51.70,642.12 C51.55,639.09 51.70,636.46 52.31,635.05 C52.84,632.42 53.98,630.00 55.50,630.00 Z" fill="#c4c4c4" filter="url(#b06)"/>
<ellipse cx="55.50" cy="641.11" rx="2.13" ry="6.06" fill="#e2e2e2" filter="url(#b08)"/>
<g filter="url(#b05)">
<ellipse cx="55.50" cy="640.10" rx="3.80" ry="8.89" fill="#63d04f" opacity="0.75"/>
<ellipse cx="55.50" cy="640.50" rx="3.04" ry="4.04" fill="#e8f0e4" opacity="1.0"/>
<ellipse cx="55.50" cy="635.45" rx="2.89" ry="3.43" fill="#e3281f" opacity="1.0"/>
<ellipse cx="55.50" cy="645.76" rx="3.65" ry="3.23" fill="#e3281f" opacity="1.0"/>
</g>
<path d="M66.90,605.60 C68.34,605.60 69.42,608.05 69.92,610.70 C70.50,612.13 70.64,614.78 70.50,617.84 L70.50,622.94 C70.50,624.98 69.78,625.39 69.06,625.39 L64.74,625.39 C64.02,625.39 63.30,624.98 63.30,622.94 L63.30,617.84 C63.16,614.78 63.30,612.13 63.88,610.70 C64.38,608.05 65.46,605.60 66.90,605.60 Z" fill="#c4c4c4" filter="url(#b06)"/>
<ellipse cx="66.90" cy="616.82" rx="2.02" ry="6.12" fill="#e2e2e2" filter="url(#b08)"/>
<g filter="url(#b05)">
<ellipse cx="64.31" cy="621.72" rx="1.40" ry="1.55" fill="#3444c8" opacity="0.95"/>
<ellipse cx="69.49" cy="621.72" rx="1.40" ry="1.55" fill="#3444c8" opacity="0.95"/>
<ellipse cx="66.90" cy="612.54" rx="1.50" ry="1.30" fill="#4a58c8" opacity="0.5"/>
</g>
<path d="M66.90,630.00 C68.42,630.00 69.56,632.42 70.09,635.05 C70.70,636.46 70.85,639.09 70.70,642.12 L70.70,647.17 C70.70,649.19 69.94,649.59 69.18,649.59 L64.62,649.59 C63.86,649.59 63.10,649.19 63.10,647.17 L63.10,642.12 C62.95,639.09 63.10,636.46 63.71,635.05 C64.24,632.42 65.38,630.00 66.90,630.00 Z" fill="#c4c4c4" filter="url(#b06)"/>
<ellipse cx="66.90" cy="641.11" rx="2.13" ry="6.06" fill="#e2e2e2" filter="url(#b08)"/>
<g filter="url(#b05)">
<ellipse cx="66.90" cy="640.10" rx="3.80" ry="8.89" fill="#63d04f" opacity="0.75"/>
<ellipse cx="66.90" cy="640.50" rx="3.04" ry="4.04" fill="#9ee0d0" opacity="1.0"/>
<ellipse cx="66.90" cy="635.45" rx="2.89" ry="3.43" fill="#e3281f" opacity="1.0"/>
<ellipse cx="66.90" cy="645.76" rx="3.65" ry="3.23" fill="#e3281f" opacity="1.0"/>
</g>
<path d="M80.20,605.60 C81.64,605.60 82.72,608.05 83.22,610.70 C83.80,612.13 83.94,614.78 83.80,617.84 L83.80,622.94 C83.80,624.98 83.08,625.39 82.36,625.39 L78.04,625.39 C77.32,625.39 76.60,624.98 76.60,622.94 L76.60,617.84 C76.46,614.78 76.60,612.13 77.18,610.70 C77.68,608.05 78.76,605.60 80.20,605.60 Z" fill="#c4c4c4" filter="url(#b06)"/>
<ellipse cx="80.20" cy="616.82" rx="2.02" ry="6.12" fill="#e2e2e2" filter="url(#b08)"/>
<g filter="url(#b05)">
<ellipse cx="77.61" cy="621.72" rx="1.35" ry="1.50" fill="#3444c8" opacity="0.95"/>
<ellipse cx="82.79" cy="621.72" rx="1.35" ry="1.50" fill="#3444c8" opacity="0.95"/>
</g>
<path d="M80.20,630.00 C81.72,630.00 82.86,632.42 83.39,635.05 C84.00,636.46 84.15,639.09 84.00,642.12 L84.00,647.17 C84.00,649.19 83.24,649.59 82.48,649.59 L77.92,649.59 C77.16,649.59 76.40,649.19 76.40,647.17 L76.40,642.12 C76.25,639.09 76.40,636.46 77.01,635.05 C77.54,632.42 78.68,630.00 80.20,630.00 Z" fill="#c4c4c4" filter="url(#b06)"/>
<ellipse cx="80.20" cy="641.11" rx="2.13" ry="6.06" fill="#e2e2e2" filter="url(#b08)"/>
<g filter="url(#b05)">
<ellipse cx="80.20" cy="640.10" rx="3.80" ry="8.89" fill="#63d04f" opacity="0.75"/>
<ellipse cx="80.20" cy="640.50" rx="3.04" ry="4.04" fill="#e8f0e4" opacity="1.0"/>
<ellipse cx="80.20" cy="635.45" rx="2.89" ry="3.43" fill="#e3281f" opacity="1.0"/>
<ellipse cx="80.20" cy="645.76" rx="3.65" ry="3.23" fill="#e3281f" opacity="1.0"/>
</g>
<path d="M92.70,605.60 C94.14,605.60 95.22,608.05 95.72,610.70 C96.30,612.13 96.44,614.78 96.30,617.84 L96.30,622.94 C96.30,624.98 95.58,625.39 94.86,625.39 L90.54,625.39 C89.82,625.39 89.10,624.98 89.10,622.94 L89.10,617.84 C88.96,614.78 89.10,612.13 89.68,610.70 C90.18,608.05 91.26,605.60 92.70,605.60 Z" fill="#c4c4c4" filter="url(#b06)"/>
<ellipse cx="92.70" cy="616.82" rx="2.02" ry="6.12" fill="#e2e2e2" filter="url(#b08)"/>
<g filter="url(#b05)">
<ellipse cx="90.11" cy="621.72" rx="1.40" ry="1.55" fill="#3444c8" opacity="0.95"/>
<ellipse cx="95.29" cy="621.72" rx="1.40" ry="1.55" fill="#3444c8" opacity="0.95"/>
<ellipse cx="92.70" cy="612.54" rx="1.50" ry="1.30" fill="#4a58c8" opacity="0.5"/>
</g>
<path d="M92.70,630.00 C94.22,630.00 95.36,632.42 95.89,635.05 C96.50,636.46 96.65,639.09 96.50,642.12 L96.50,647.17 C96.50,649.19 95.74,649.59 94.98,649.59 L90.42,649.59 C89.66,649.59 88.90,649.19 88.90,647.17 L88.90,642.12 C88.75,639.09 88.90,636.46 89.51,635.05 C90.04,632.42 91.18,630.00 92.70,630.00 Z" fill="#c4c4c4" filter="url(#b06)"/>
<ellipse cx="92.70" cy="641.11" rx="2.13" ry="6.06" fill="#e2e2e2" filter="url(#b08)"/>
<g filter="url(#b05)">
<ellipse cx="92.70" cy="640.10" rx="3.80" ry="8.89" fill="#63d04f" opacity="0.75"/>
<ellipse cx="92.70" cy="640.50" rx="3.04" ry="4.04" fill="#9ee0d0" opacity="1.0"/>
<ellipse cx="92.70" cy="635.45" rx="2.89" ry="3.43" fill="#e3281f" opacity="1.0"/>
<ellipse cx="92.70" cy="645.76" rx="3.65" ry="3.23" fill="#e3281f" opacity="1.0"/>
</g>
<path d="M109.70,605.60 C111.14,605.60 112.22,608.05 112.72,610.70 C113.30,612.13 113.44,614.78 113.30,617.84 L113.30,622.94 C113.30,624.98 112.58,625.39 111.86,625.39 L107.54,625.39 C106.82,625.39 106.10,624.98 106.10,622.94 L106.10,617.84 C105.96,614.78 106.10,612.13 106.68,610.70 C107.18,608.05 108.26,605.60 109.70,605.60 Z" fill="#c4c4c4" filter="url(#b06)"/>
<ellipse cx="109.70" cy="616.82" rx="2.02" ry="6.12" fill="#e2e2e2" filter="url(#b08)"/>
<g filter="url(#b05)">
<ellipse cx="107.11" cy="621.72" rx="1.40" ry="1.55" fill="#3444c8" opacity="0.95"/>
<ellipse cx="112.29" cy="621.72" rx="1.40" ry="1.55" fill="#3444c8" opacity="0.95"/>
<ellipse cx="109.70" cy="612.54" rx="1.50" ry="1.30" fill="#4a58c8" opacity="0.5"/>
</g>
<path d="M109.70,630.00 C111.22,630.00 112.36,632.42 112.89,635.05 C113.50,636.46 113.65,639.09 113.50,642.12 L113.50,647.17 C113.50,649.19 112.74,649.59 111.98,649.59 L107.42,649.59 C106.66,649.59 105.90,649.19 105.90,647.17 L105.90,642.12 C105.75,639.09 105.90,636.46 106.51,635.05 C107.04,632.42 108.18,630.00 109.70,630.00 Z" fill="#c4c4c4" filter="url(#b06)"/>
<ellipse cx="109.70" cy="641.11" rx="2.13" ry="6.06" fill="#e2e2e2" filter="url(#b08)"/>
<g filter="url(#b05)">
<ellipse cx="107.57" cy="646.16" rx="1.40" ry="1.30" fill="#e3281f" opacity="0.9"/>
<ellipse cx="111.83" cy="646.16" rx="1.40" ry="1.30" fill="#e3281f" opacity="0.9"/>
<ellipse cx="109.70" cy="640.10" rx="0.90" ry="0.90" fill="#63d04f" opacity="0.7"/>
</g>
<path d="M122.70,605.60 C124.14,605.60 125.22,608.05 125.72,610.70 C126.30,612.13 126.44,614.78 126.30,617.84 L126.30,622.94 C126.30,624.98 125.58,625.39 124.86,625.39 L120.54,625.39 C119.82,625.39 119.10,624.98 119.10,622.94 L119.10,617.84 C118.96,614.78 119.10,612.13 119.68,610.70 C120.18,608.05 121.26,605.60 122.70,605.60 Z" fill="#c4c4c4" filter="url(#b06)"/>
<ellipse cx="122.70" cy="616.82" rx="2.02" ry="6.12" fill="#e2e2e2" filter="url(#b08)"/>
<g filter="url(#b05)">
<ellipse cx="120.11" cy="621.72" rx="1.35" ry="1.50" fill="#3444c8" opacity="0.95"/>
<ellipse cx="125.29" cy="621.72" rx="1.35" ry="1.50" fill="#3444c8" opacity="0.95"/>
</g>
<path d="M122.70,630.00 C124.22,630.00 125.36,632.42 125.89,635.05 C126.50,636.46 126.65,639.09 126.50,642.12 L126.50,647.17 C126.50,649.19 125.74,649.59 124.98,649.59 L120.42,649.59 C119.66,649.59 118.90,649.19 118.90,647.17 L118.90,642.12 C118.75,639.09 118.90,636.46 119.51,635.05 C120.04,632.42 121.18,630.00 122.70,630.00 Z" fill="#c4c4c4" filter="url(#b06)"/>
<ellipse cx="122.70" cy="641.11" rx="2.13" ry="6.06" fill="#e2e2e2" filter="url(#b08)"/>
<g filter="url(#b05)">
<ellipse cx="120.57" cy="646.16" rx="1.40" ry="1.30" fill="#e3281f" opacity="0.9"/>
<ellipse cx="124.83" cy="646.16" rx="1.40" ry="1.30" fill="#e3281f" opacity="0.9"/>
<ellipse cx="122.70" cy="640.10" rx="0.90" ry="0.90" fill="#63d04f" opacity="0.7"/>
</g>
<path d="M134.80,605.60 C136.24,605.60 137.32,608.05 137.82,610.70 C138.40,612.13 138.54,614.78 138.40,617.84 L138.40,622.94 C138.40,624.98 137.68,625.39 136.96,625.39 L132.64,625.39 C131.92,625.39 131.20,624.98 131.20,622.94 L131.20,617.84 C131.06,614.78 131.20,612.13 131.78,610.70 C132.28,608.05 133.36,605.60 134.80,605.60 Z" fill="#c4c4c4" filter="url(#b06)"/>
<ellipse cx="134.80" cy="616.82" rx="2.02" ry="6.12" fill="#e2e2e2" filter="url(#b08)"/>
<g filter="url(#b05)">
<ellipse cx="132.21" cy="621.72" rx="1.40" ry="1.55" fill="#3444c8" opacity="0.95"/>
<ellipse cx="137.39" cy="621.72" rx="1.40" ry="1.55" fill="#3444c8" opacity="0.95"/>
<ellipse cx="134.80" cy="612.54" rx="1.50" ry="1.30" fill="#4a58c8" opacity="0.5"/>
</g>
<path d="M134.80,630.00 C136.32,630.00 137.46,632.42 137.99,635.05 C138.60,636.46 138.75,639.09 138.60,642.12 L138.60,647.17 C138.60,649.19 137.84,649.59 137.08,649.59 L132.52,649.59 C131.76,649.59 131.00,649.19 131.00,647.17 L131.00,642.12 C130.85,639.09 131.00,636.46 131.61,635.05 C132.14,632.42 133.28,630.00 134.80,630.00 Z" fill="#c4c4c4" filter="url(#b06)"/>
<ellipse cx="134.80" cy="641.11" rx="2.13" ry="6.06" fill="#e2e2e2" filter="url(#b08)"/>
<g filter="url(#b05)">
<ellipse cx="134.80" cy="635.45" rx="3.19" ry="3.03" fill="#e3281f" opacity="1.0"/>
<ellipse cx="134.80" cy="646.16" rx="3.65" ry="2.83" fill="#e3281f" opacity="1.0"/>
</g>
<path d="M145.50,605.60 C146.94,605.60 148.02,608.05 148.52,610.70 C149.10,612.13 149.24,614.78 149.10,617.84 L149.10,622.94 C149.10,624.98 148.38,625.39 147.66,625.39 L143.34,625.39 C142.62,625.39 141.90,624.98 141.90,622.94 L141.90,617.84 C141.76,614.78 141.90,612.13 142.48,610.70 C142.98,608.05 144.06,605.60 145.50,605.60 Z" fill="#c4c4c4" filter="url(#b06)"/>
<ellipse cx="145.50" cy="616.82" rx="2.02" ry="6.12" fill="#e2e2e2" filter="url(#b08)"/>
<g filter="url(#b05)">
<ellipse cx="142.91" cy="621.72" rx="1.26" ry="1.40" fill="#3444c8" opacity="0.95"/>
<ellipse cx="148.09" cy="621.72" rx="1.26" ry="1.40" fill="#3444c8" opacity="0.95"/>
</g>
<path d="M145.50,630.00 C147.02,630.00 148.16,632.42 148.69,635.05 C149.30,636.46 149.45,639.09 149.30,642.12 L149.30,647.17 C149.30,649.19 148.54,649.59 147.78,649.59 L143.22,649.59 C142.46,649.59 141.70,649.19 141.70,647.17 L141.70,642.12 C141.55,639.09 141.70,636.46 142.31,635.05 C142.84,632.42 143.98,630.00 145.50,630.00 Z" fill="#c4c4c4" filter="url(#b06)"/>
<ellipse cx="145.50" cy="641.11" rx="2.13" ry="6.06" fill="#e2e2e2" filter="url(#b08)"/>
<g filter="url(#b05)">
<ellipse cx="143.37" cy="646.16" rx="1.40" ry="1.30" fill="#e3281f" opacity="0.9"/>
<ellipse cx="147.63" cy="646.16" rx="1.40" ry="1.30" fill="#e3281f" opacity="0.9"/>
<ellipse cx="145.50" cy="640.10" rx="0.90" ry="0.90" fill="#63d04f" opacity="0.7"/>
</g>
<path d="M160.40,605.60 C161.84,605.60 162.92,608.05 163.42,610.70 C164.00,612.13 164.14,614.78 164.00,617.84 L164.00,622.94 C164.00,624.98 163.28,625.39 162.56,625.39 L158.24,625.39 C157.52,625.39 156.80,624.98 156.80,622.94 L156.80,617.84 C156.66,614.78 156.80,612.13 157.38,610.70 C157.88,608.05 158.96,605.60 160.40,605.60 Z" fill="#c4c4c4" filter="url(#b06)"/>
<ellipse cx="160.40" cy="616.82" rx="2.02" ry="6.12" fill="#e2e2e2" filter="url(#b08)"/>
<g filter="url(#b05)">
<ellipse cx="157.81" cy="621.72" rx="1.53" ry="1.70" fill="#3444c8" opacity="0.95"/>
<ellipse cx="162.99" cy="621.72" rx="1.53" ry="1.70" fill="#3444c8" opacity="0.95"/>
<ellipse cx="157.81" cy="621.72" rx="0.80" ry="0.80" fill="#7fe0c8" opacity="1.0"/>
<ellipse cx="162.99" cy="621.72" rx="0.80" ry="0.80" fill="#7fe0c8" opacity="1.0"/>
<ellipse cx="160.40" cy="611.72" rx="2.20" ry="2.00" fill="#3444c8" opacity="1.0"/>
</g>
<path d="M160.40,630.00 C161.92,630.00 163.06,632.42 163.59,635.05 C164.20,636.46 164.35,639.09 164.20,642.12 L164.20,647.17 C164.20,649.19 163.44,649.59 162.68,649.59 L158.12,649.59 C157.36,649.59 156.60,649.19 156.60,647.17 L156.60,642.12 C156.45,639.09 156.60,636.46 157.21,635.05 C157.74,632.42 158.88,630.00 160.40,630.00 Z" fill="#c4c4c4" filter="url(#b06)"/>
<ellipse cx="160.40" cy="641.11" rx="2.13" ry="6.06" fill="#e2e2e2" filter="url(#b08)"/>
<g filter="url(#b05)">
<ellipse cx="158.27" cy="646.16" rx="1.40" ry="1.30" fill="#e3281f" opacity="0.9"/>
<ellipse cx="162.53" cy="646.16" rx="1.40" ry="1.30" fill="#e3281f" opacity="0.9"/>
<ellipse cx="160.40" cy="640.10" rx="0.90" ry="0.90" fill="#63d04f" opacity="0.7"/>
</g>
<path d="M172.00,605.60 C173.44,605.60 174.52,608.05 175.02,610.70 C175.60,612.13 175.74,614.78 175.60,617.84 L175.60,622.94 C175.60,624.98 174.88,625.39 174.16,625.39 L169.84,625.39 C169.12,625.39 168.40,624.98 168.40,622.94 L168.40,617.84 C168.26,614.78 168.40,612.13 168.98,610.70 C169.48,608.05 170.56,605.60 172.00,605.60 Z" fill="#c4c4c4" filter="url(#b06)"/>
<ellipse cx="172.00" cy="616.82" rx="2.02" ry="6.12" fill="#e2e2e2" filter="url(#b08)"/>
<g filter="url(#b05)">
<ellipse cx="169.41" cy="621.72" rx="1.22" ry="1.35" fill="#3444c8" opacity="0.95"/>
<ellipse cx="174.59" cy="621.72" rx="1.22" ry="1.35" fill="#3444c8" opacity="0.95"/>
</g>
<path d="M172.00,630.00 C173.52,630.00 174.66,632.42 175.19,635.05 C175.80,636.46 175.95,639.09 175.80,642.12 L175.80,647.17 C175.80,649.19 175.04,649.59 174.28,649.59 L169.72,649.59 C168.96,649.59 168.20,649.19 168.20,647.17 L168.20,642.12 C168.05,639.09 168.20,636.46 168.81,635.05 C169.34,632.42 170.48,630.00 172.00,630.00 Z" fill="#c4c4c4" filter="url(#b06)"/>
<ellipse cx="172.00" cy="641.11" rx="2.13" ry="6.06" fill="#e2e2e2" filter="url(#b08)"/>
<g filter="url(#b05)">
<ellipse cx="169.87" cy="646.16" rx="1.40" ry="1.30" fill="#e3281f" opacity="0.9"/>
<ellipse cx="174.13" cy="646.16" rx="1.40" ry="1.30" fill="#e3281f" opacity="0.9"/>
<ellipse cx="172.00" cy="640.10" rx="0.90" ry="0.90" fill="#63d04f" opacity="0.7"/>
</g>
<rect x="101.30" y="531.60" width="1.70" height="121.00" fill="#161616"/>
<line x1="307.00" y1="478.60" x2="307.00" y2="567.00" stroke="#231f20" stroke-width="1.2"/>
<line x1="306.40" y1="566.40" x2="431.50" y2="566.40" stroke="#231f20" stroke-width="1.2"/>
<line x1="304.40" y1="545.65" x2="307.00" y2="545.65" stroke="#231f20" stroke-width="1"/>
<text x="302.40" y="548.05" font-size="6.6" text-anchor="end" fill="#231f20" stroke="#231f20" stroke-width="0.198" font-family='"Liberation Sans", sans-serif'>1</text>
<line x1="304.40" y1="524.90" x2="307.00" y2="524.90" stroke="#231f20" stroke-width="1"/>
<text x="302.40" y="527.30" font-size="6.6" text-anchor="end" fill="#231f20" stroke="#231f20" stroke-width="0.198" font-family='"Liberation Sans", sans-serif'>2</text>
<line x1="304.40" y1="504.15" x2="307.00" y2="504.15" stroke="#231f20" stroke-width="1"/>
<text x="302.40" y="506.55" font-size="6.6" text-anchor="end" fill="#231f20" stroke="#231f20" stroke-width="0.198" font-family='"Liberation Sans", sans-serif'>3</text>
<line x1="304.40" y1="483.40" x2="307.00" y2="483.40" stroke="#231f20" stroke-width="1"/>
<text x="302.40" y="485.80" font-size="6.6" text-anchor="end" fill="#231f20" stroke="#231f20" stroke-width="0.198" font-family='"Liberation Sans", sans-serif'>4</text>
<rect x="310.00" y="513.90" width="25.00" height="52.50" fill="#a52b3f"/>
<line x1="322.50" y1="482.78" x2="322.50" y2="545.03" stroke="#231f20" stroke-width="1.0"/>
<line x1="320.90" y1="482.78" x2="324.10" y2="482.78" stroke="#231f20" stroke-width="1.0"/>
<line x1="320.90" y1="545.03" x2="324.10" y2="545.03" stroke="#231f20" stroke-width="1.0"/>
<line x1="322.50" y1="566.40" x2="322.50" y2="568.80" stroke="#231f20" stroke-width="1"/>
<rect x="341.30" y="529.05" width="24.50" height="37.35" fill="#6dad4e"/>
<line x1="353.70" y1="509.96" x2="353.70" y2="547.73" stroke="#231f20" stroke-width="1.0"/>
<line x1="352.10" y1="509.96" x2="355.30" y2="509.96" stroke="#231f20" stroke-width="1.0"/>
<line x1="352.10" y1="547.73" x2="355.30" y2="547.73" stroke="#231f20" stroke-width="1.0"/>
<line x1="353.70" y1="566.40" x2="353.70" y2="568.80" stroke="#231f20" stroke-width="1"/>
<rect x="372.50" y="552.70" width="24.50" height="13.70" fill="#3e5c8a"/>
<line x1="384.60" y1="541.91" x2="384.60" y2="563.91" stroke="#231f20" stroke-width="1.0"/>
<line x1="383.00" y1="541.91" x2="386.20" y2="541.91" stroke="#231f20" stroke-width="1.0"/>
<line x1="383.00" y1="563.91" x2="386.20" y2="563.91" stroke="#231f20" stroke-width="1.0"/>
<line x1="384.60" y1="566.40" x2="384.60" y2="568.80" stroke="#231f20" stroke-width="1"/>
<rect x="403.00" y="561.00" width="25.00" height="5.40" fill="#633f6e"/>
<line x1="415.60" y1="554.37" x2="415.60" y2="566.40" stroke="#231f20" stroke-width="1.0"/>
<line x1="414.00" y1="554.37" x2="417.20" y2="554.37" stroke="#231f20" stroke-width="1.0"/>
<line x1="415.60" y1="566.40" x2="415.60" y2="568.80" stroke="#231f20" stroke-width="1"/>
<text x="322.50" y="578.30" font-size="6.4" text-anchor="middle" fill="#231f20" stroke="#231f20" stroke-width="0.192" font-family='"Liberation Sans", sans-serif' textLength="21.00" lengthAdjust="spacingAndGlyphs">Control</text>
<text x="353.60" y="578.30" font-size="6.4" text-anchor="middle" fill="#231f20" stroke="#231f20" stroke-width="0.192" font-family='"Liberation Sans", sans-serif' textLength="10.60" lengthAdjust="spacingAndGlyphs">Len</text>
<text x="384.60" y="578.30" font-size="6.4" text-anchor="middle" fill="#231f20" stroke="#231f20" stroke-width="0.192" font-family='"Liberation Sans", sans-serif' textLength="9.20" lengthAdjust="spacingAndGlyphs">Lef</text>
<text x="415.70" y="578.30" font-size="6.4" text-anchor="middle" fill="#231f20" stroke="#231f20" stroke-width="0.192" font-family='"Liberation Sans", sans-serif' textLength="25.50" lengthAdjust="spacingAndGlyphs">Len &amp; Lef</text>
<text x="369.30" y="590.60" font-size="9.4" text-anchor="middle" fill="#231f20" stroke="#231f20" stroke-width="0.282" font-family='"Liberation Sans", sans-serif' textLength="37.50" lengthAdjust="spacingAndGlyphs">Treatment</text>
<text x="281.40" y="522.00" font-size="8.8" text-anchor="middle" fill="#231f20" stroke="#231f20" stroke-width="0.264" font-family='"Liberation Sans", sans-serif' textLength="39.00" lengthAdjust="spacingAndGlyphs" transform="rotate(-90 281.40 522.00)">Tumor size</text>
<text x="291.4" y="522.4" font-size="8.8" text-anchor="middle" fill="#231f20" font-family='"Liberation Sans", sans-serif' transform="rotate(-90 291.4 522.4)" textLength="88" lengthAdjust="spacingAndGlyphs">(×10<tspan font-size="5.6" dy="-3.2">6</tspan><tspan dy="3.2"> photons/s/cm</tspan><tspan font-size="5.6" dy="-3.2">2</tspan><tspan dy="3.2">/sr)</tspan></text>
<path d="M327.1,469.2 V464.4 H418.5 V469.2" stroke="#231f20" stroke-width="1.1" fill="none"/>
<text x="373.00" y="462.00" font-size="5.6" text-anchor="middle" fill="#231f20" stroke="#231f20" stroke-width="0.168" font-family='"Liberation Sans", sans-serif' textLength="19.20" lengthAdjust="spacingAndGlyphs">p&lt;0.005</text>
<path d="M325.8,478.5 V473.7 H386.3 V478.5" stroke="#231f20" stroke-width="1.1" fill="none"/>
<text x="355.00" y="471.60" font-size="5.6" text-anchor="middle" fill="#231f20" stroke="#231f20" stroke-width="0.168" font-family='"Liberation Sans", sans-serif' textLength="16.80" lengthAdjust="spacingAndGlyphs">p&lt;0.02</text>
<path d="M325.2,487.5 V482.7 H355.6 V487.5" stroke="#231f20" stroke-width="1.1" fill="none"/>
<text x="337.60" y="481.00" font-size="5.6" text-anchor="middle" fill="#231f20" stroke="#231f20" stroke-width="0.168" font-family='"Liberation Sans", sans-serif' textLength="5.00" lengthAdjust="spacingAndGlyphs">ns</text></svg>
</body></html>
